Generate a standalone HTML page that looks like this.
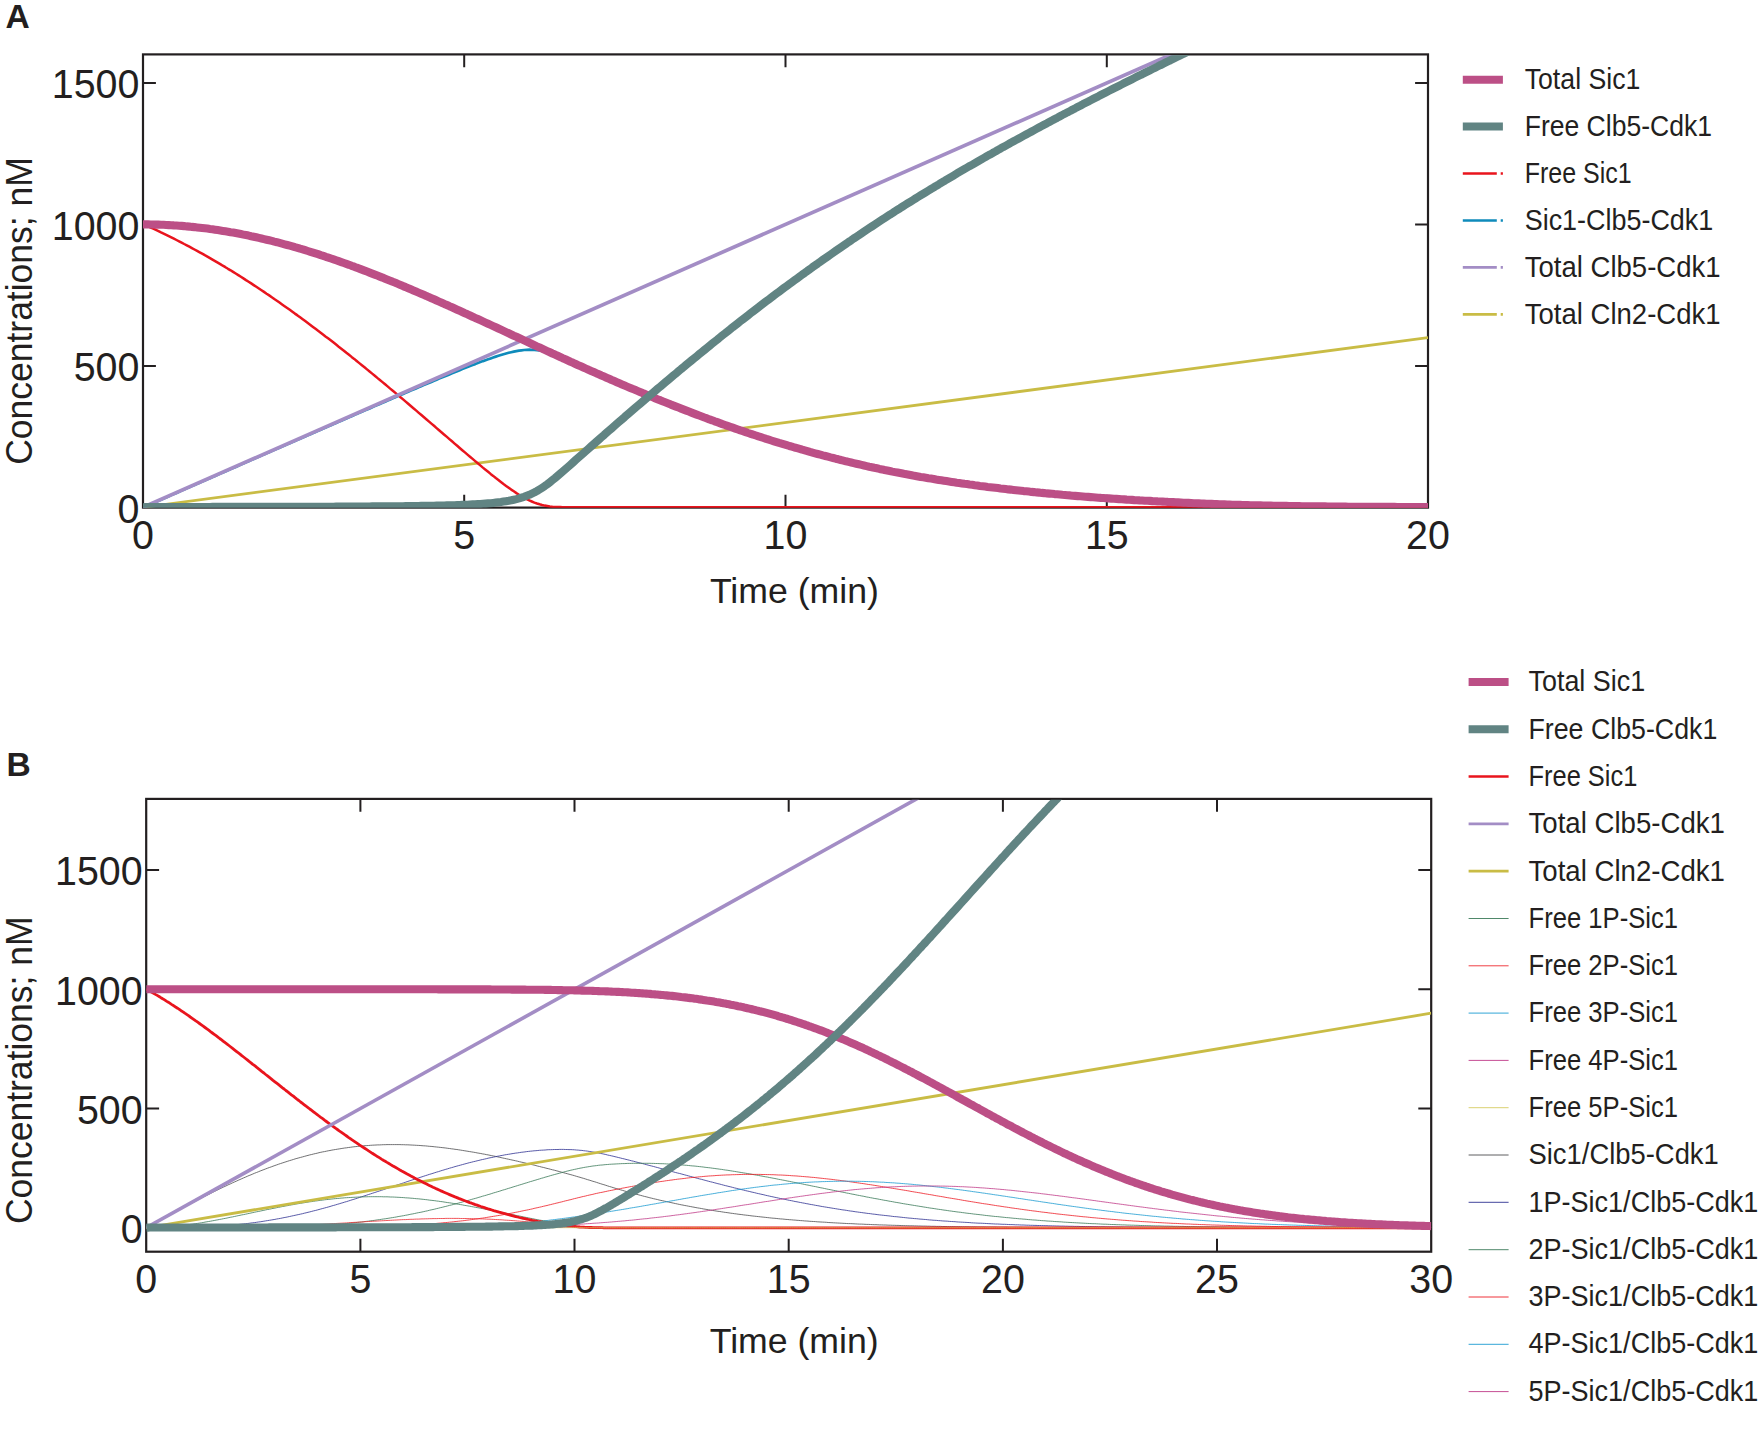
<!DOCTYPE html>
<html lang="en"><head><meta charset="utf-8"><title>Sic1 / Clb5-Cdk1 model</title>
<style>html,body{margin:0;padding:0;background:#fff}body{width:1762px;height:1429px;overflow:hidden}svg{display:block}</style>
</head><body>
<svg width="1762" height="1429" viewBox="0 0 1762 1429" font-family='"Liberation Sans", sans-serif' fill="#231f20">
<defs>
<clipPath id="ca"><rect x="143.0" y="55.3" width="1285.0" height="452.5"/></clipPath>
<clipPath id="cb"><rect x="146.2" y="799.8" width="1285.0" height="451.9"/></clipPath>
</defs>
<text x="5.6" y="28.0" font-size="33.6" font-weight="bold">A</text>
<text x="6.6" y="776.1" font-size="33.6" font-weight="bold">B</text>
<rect x="143.0" y="54.4" width="1285.0" height="453.2" fill="none" stroke="#231f20" stroke-width="2.2"/>
<path d="M143.0,365.9h12.9M1428.0,365.9h-12.9M143.0,224.4h12.9M1428.0,224.4h-12.9M143.0,83.0h12.9M1428.0,83.0h-12.9M464.2,507.6v-12.9M464.2,54.4v12.9M785.5,507.6v-12.9M785.5,54.4v12.9M1106.8,507.6v-12.9M1106.8,54.4v12.9" fill="none" stroke="#231f20" stroke-width="2"/>
<text x="139.4" y="522.6" font-size="40" text-anchor="end" textLength="21.9" lengthAdjust="spacingAndGlyphs">0</text>
<text x="139.4" y="381.2" font-size="40" text-anchor="end" textLength="65.7" lengthAdjust="spacingAndGlyphs">500</text>
<text x="139.4" y="239.7" font-size="40" text-anchor="end" textLength="87.6" lengthAdjust="spacingAndGlyphs">1000</text>
<text x="139.4" y="98.3" font-size="40" text-anchor="end" textLength="87.6" lengthAdjust="spacingAndGlyphs">1500</text>
<text x="143.0" y="548.6" font-size="40" text-anchor="middle" textLength="21.9" lengthAdjust="spacingAndGlyphs">0</text>
<text x="464.2" y="548.6" font-size="40" text-anchor="middle" textLength="21.9" lengthAdjust="spacingAndGlyphs">5</text>
<text x="785.5" y="548.6" font-size="40" text-anchor="middle" textLength="43.8" lengthAdjust="spacingAndGlyphs">10</text>
<text x="1106.8" y="548.6" font-size="40" text-anchor="middle" textLength="43.8" lengthAdjust="spacingAndGlyphs">15</text>
<text x="1428.0" y="548.6" font-size="40" text-anchor="middle" textLength="43.8" lengthAdjust="spacingAndGlyphs">20</text>
<g clip-path="url(#ca)">
<path d="M143.0,507.3L1428.0,337.6" fill="none" stroke="#c9bc45" stroke-width="2.8" stroke-linejoin="round" />
<path d="M143.0,507.3L145.6,506.5L148.2,505.3L150.7,504.2L153.3,503.1L155.9,501.9L158.5,500.8L161.0,499.7L163.6,498.5L166.2,497.4L168.8,496.3L171.3,495.1L173.9,494.0L176.5,492.9L179.1,491.7L181.6,490.6L184.2,489.5L186.8,488.3L189.4,487.2L191.9,486.1L194.5,485.0L197.1,483.8L199.7,482.7L202.2,481.6L204.8,480.4L207.4,479.3L210.0,478.2L212.5,477.0L215.1,475.9L217.7,474.8L220.3,473.6L222.8,472.5L225.4,471.4L228.0,470.3L230.6,469.1L233.1,468.0L235.7,466.9L238.3,465.7L240.9,464.6L243.4,463.5L246.0,462.3L248.6,461.2L251.2,460.1L253.7,459.0L256.3,457.8L258.9,456.7L261.5,455.6L264.0,454.4L266.6,453.3L269.2,452.2L271.8,451.1L274.3,449.9L276.9,448.8L279.5,447.7L282.1,446.5L284.6,445.4L287.2,444.3L289.8,443.2L292.4,442.0L294.9,440.9L297.5,439.8L300.1,438.7L302.7,437.5L305.2,436.4L307.8,435.3L310.4,434.2L313.0,433.0L315.5,431.9L318.1,430.8L320.7,429.7L323.3,428.5L325.8,427.4L328.4,426.3L331.0,425.2L333.6,424.0L336.1,422.9L338.7,421.8L341.3,420.7L343.9,419.5L346.4,418.4L349.0,417.3L351.6,416.2L354.2,415.1L356.7,413.9L359.3,412.8L361.9,411.7L364.5,410.6L367.0,409.5L369.6,408.4L372.2,407.2L374.8,406.1L377.3,405.0L379.9,403.9L382.5,402.8L385.1,401.7L387.6,400.6L390.2,399.5L392.8,398.3L395.4,397.2L397.9,396.1L400.5,395.0L403.1,393.9L405.7,392.8L408.2,391.7L410.8,390.6L413.4,389.5L416.0,388.4L418.5,387.3L421.1,386.2L423.7,385.1L426.3,384.0L428.8,383.0L431.4,381.9L434.0,380.8L436.6,379.7L439.1,378.6L441.7,377.6L444.3,376.5L446.9,375.4L449.4,374.4L452.0,373.3L454.6,372.2L457.2,371.2L459.7,370.2L462.3,369.1L464.9,368.1L467.5,367.1L470.0,366.1L472.6,365.0L475.2,364.1L477.8,363.1L480.3,362.1L482.9,361.1L485.5,360.2L488.1,359.3L490.6,358.4L493.2,357.5L495.8,356.6L498.4,355.8L500.9,355.0L503.5,354.2L506.1,353.5L508.7,352.8L511.2,352.2L513.8,351.6L516.4,351.1L519.0,350.6L521.5,350.3L524.1,350.0L526.7,349.8L529.3,349.7L531.8,349.8L534.4,349.9L537.0,350.2L539.6,350.5L542.1,351.0L544.7,351.7L547.3,352.4L549.9,353.2L552.4,354.1L555.0,355.1L557.6,356.1L560.2,357.2L562.7,358.3L565.3,359.4L567.9,360.5L570.5,361.7L573.1,362.8L575.6,364.0L578.2,365.2L580.8,366.3L583.4,367.5L585.9,368.6L588.5,369.8L591.1,370.9L593.7,372.0L596.2,373.2L598.8,374.3L601.4,375.5L604.0,376.6L606.5,377.7L609.1,378.8L611.7,380.0L614.3,381.1L616.8,382.2L619.4,383.3L622.0,384.4L624.6,385.5L627.1,386.6L629.7,387.7L632.3,388.8L634.9,389.8L637.4,390.9L640.0,392.0L642.6,393.1L645.2,394.1L647.7,395.2L650.3,396.3L652.9,397.3L655.5,398.4L658.0,399.4L660.6,400.4L663.2,401.5L665.8,402.5L668.3,403.5L670.9,404.6L673.5,405.6L676.1,406.6L678.6,407.6L681.2,408.6L683.8,409.6L686.4,410.6L688.9,411.6L691.5,412.6L694.1,413.6L696.7,414.6L699.2,415.5L701.8,416.5L704.4,417.5L707.0,418.4L709.5,419.4L712.1,420.3L714.7,421.3L717.3,422.2L719.8,423.1L722.4,424.1L725.0,425.0L727.6,425.9L730.1,426.8L732.7,427.7L735.3,428.6L737.9,429.5L740.4,430.4L743.0,431.2L745.6,432.1L748.2,433.0L750.7,433.8L753.3,434.7L755.9,435.5L758.5,436.4L761.0,437.2L763.6,438.0L766.2,438.9L768.8,439.7L771.3,440.5L773.9,441.3L776.5,442.1L779.1,442.9L781.6,443.6L784.2,444.4L786.8,445.2L789.4,446.0L791.9,446.7L794.5,447.5L797.1,448.2L799.7,448.9L802.2,449.7L804.8,450.4L807.4,451.1L810.0,451.9L812.5,452.6L815.1,453.3L817.7,454.0L820.3,454.7L822.8,455.4L825.4,456.0L828.0,456.7L830.6,457.4L833.1,458.0L835.7,458.7L838.3,459.3L840.9,460.0L843.4,460.6L846.0,461.3L848.6,461.9L851.2,462.5L853.7,463.1L856.3,463.7L858.9,464.3L861.5,464.9L864.0,465.5L866.6,466.1L869.2,466.7L871.8,467.2L874.3,467.8L876.9,468.3L879.5,468.9L882.1,469.4L884.6,470.0L887.2,470.5L889.8,471.0L892.4,471.6L894.9,472.1L897.5,472.6L900.1,473.1L902.7,473.6L905.2,474.1L907.8,474.5L910.4,475.0L913.0,475.5L915.5,475.9L918.1,476.4L920.7,476.9L923.3,477.3L925.8,477.7L928.4,478.2L931.0,478.6L933.6,479.0L936.1,479.5L938.7,479.9L941.3,480.3L943.9,480.7L946.4,481.1L949.0,481.5L951.6,481.9L954.2,482.3L956.7,482.7L959.3,483.0L961.9,483.4L964.5,483.8L967.0,484.1L969.6,484.5L972.2,484.8L974.8,485.2L977.3,485.5L979.9,485.9L982.5,486.2L985.1,486.5L987.6,486.9L990.2,487.2L992.8,487.5L995.4,487.8L997.9,488.1L1000.5,488.5L1003.1,488.8L1005.7,489.1L1008.3,489.4L1010.8,489.6L1013.4,489.9L1016.0,490.2L1018.6,490.5L1021.1,490.8L1023.7,491.1L1026.3,491.3L1028.9,491.6L1031.4,491.9L1034.0,492.1L1036.6,492.4L1039.2,492.6L1041.7,492.9L1044.3,493.1L1046.9,493.4L1049.5,493.6L1052.0,493.8L1054.6,494.1L1057.2,494.3L1059.8,494.5L1062.3,494.8L1064.9,495.0L1067.5,495.2L1070.1,495.4L1072.6,495.7L1075.2,495.9L1077.8,496.1L1080.4,496.3L1082.9,496.5L1085.5,496.7L1088.1,496.9L1090.7,497.1L1093.2,497.3L1095.8,497.5L1098.4,497.7L1101.0,497.9L1103.5,498.0L1106.1,498.2L1108.7,498.4L1111.3,498.6L1113.8,498.8L1116.4,498.9L1119.0,499.1L1121.6,499.3L1124.1,499.4L1126.7,499.6L1129.3,499.7L1131.9,499.9L1134.4,500.1L1137.0,500.2L1139.6,500.4L1142.2,500.5L1144.7,500.7L1147.3,500.8L1149.9,500.9L1152.5,501.1L1155.0,501.2L1157.6,501.4L1160.2,501.5L1162.8,501.6L1165.3,501.7L1167.9,501.9L1170.5,502.0L1173.1,502.1L1175.6,502.3L1178.2,502.4L1180.8,502.5L1183.4,502.7L1185.9,502.8L1188.5,502.9L1191.1,503.0L1193.7,503.2L1196.2,503.3L1198.8,503.4L1201.4,503.5L1204.0,503.6L1206.5,503.7L1209.1,503.8L1211.7,503.9L1214.3,504.0L1216.8,504.1L1219.4,504.2L1222.0,504.3L1224.6,504.4L1227.1,504.5L1229.7,504.6L1232.3,504.7L1234.9,504.8L1237.4,504.8L1240.0,504.9L1242.6,505.0L1245.2,505.1L1247.7,505.1L1250.3,505.2L1252.9,505.2L1255.5,505.3L1258.0,505.4L1260.6,505.4L1263.2,505.5L1265.8,505.5L1268.3,505.6L1270.9,505.6L1273.5,505.7L1276.1,505.7L1278.6,505.8L1281.2,505.8L1283.8,505.9L1286.4,505.9L1288.9,506.0L1291.5,506.0L1294.1,506.0L1296.7,506.1L1299.2,506.1L1301.8,506.2L1304.4,506.2L1307.0,506.2L1309.5,506.3L1312.1,506.3L1314.7,506.3L1317.3,506.4L1319.8,506.4L1322.4,506.4L1325.0,506.4L1327.6,506.5L1330.1,506.5L1332.7,506.5L1335.3,506.5L1337.9,506.6L1340.4,506.6L1343.0,506.6L1345.6,506.6L1348.2,506.7L1350.7,506.7L1353.3,506.7L1355.9,506.7L1358.5,506.7L1361.0,506.8L1363.6,506.8L1366.2,506.8L1368.8,506.8L1371.3,506.8L1373.9,506.8L1376.5,506.9L1379.1,506.9L1381.6,506.9L1384.2,506.9L1386.8,506.9L1389.4,506.9L1391.9,506.9L1394.5,506.9L1397.1,507.0L1399.7,507.0L1402.2,507.0L1404.8,507.0L1407.4,507.0L1410.0,507.0L1412.5,507.0L1415.1,507.0L1417.7,507.0L1420.3,507.0L1422.8,507.1L1425.4,507.1L1428.0,507.1" fill="none" stroke="#0f8bbb" stroke-width="2.7" stroke-linejoin="round" />
<path d="M143.0,224.4L145.6,225.2L148.2,226.4L150.7,227.6L153.3,228.7L155.9,229.9L158.5,231.1L161.0,232.4L163.6,233.6L166.2,234.8L168.8,236.1L171.3,237.4L173.9,238.7L176.5,240.0L179.1,241.3L181.6,242.6L184.2,244.0L186.8,245.3L189.4,246.7L191.9,248.1L194.5,249.5L197.1,250.9L199.7,252.3L202.2,253.7L204.8,255.2L207.4,256.6L210.0,258.1L212.5,259.6L215.1,261.1L217.7,262.6L220.3,264.1L222.8,265.7L225.4,267.2L228.0,268.8L230.6,270.3L233.1,271.9L235.7,273.5L238.3,275.1L240.9,276.8L243.4,278.4L246.0,280.1L248.6,281.7L251.2,283.4L253.7,285.1L256.3,286.8L258.9,288.5L261.5,290.2L264.0,291.9L266.6,293.7L269.2,295.4L271.8,297.2L274.3,299.0L276.9,300.7L279.5,302.5L282.1,304.4L284.6,306.2L287.2,308.0L289.8,309.8L292.4,311.7L294.9,313.6L297.5,315.4L300.1,317.3L302.7,319.2L305.2,321.1L307.8,323.0L310.4,324.9L313.0,326.9L315.5,328.8L318.1,330.8L320.7,332.7L323.3,334.7L325.8,336.7L328.4,338.6L331.0,340.6L333.6,342.6L336.1,344.6L338.7,346.7L341.3,348.7L343.9,350.7L346.4,352.8L349.0,354.8L351.6,356.9L354.2,358.9L356.7,361.0L359.3,363.1L361.9,365.2L364.5,367.3L367.0,369.4L369.6,371.5L372.2,373.6L374.8,375.7L377.3,377.9L379.9,380.0L382.5,382.1L385.1,384.3L387.6,386.4L390.2,388.6L392.8,390.7L395.4,392.9L397.9,395.1L400.5,397.3L403.1,399.4L405.7,401.6L408.2,403.8L410.8,406.0L413.4,408.2L416.0,410.4L418.5,412.6L421.1,414.8L423.7,417.0L426.3,419.2L428.8,421.4L431.4,423.6L434.0,425.8L436.6,428.1L439.1,430.3L441.7,432.5L444.3,434.7L446.9,436.9L449.4,439.1L452.0,441.3L454.6,443.6L457.2,445.8L459.7,448.0L462.3,450.2L464.9,452.4L467.5,454.6L470.0,456.7L472.6,458.9L475.2,461.1L477.8,463.3L480.3,465.4L482.9,467.6L485.5,469.7L488.1,471.8L490.6,473.9L493.2,475.9L495.8,478.0L498.4,480.0L500.9,482.0L503.5,484.0L506.1,485.9L508.7,487.8L511.2,489.6L513.8,491.3L516.4,493.1L519.0,494.7L521.5,496.2L524.1,497.7L526.7,499.1L529.3,500.4L531.8,501.5L534.4,502.6L537.0,503.5L539.6,504.3L542.1,505.0L544.7,505.6L547.3,506.0L549.9,506.4L552.4,506.7L555.0,506.9L557.6,507.0L560.2,507.1L562.7,507.2L565.3,507.2L567.9,507.3L570.5,507.3L573.1,507.3L575.6,507.3L578.2,507.3L580.8,507.3L583.4,507.3L585.9,507.3L588.5,507.3L591.1,507.3L593.7,507.3L596.2,507.3L598.8,507.3L601.4,507.3L604.0,507.3L606.5,507.3L609.1,507.3L611.7,507.3L614.3,507.3L616.8,507.3L619.4,507.3L622.0,507.3L624.6,507.3L627.1,507.3L629.7,507.3L632.3,507.3L634.9,507.3L637.4,507.3L640.0,507.3L642.6,507.3L645.2,507.3L647.7,507.3L650.3,507.3L652.9,507.3L655.5,507.3L658.0,507.3L660.6,507.3L663.2,507.3L665.8,507.3L668.3,507.3L670.9,507.3L673.5,507.3L676.1,507.3L678.6,507.3L681.2,507.3L683.8,507.3L686.4,507.3L688.9,507.3L691.5,507.3L694.1,507.3L696.7,507.3L699.2,507.3L701.8,507.3L704.4,507.3L707.0,507.3L709.5,507.3L712.1,507.3L714.7,507.3L717.3,507.3L719.8,507.3L722.4,507.3L725.0,507.3L727.6,507.3L730.1,507.3L732.7,507.3L735.3,507.3L737.9,507.3L740.4,507.3L743.0,507.3L745.6,507.3L748.2,507.3L750.7,507.3L753.3,507.3L755.9,507.3L758.5,507.3L761.0,507.3L763.6,507.3L766.2,507.3L768.8,507.3L771.3,507.3L773.9,507.3L776.5,507.3L779.1,507.3L781.6,507.3L784.2,507.3L786.8,507.3L789.4,507.3L791.9,507.3L794.5,507.3L797.1,507.3L799.7,507.3L802.2,507.3L804.8,507.3L807.4,507.3L810.0,507.3L812.5,507.3L815.1,507.3L817.7,507.3L820.3,507.3L822.8,507.3L825.4,507.3L828.0,507.3L830.6,507.3L833.1,507.3L835.7,507.3L838.3,507.3L840.9,507.3L843.4,507.3L846.0,507.3L848.6,507.3L851.2,507.3L853.7,507.3L856.3,507.3L858.9,507.3L861.5,507.3L864.0,507.3L866.6,507.3L869.2,507.3L871.8,507.3L874.3,507.3L876.9,507.3L879.5,507.3L882.1,507.3L884.6,507.3L887.2,507.3L889.8,507.3L892.4,507.3L894.9,507.3L897.5,507.3L900.1,507.3L902.7,507.3L905.2,507.3L907.8,507.3L910.4,507.3L913.0,507.3L915.5,507.3L918.1,507.3L920.7,507.3L923.3,507.3L925.8,507.3L928.4,507.3L931.0,507.3L933.6,507.3L936.1,507.3L938.7,507.3L941.3,507.3L943.9,507.3L946.4,507.3L949.0,507.3L951.6,507.3L954.2,507.3L956.7,507.3L959.3,507.3L961.9,507.3L964.5,507.3L967.0,507.3L969.6,507.3L972.2,507.3L974.8,507.3L977.3,507.3L979.9,507.3L982.5,507.3L985.1,507.3L987.6,507.3L990.2,507.3L992.8,507.3L995.4,507.3L997.9,507.3L1000.5,507.3L1003.1,507.3L1005.7,507.3L1008.3,507.3L1010.8,507.3L1013.4,507.3L1016.0,507.3L1018.6,507.3L1021.1,507.3L1023.7,507.3L1026.3,507.3L1028.9,507.3L1031.4,507.3L1034.0,507.3L1036.6,507.3L1039.2,507.3L1041.7,507.3L1044.3,507.3L1046.9,507.3L1049.5,507.3L1052.0,507.3L1054.6,507.3L1057.2,507.3L1059.8,507.3L1062.3,507.3L1064.9,507.3L1067.5,507.3L1070.1,507.3L1072.6,507.3L1075.2,507.3L1077.8,507.3L1080.4,507.3L1082.9,507.3L1085.5,507.3L1088.1,507.3L1090.7,507.3L1093.2,507.3L1095.8,507.3L1098.4,507.3L1101.0,507.3L1103.5,507.3L1106.1,507.3L1108.7,507.3L1111.3,507.3L1113.8,507.3L1116.4,507.3L1119.0,507.3L1121.6,507.3L1124.1,507.3L1126.7,507.3L1129.3,507.3L1131.9,507.3L1134.4,507.3L1137.0,507.3L1139.6,507.3L1142.2,507.3L1144.7,507.3L1147.3,507.3L1149.9,507.3L1152.5,507.3L1155.0,507.3L1157.6,507.3L1160.2,507.3L1162.8,507.3L1165.3,507.3L1167.9,507.3L1170.5,507.3L1173.1,507.3L1175.6,507.3L1178.2,507.3L1180.8,507.3L1183.4,507.3L1185.9,507.3L1188.5,507.3L1191.1,507.3L1193.7,507.3L1196.2,507.3L1198.8,507.3L1201.4,507.3L1204.0,507.3L1206.5,507.3L1209.1,507.3L1211.7,507.3L1214.3,507.3L1216.8,507.3L1219.4,507.3L1222.0,507.3L1224.6,507.3L1227.1,507.3L1229.7,507.3L1232.3,507.3L1234.9,507.3L1237.4,507.3L1240.0,507.3L1242.6,507.3L1245.2,507.3L1247.7,507.3L1250.3,507.3L1252.9,507.3L1255.5,507.3L1258.0,507.3L1260.6,507.3L1263.2,507.3L1265.8,507.3L1268.3,507.3L1270.9,507.3L1273.5,507.3L1276.1,507.3L1278.6,507.3L1281.2,507.3L1283.8,507.3L1286.4,507.3L1288.9,507.3L1291.5,507.3L1294.1,507.3L1296.7,507.3L1299.2,507.3L1301.8,507.3L1304.4,507.3L1307.0,507.3L1309.5,507.3L1312.1,507.3L1314.7,507.3L1317.3,507.3L1319.8,507.3L1322.4,507.3L1325.0,507.3L1327.6,507.3L1330.1,507.3L1332.7,507.3L1335.3,507.3L1337.9,507.3L1340.4,507.3L1343.0,507.3L1345.6,507.3L1348.2,507.3L1350.7,507.3L1353.3,507.3L1355.9,507.3L1358.5,507.3L1361.0,507.3L1363.6,507.3L1366.2,507.3L1368.8,507.3L1371.3,507.3L1373.9,507.3L1376.5,507.3L1379.1,507.3L1381.6,507.3L1384.2,507.3L1386.8,507.3L1389.4,507.3L1391.9,507.3L1394.5,507.3L1397.1,507.3L1399.7,507.3L1402.2,507.3L1404.8,507.3L1407.4,507.3L1410.0,507.3L1412.5,507.3L1415.1,507.3L1417.7,507.3L1420.3,507.3L1422.8,507.3L1425.4,507.3L1428.0,507.3" fill="none" stroke="#e9141d" stroke-width="2.5" stroke-linejoin="round" />
<path d="M143.0,507.3L1428.0,-58.5" fill="none" stroke="#a38dc5" stroke-width="3.7" stroke-linejoin="round" />
<path d="M143.0,224.4L145.6,224.4L148.2,224.4L150.7,224.5L153.3,224.5L155.9,224.6L158.5,224.6L161.0,224.7L163.6,224.8L166.2,225.0L168.8,225.1L171.3,225.2L173.9,225.4L176.5,225.5L179.1,225.7L181.6,225.9L184.2,226.1L186.8,226.4L189.4,226.6L191.9,226.9L194.5,227.1L197.1,227.4L199.7,227.7L202.2,228.0L204.8,228.3L207.4,228.6L210.0,229.0L212.5,229.3L215.1,229.7L217.7,230.1L220.3,230.5L222.8,230.9L225.4,231.3L228.0,231.7L230.6,232.2L233.1,232.6L235.7,233.1L238.3,233.6L240.9,234.1L243.4,234.6L246.0,235.1L248.6,235.6L251.2,236.2L253.7,236.7L256.3,237.3L258.9,237.9L261.5,238.5L264.0,239.1L266.6,239.7L269.2,240.3L271.8,240.9L274.3,241.6L276.9,242.2L279.5,242.9L282.1,243.6L284.6,244.3L287.2,245.0L289.8,245.7L292.4,246.4L294.9,247.2L297.5,247.9L300.1,248.7L302.7,249.4L305.2,250.2L307.8,251.0L310.4,251.8L313.0,252.6L315.5,253.4L318.1,254.2L320.7,255.1L323.3,255.9L325.8,256.8L328.4,257.6L331.0,258.5L333.6,259.4L336.1,260.3L338.7,261.2L341.3,262.1L343.9,263.0L346.4,263.9L349.0,264.8L351.6,265.8L354.2,266.7L356.7,267.7L359.3,268.6L361.9,269.6L364.5,270.6L367.0,271.6L369.6,272.6L372.2,273.6L374.8,274.6L377.3,275.6L379.9,276.6L382.5,277.6L385.1,278.7L387.6,279.7L390.2,280.7L392.8,281.8L395.4,282.8L397.9,283.9L400.5,285.0L403.1,286.1L405.7,287.1L408.2,288.2L410.8,289.3L413.4,290.4L416.0,291.5L418.5,292.6L421.1,293.7L423.7,294.8L426.3,295.9L428.8,297.1L431.4,298.2L434.0,299.3L436.6,300.5L439.1,301.6L441.7,302.7L444.3,303.9L446.9,305.0L449.4,306.2L452.0,307.3L454.6,308.5L457.2,309.7L459.7,310.8L462.3,312.0L464.9,313.2L467.5,314.3L470.0,315.5L472.6,316.7L475.2,317.9L477.8,319.0L480.3,320.2L482.9,321.4L485.5,322.6L488.1,323.8L490.6,324.9L493.2,326.1L495.8,327.3L498.4,328.5L500.9,329.7L503.5,330.9L506.1,332.1L508.7,333.3L511.2,334.5L513.8,335.7L516.4,336.8L519.0,338.0L521.5,339.2L524.1,340.4L526.7,341.6L529.3,342.8L531.8,344.0L534.4,345.2L537.0,346.4L539.6,347.5L542.1,348.7L544.7,349.9L547.3,351.1L549.9,352.3L552.4,353.5L555.0,354.6L557.6,355.8L560.2,357.0L562.7,358.2L565.3,359.3L567.9,360.5L570.5,361.7L573.1,362.8L575.6,364.0L578.2,365.2L580.8,366.3L583.4,367.5L585.9,368.6L588.5,369.8L591.1,370.9L593.7,372.0L596.2,373.2L598.8,374.3L601.4,375.5L604.0,376.6L606.5,377.7L609.1,378.8L611.7,380.0L614.3,381.1L616.8,382.2L619.4,383.3L622.0,384.4L624.6,385.5L627.1,386.6L629.7,387.7L632.3,388.8L634.9,389.8L637.4,390.9L640.0,392.0L642.6,393.1L645.2,394.1L647.7,395.2L650.3,396.3L652.9,397.3L655.5,398.4L658.0,399.4L660.6,400.4L663.2,401.5L665.8,402.5L668.3,403.5L670.9,404.6L673.5,405.6L676.1,406.6L678.6,407.6L681.2,408.6L683.8,409.6L686.4,410.6L688.9,411.6L691.5,412.6L694.1,413.6L696.7,414.6L699.2,415.5L701.8,416.5L704.4,417.5L707.0,418.4L709.5,419.4L712.1,420.3L714.7,421.3L717.3,422.2L719.8,423.1L722.4,424.1L725.0,425.0L727.6,425.9L730.1,426.8L732.7,427.7L735.3,428.6L737.9,429.5L740.4,430.4L743.0,431.2L745.6,432.1L748.2,433.0L750.7,433.8L753.3,434.7L755.9,435.5L758.5,436.4L761.0,437.2L763.6,438.0L766.2,438.9L768.8,439.7L771.3,440.5L773.9,441.3L776.5,442.1L779.1,442.9L781.6,443.6L784.2,444.4L786.8,445.2L789.4,446.0L791.9,446.7L794.5,447.5L797.1,448.2L799.7,448.9L802.2,449.7L804.8,450.4L807.4,451.1L810.0,451.9L812.5,452.6L815.1,453.3L817.7,454.0L820.3,454.7L822.8,455.4L825.4,456.0L828.0,456.7L830.6,457.4L833.1,458.0L835.7,458.7L838.3,459.3L840.9,460.0L843.4,460.6L846.0,461.3L848.6,461.9L851.2,462.5L853.7,463.1L856.3,463.7L858.9,464.3L861.5,464.9L864.0,465.5L866.6,466.1L869.2,466.7L871.8,467.2L874.3,467.8L876.9,468.3L879.5,468.9L882.1,469.4L884.6,470.0L887.2,470.5L889.8,471.0L892.4,471.6L894.9,472.1L897.5,472.6L900.1,473.1L902.7,473.6L905.2,474.1L907.8,474.5L910.4,475.0L913.0,475.5L915.5,475.9L918.1,476.4L920.7,476.9L923.3,477.3L925.8,477.7L928.4,478.2L931.0,478.6L933.6,479.0L936.1,479.5L938.7,479.9L941.3,480.3L943.9,480.7L946.4,481.1L949.0,481.5L951.6,481.9L954.2,482.3L956.7,482.7L959.3,483.0L961.9,483.4L964.5,483.8L967.0,484.1L969.6,484.5L972.2,484.8L974.8,485.2L977.3,485.5L979.9,485.9L982.5,486.2L985.1,486.5L987.6,486.9L990.2,487.2L992.8,487.5L995.4,487.8L997.9,488.1L1000.5,488.5L1003.1,488.8L1005.7,489.1L1008.3,489.4L1010.8,489.6L1013.4,489.9L1016.0,490.2L1018.6,490.5L1021.1,490.8L1023.7,491.1L1026.3,491.3L1028.9,491.6L1031.4,491.9L1034.0,492.1L1036.6,492.4L1039.2,492.6L1041.7,492.9L1044.3,493.1L1046.9,493.4L1049.5,493.6L1052.0,493.8L1054.6,494.1L1057.2,494.3L1059.8,494.5L1062.3,494.8L1064.9,495.0L1067.5,495.2L1070.1,495.4L1072.6,495.7L1075.2,495.9L1077.8,496.1L1080.4,496.3L1082.9,496.5L1085.5,496.7L1088.1,496.9L1090.7,497.1L1093.2,497.3L1095.8,497.5L1098.4,497.7L1101.0,497.9L1103.5,498.0L1106.1,498.2L1108.7,498.4L1111.3,498.6L1113.8,498.8L1116.4,498.9L1119.0,499.1L1121.6,499.3L1124.1,499.4L1126.7,499.6L1129.3,499.7L1131.9,499.9L1134.4,500.1L1137.0,500.2L1139.6,500.4L1142.2,500.5L1144.7,500.7L1147.3,500.8L1149.9,500.9L1152.5,501.1L1155.0,501.2L1157.6,501.4L1160.2,501.5L1162.8,501.6L1165.3,501.7L1167.9,501.9L1170.5,502.0L1173.1,502.1L1175.6,502.3L1178.2,502.4L1180.8,502.5L1183.4,502.7L1185.9,502.8L1188.5,502.9L1191.1,503.0L1193.7,503.2L1196.2,503.3L1198.8,503.4L1201.4,503.5L1204.0,503.6L1206.5,503.7L1209.1,503.8L1211.7,503.9L1214.3,504.0L1216.8,504.1L1219.4,504.2L1222.0,504.3L1224.6,504.4L1227.1,504.5L1229.7,504.6L1232.3,504.7L1234.9,504.8L1237.4,504.8L1240.0,504.9L1242.6,505.0L1245.2,505.1L1247.7,505.1L1250.3,505.2L1252.9,505.2L1255.5,505.3L1258.0,505.4L1260.6,505.4L1263.2,505.5L1265.8,505.5L1268.3,505.6L1270.9,505.6L1273.5,505.7L1276.1,505.7L1278.6,505.8L1281.2,505.8L1283.8,505.9L1286.4,505.9L1288.9,506.0L1291.5,506.0L1294.1,506.0L1296.7,506.1L1299.2,506.1L1301.8,506.2L1304.4,506.2L1307.0,506.2L1309.5,506.3L1312.1,506.3L1314.7,506.3L1317.3,506.4L1319.8,506.4L1322.4,506.4L1325.0,506.4L1327.6,506.5L1330.1,506.5L1332.7,506.5L1335.3,506.5L1337.9,506.6L1340.4,506.6L1343.0,506.6L1345.6,506.6L1348.2,506.7L1350.7,506.7L1353.3,506.7L1355.9,506.7L1358.5,506.7L1361.0,506.8L1363.6,506.8L1366.2,506.8L1368.8,506.8L1371.3,506.8L1373.9,506.8L1376.5,506.9L1379.1,506.9L1381.6,506.9L1384.2,506.9L1386.8,506.9L1389.4,506.9L1391.9,506.9L1394.5,506.9L1397.1,507.0L1399.7,507.0L1402.2,507.0L1404.8,507.0L1407.4,507.0L1410.0,507.0L1412.5,507.0L1415.1,507.0L1417.7,507.0L1420.3,507.0L1422.8,507.1L1425.4,507.1L1428.0,507.1" fill="none" stroke="#bc4f86" stroke-width="8.1" stroke-linejoin="round" />
<path d="M143.0,507.3L145.6,507.0L148.2,507.0L150.7,507.0L153.3,507.0L155.9,507.0L158.5,507.0L161.0,507.0L163.6,507.0L166.2,507.0L168.8,507.0L171.3,507.0L173.9,507.0L176.5,507.0L179.1,507.0L181.6,507.0L184.2,507.0L186.8,507.0L189.4,507.0L191.9,507.0L194.5,507.0L197.1,507.0L199.7,507.0L202.2,507.0L204.8,507.0L207.4,507.0L210.0,507.0L212.5,506.9L215.1,506.9L217.7,506.9L220.3,506.9L222.8,506.9L225.4,506.9L228.0,506.9L230.6,506.9L233.1,506.9L235.7,506.9L238.3,506.9L240.9,506.9L243.4,506.9L246.0,506.9L248.6,506.9L251.2,506.9L253.7,506.9L256.3,506.9L258.9,506.9L261.5,506.9L264.0,506.9L266.6,506.9L269.2,506.9L271.8,506.9L274.3,506.8L276.9,506.8L279.5,506.8L282.1,506.8L284.6,506.8L287.2,506.8L289.8,506.8L292.4,506.8L294.9,506.8L297.5,506.8L300.1,506.8L302.7,506.8L305.2,506.8L307.8,506.8L310.4,506.7L313.0,506.7L315.5,506.7L318.1,506.7L320.7,506.7L323.3,506.7L325.8,506.7L328.4,506.7L331.0,506.7L333.6,506.7L336.1,506.6L338.7,506.6L341.3,506.6L343.9,506.6L346.4,506.6L349.0,506.6L351.6,506.6L354.2,506.6L356.7,506.5L359.3,506.5L361.9,506.5L364.5,506.5L367.0,506.5L369.6,506.5L372.2,506.4L374.8,506.4L377.3,506.4L379.9,506.4L382.5,506.4L385.1,506.3L387.6,506.3L390.2,506.3L392.8,506.3L395.4,506.2L397.9,506.2L400.5,506.2L403.1,506.2L405.7,506.1L408.2,506.1L410.8,506.1L413.4,506.0L416.0,506.0L418.5,506.0L421.1,505.9L423.7,505.9L426.3,505.8L428.8,505.8L431.4,505.7L434.0,505.7L436.6,505.6L439.1,505.6L441.7,505.5L444.3,505.5L446.9,505.4L449.4,505.3L452.0,505.2L454.6,505.2L457.2,505.1L459.7,505.0L462.3,504.9L464.9,504.8L467.5,504.7L470.0,504.5L472.6,504.4L475.2,504.3L477.8,504.1L480.3,504.0L482.9,503.8L485.5,503.6L488.1,503.4L490.6,503.2L493.2,502.9L495.8,502.6L498.4,502.3L500.9,502.0L503.5,501.6L506.1,501.2L508.7,500.8L511.2,500.3L513.8,499.7L516.4,499.1L519.0,498.4L521.5,497.6L524.1,496.8L526.7,495.8L529.3,494.8L531.8,493.6L534.4,492.4L537.0,491.0L539.6,489.4L542.1,487.8L544.7,486.1L547.3,484.2L549.9,482.2L552.4,480.2L555.0,478.1L557.6,475.9L560.2,473.7L562.7,471.5L565.3,469.2L567.9,467.0L570.5,464.7L573.1,462.4L575.6,460.1L578.2,457.8L580.8,455.5L583.4,453.2L585.9,451.0L588.5,448.7L591.1,446.4L593.7,444.1L596.2,441.9L598.8,439.6L601.4,437.3L604.0,435.1L606.5,432.8L609.1,430.5L611.7,428.3L614.3,426.0L616.8,423.8L619.4,421.5L622.0,419.3L624.6,417.1L627.1,414.8L629.7,412.6L632.3,410.4L634.9,408.2L637.4,406.0L640.0,403.8L642.6,401.6L645.2,399.4L647.7,397.2L650.3,395.0L652.9,392.8L655.5,390.6L658.0,388.4L660.6,386.3L663.2,384.1L665.8,381.9L668.3,379.8L670.9,377.6L673.5,375.4L676.1,373.3L678.6,371.2L681.2,369.0L683.8,366.9L686.4,364.7L688.9,362.6L691.5,360.5L694.1,358.4L696.7,356.3L699.2,354.2L701.8,352.1L704.4,350.0L707.0,347.9L709.5,345.8L712.1,343.7L714.7,341.6L717.3,339.6L719.8,337.5L722.4,335.4L725.0,333.4L727.6,331.3L730.1,329.3L732.7,327.2L735.3,325.2L737.9,323.2L740.4,321.2L743.0,319.2L745.6,317.2L748.2,315.2L750.7,313.2L753.3,311.2L755.9,309.2L758.5,307.2L761.0,305.3L763.6,303.3L766.2,301.3L768.8,299.4L771.3,297.5L773.9,295.5L776.5,293.6L779.1,291.7L781.6,289.8L784.2,287.8L786.8,285.9L789.4,284.0L791.9,282.2L794.5,280.3L797.1,278.4L799.7,276.5L802.2,274.6L804.8,272.8L807.4,270.9L810.0,269.1L812.5,267.2L815.1,265.4L817.7,263.6L820.3,261.7L822.8,259.9L825.4,258.1L828.0,256.3L830.6,254.5L833.1,252.7L835.7,250.9L838.3,249.1L840.9,247.3L843.4,245.6L846.0,243.8L848.6,242.0L851.2,240.3L853.7,238.5L856.3,236.8L858.9,235.1L861.5,233.3L864.0,231.6L866.6,229.9L869.2,228.2L871.8,226.5L874.3,224.8L876.9,223.1L879.5,221.4L882.1,219.7L884.6,218.1L887.2,216.4L889.8,214.7L892.4,213.1L894.9,211.4L897.5,209.8L900.1,208.2L902.7,206.5L905.2,204.9L907.8,203.3L910.4,201.7L913.0,200.1L915.5,198.5L918.1,196.9L920.7,195.3L923.3,193.7L925.8,192.2L928.4,190.6L931.0,189.0L933.6,187.5L936.1,185.9L938.7,184.4L941.3,182.8L943.9,181.3L946.4,179.7L949.0,178.2L951.6,176.7L954.2,175.2L956.7,173.6L959.3,172.1L961.9,170.6L964.5,169.1L967.0,167.6L969.6,166.1L972.2,164.7L974.8,163.2L977.3,161.7L979.9,160.2L982.5,158.7L985.1,157.3L987.6,155.8L990.2,154.4L992.8,152.9L995.4,151.5L997.9,150.0L1000.5,148.6L1003.1,147.1L1005.7,145.7L1008.3,144.3L1010.8,142.8L1013.4,141.4L1016.0,140.0L1018.6,138.6L1021.1,137.2L1023.7,135.8L1026.3,134.4L1028.9,133.0L1031.4,131.6L1034.0,130.2L1036.6,128.8L1039.2,127.4L1041.7,126.0L1044.3,124.6L1046.9,123.3L1049.5,121.9L1052.0,120.5L1054.6,119.1L1057.2,117.8L1059.8,116.4L1062.3,115.0L1064.9,113.7L1067.5,112.3L1070.1,111.0L1072.6,109.6L1075.2,108.3L1077.8,106.9L1080.4,105.6L1082.9,104.2L1085.5,102.9L1088.1,101.6L1090.7,100.2L1093.2,98.9L1095.8,97.6L1098.4,96.3L1101.0,94.9L1103.5,93.6L1106.1,92.3L1108.7,91.0L1111.3,89.7L1113.8,88.4L1116.4,87.1L1119.0,85.8L1121.6,84.5L1124.1,83.2L1126.7,81.9L1129.3,80.6L1131.9,79.3L1134.4,78.0L1137.0,76.7L1139.6,75.4L1142.2,74.2L1144.7,72.9L1147.3,71.6L1149.9,70.3L1152.5,69.0L1155.0,67.8L1157.6,66.5L1160.2,65.2L1162.8,64.0L1165.3,62.7L1167.9,61.4L1170.5,60.2L1173.1,58.9L1175.6,57.6L1178.2,56.4L1180.8,55.1L1183.4,53.9L1185.9,52.6L1188.5,51.3L1191.1,50.1L1193.7,48.8L1196.2,47.6L1198.8,46.3L1201.4,45.1L1204.0,43.8L1206.5,42.6L1209.1,41.3L1211.7,40.1L1214.3,38.9L1216.8,37.6L1219.4,36.4L1222.0,35.2L1224.6,34.0L1227.1,32.7L1229.7,31.5L1232.3,30.3L1234.9,29.1L1237.4,27.9L1240.0,26.7L1242.6,25.5L1245.2,24.3L1247.7,23.0L1250.3,21.9L1252.9,20.7L1255.5,19.5L1258.0,18.3L1260.6,17.1L1263.2,15.9L1265.8,14.7L1268.3,13.5L1270.9,12.3L1273.5,11.1L1276.1,10.0L1278.6,8.8L1281.2,7.6L1283.8,6.4L1286.4,5.2L1288.9,4.1L1291.5,2.9L1294.1,1.7L1296.7,0.5L1299.2,-0.6L1301.8,-1.8L1304.4,-3.0L1307.0,-4.1L1309.5,-5.3L1312.1,-5.6L1314.7,-5.6L1317.3,-5.6L1319.8,-5.6L1322.4,-5.6L1325.0,-5.6L1327.6,-5.6L1330.1,-5.6L1332.7,-5.6L1335.3,-5.6L1337.9,-5.6L1340.4,-5.6L1343.0,-5.6L1345.6,-5.6L1348.2,-5.6L1350.7,-5.6L1353.3,-5.6L1355.9,-5.6L1358.5,-5.6L1361.0,-5.6L1363.6,-5.6L1366.2,-5.6L1368.8,-5.6L1371.3,-5.6L1373.9,-5.6L1376.5,-5.6L1379.1,-5.6L1381.6,-5.6L1384.2,-5.6L1386.8,-5.6L1389.4,-5.6L1391.9,-5.6L1394.5,-5.6L1397.1,-5.6L1399.7,-5.6L1402.2,-5.6L1404.8,-5.6L1407.4,-5.6L1410.0,-5.6L1412.5,-5.6L1415.1,-5.6L1417.7,-5.6L1420.3,-5.6L1422.8,-5.6L1425.4,-5.6L1428.0,-5.6" fill="none" stroke="#618483" stroke-width="8.1" stroke-linejoin="round" />
</g>
<text x="794.4" y="603.1" font-size="35.4" text-anchor="middle" textLength="169" lengthAdjust="spacingAndGlyphs">Time (min)</text>
<text transform="translate(32.1,311) rotate(-90)" font-size="36" text-anchor="middle" textLength="307.5" lengthAdjust="spacingAndGlyphs">Concentrations; nM</text>
<path d="M1462.8,79.7h40.1" stroke="#bc4f86" stroke-width="8" fill="none"/>
<text x="1524.7" y="88.8" font-size="29" textLength="115.7" lengthAdjust="spacingAndGlyphs">Total Sic1</text>
<path d="M1462.8,126.6h40.1" stroke="#618483" stroke-width="8" fill="none"/>
<text x="1524.7" y="135.9" font-size="29" textLength="187.3" lengthAdjust="spacingAndGlyphs">Free Clb5-Cdk1</text>
<path d="M1462.8,173.5h40.1" stroke="#e9141d" stroke-width="2.7" fill="none" stroke-dasharray="34 3.9 2.2 50"/>
<text x="1524.7" y="183.0" font-size="29" textLength="107.0" lengthAdjust="spacingAndGlyphs">Free Sic1</text>
<path d="M1462.8,220.5h40.1" stroke="#0f8bbb" stroke-width="2.7" fill="none" stroke-dasharray="34 3.9 2.2 50"/>
<text x="1524.7" y="230.0" font-size="29" textLength="188.6" lengthAdjust="spacingAndGlyphs">Sic1-Clb5-Cdk1</text>
<path d="M1462.8,267.4h40.1" stroke="#a38dc5" stroke-width="2.7" fill="none" stroke-dasharray="34 3.9 2.2 50"/>
<text x="1524.7" y="277.1" font-size="29" textLength="195.9" lengthAdjust="spacingAndGlyphs">Total Clb5-Cdk1</text>
<path d="M1462.8,314.3h40.1" stroke="#c9bc45" stroke-width="2.7" fill="none" stroke-dasharray="34 3.9 2.2 50"/>
<text x="1524.7" y="324.2" font-size="29" textLength="195.9" lengthAdjust="spacingAndGlyphs">Total Cln2-Cdk1</text>
<rect x="146.2" y="798.9" width="1285.0" height="452.8" fill="none" stroke="#231f20" stroke-width="2.2"/>
<path d="M146.2,1227.8h12.9M1431.2,1227.8h-12.9M146.2,1108.6h12.9M1431.2,1108.6h-12.9M146.2,989.3h12.9M1431.2,989.3h-12.9M146.2,870.1h12.9M1431.2,870.1h-12.9M360.4,1251.7v-12.9M360.4,798.9v12.9M574.5,1251.7v-12.9M574.5,798.9v12.9M788.7,1251.7v-12.9M788.7,798.9v12.9M1002.9,1251.7v-12.9M1002.9,798.9v12.9M1217.0,1251.7v-12.9M1217.0,798.9v12.9" fill="none" stroke="#231f20" stroke-width="2"/>
<text x="142.6" y="1243.1" font-size="40" text-anchor="end" textLength="21.9" lengthAdjust="spacingAndGlyphs">0</text>
<text x="142.6" y="1123.9" font-size="40" text-anchor="end" textLength="65.7" lengthAdjust="spacingAndGlyphs">500</text>
<text x="142.6" y="1004.6" font-size="40" text-anchor="end" textLength="87.6" lengthAdjust="spacingAndGlyphs">1000</text>
<text x="142.6" y="885.4" font-size="40" text-anchor="end" textLength="87.6" lengthAdjust="spacingAndGlyphs">1500</text>
<text x="146.2" y="1292.7" font-size="40" text-anchor="middle" textLength="21.9" lengthAdjust="spacingAndGlyphs">0</text>
<text x="360.4" y="1292.7" font-size="40" text-anchor="middle" textLength="21.9" lengthAdjust="spacingAndGlyphs">5</text>
<text x="574.5" y="1292.7" font-size="40" text-anchor="middle" textLength="43.8" lengthAdjust="spacingAndGlyphs">10</text>
<text x="788.7" y="1292.7" font-size="40" text-anchor="middle" textLength="43.8" lengthAdjust="spacingAndGlyphs">15</text>
<text x="1002.9" y="1292.7" font-size="40" text-anchor="middle" textLength="43.8" lengthAdjust="spacingAndGlyphs">20</text>
<text x="1217.0" y="1292.7" font-size="40" text-anchor="middle" textLength="43.8" lengthAdjust="spacingAndGlyphs">25</text>
<text x="1431.2" y="1292.7" font-size="40" text-anchor="middle" textLength="43.8" lengthAdjust="spacingAndGlyphs">30</text>
<g clip-path="url(#cb)">
<path d="M146.2,1227.8L148.0,1227.0L149.9,1226.0L151.7,1225.0L153.6,1224.0L155.4,1222.9L157.2,1221.9L159.1,1220.9L160.9,1219.9L162.7,1218.9L164.6,1217.9L166.4,1216.8L168.3,1215.8L170.1,1214.8L171.9,1213.8L173.8,1212.8L175.6,1211.8L177.5,1210.8L179.3,1209.8L181.1,1208.8L183.0,1207.8L184.8,1206.8L186.6,1205.9L188.5,1204.9L190.3,1203.9L192.2,1202.9L194.0,1202.0L195.8,1201.0L197.7,1200.0L199.5,1199.1L201.4,1198.1L203.2,1197.2L205.0,1196.2L206.9,1195.3L208.7,1194.4L210.5,1193.5L212.4,1192.5L214.2,1191.6L216.1,1190.7L217.9,1189.8L219.7,1188.9L221.6,1188.0L223.4,1187.1L225.2,1186.3L227.1,1185.4L228.9,1184.5L230.8,1183.7L232.6,1182.8L234.4,1182.0L236.3,1181.2L238.1,1180.3L240.0,1179.5L241.8,1178.7L243.6,1177.9L245.5,1177.1L247.3,1176.3L249.1,1175.5L251.0,1174.8L252.8,1174.0L254.7,1173.2L256.5,1172.5L258.3,1171.8L260.2,1171.0L262.0,1170.3L263.9,1169.6L265.7,1168.9L267.5,1168.2L269.4,1167.5L271.2,1166.9L273.0,1166.2L274.9,1165.5L276.7,1164.9L278.6,1164.2L280.4,1163.6L282.2,1163.0L284.1,1162.4L285.9,1161.8L287.8,1161.2L289.6,1160.6L291.4,1160.1L293.3,1159.5L295.1,1158.9L296.9,1158.4L298.8,1157.9L300.6,1157.4L302.5,1156.9L304.3,1156.4L306.1,1155.9L308.0,1155.4L309.8,1154.9L311.7,1154.5L313.5,1154.0L315.3,1153.6L317.2,1153.2L319.0,1152.7L320.8,1152.3L322.7,1151.9L324.5,1151.6L326.4,1151.2L328.2,1150.8L330.0,1150.5L331.9,1150.1L333.7,1149.8L335.5,1149.5L337.4,1149.2L339.2,1148.9L341.1,1148.6L342.9,1148.3L344.7,1148.0L346.6,1147.8L348.4,1147.5L350.3,1147.3L352.1,1147.0L353.9,1146.8L355.8,1146.6L357.6,1146.4L359.4,1146.2L361.3,1146.1L363.1,1145.9L365.0,1145.7L366.8,1145.6L368.6,1145.5L370.5,1145.3L372.3,1145.2L374.2,1145.1L376.0,1145.0L377.8,1144.9L379.7,1144.9L381.5,1144.8L383.3,1144.7L385.2,1144.7L387.0,1144.6L388.9,1144.6L390.7,1144.6L392.5,1144.6L394.4,1144.6L396.2,1144.6L398.1,1144.6L399.9,1144.6L401.7,1144.7L403.6,1144.7L405.4,1144.8L407.2,1144.8L409.1,1144.9L410.9,1145.0L412.8,1145.1L414.6,1145.2L416.4,1145.3L418.3,1145.4L420.1,1145.5L422.0,1145.7L423.8,1145.8L425.6,1145.9L427.5,1146.1L429.3,1146.3L431.1,1146.4L433.0,1146.6L434.8,1146.8L436.7,1147.0L438.5,1147.2L440.3,1147.4L442.2,1147.6L444.0,1147.8L445.8,1148.0L447.7,1148.3L449.5,1148.5L451.4,1148.8L453.2,1149.0L455.0,1149.3L456.9,1149.5L458.7,1149.8L460.6,1150.1L462.4,1150.4L464.2,1150.7L466.1,1151.0L467.9,1151.3L469.7,1151.6L471.6,1151.9L473.4,1152.2L475.3,1152.5L477.1,1152.9L478.9,1153.2L480.8,1153.5L482.6,1153.9L484.5,1154.2L486.3,1154.6L488.1,1154.9L490.0,1155.3L491.8,1155.7L493.6,1156.0L495.5,1156.4L497.3,1156.8L499.2,1157.2L501.0,1157.6L502.8,1158.0L504.7,1158.4L506.5,1158.8L508.4,1159.2L510.2,1159.6L512.0,1160.0L513.9,1160.4L515.7,1160.8L517.5,1161.2L519.4,1161.7L521.2,1162.1L523.1,1162.5L524.9,1162.9L526.7,1163.4L528.6,1163.8L530.4,1164.3L532.3,1164.7L534.1,1165.1L535.9,1165.6L537.8,1166.1L539.6,1166.5L541.4,1167.0L543.3,1167.4L545.1,1167.9L547.0,1168.4L548.8,1168.8L550.6,1169.3L552.5,1169.8L554.3,1170.2L556.1,1170.7L558.0,1171.2L559.8,1171.7L561.7,1172.2L563.5,1172.7L565.3,1173.2L567.2,1173.7L569.0,1174.2L570.9,1174.7L572.7,1175.2L574.5,1175.7L576.4,1176.3L578.2,1176.8L580.0,1177.3L581.9,1177.9L583.7,1178.4L585.6,1179.0L587.4,1179.6L589.2,1180.1L591.1,1180.7L592.9,1181.3L594.8,1181.8L596.6,1182.4L598.4,1183.0L600.3,1183.6L602.1,1184.2L603.9,1184.7L605.8,1185.3L607.6,1185.9L609.5,1186.5L611.3,1187.0L613.1,1187.6L615.0,1188.2L616.8,1188.7L618.7,1189.3L620.5,1189.8L622.3,1190.3L624.2,1190.9L626.0,1191.4L627.8,1191.9L629.7,1192.4L631.5,1192.9L633.4,1193.5L635.2,1194.0L637.0,1194.4L638.9,1194.9L640.7,1195.4L642.6,1195.9L644.4,1196.4L646.2,1196.8L648.1,1197.3L649.9,1197.8L651.7,1198.2L653.6,1198.7L655.4,1199.1L657.3,1199.5L659.1,1200.0L660.9,1200.4L662.8,1200.8L664.6,1201.2L666.5,1201.6L668.3,1202.0L670.1,1202.4L672.0,1202.8L673.8,1203.2L675.6,1203.6L677.5,1204.0L679.3,1204.4L681.2,1204.8L683.0,1205.1L684.8,1205.5L686.7,1205.8L688.5,1206.2L690.3,1206.5L692.2,1206.9L694.0,1207.2L695.9,1207.6L697.7,1207.9L699.5,1208.2L701.4,1208.5L703.2,1208.9L705.1,1209.2L706.9,1209.5L708.7,1209.8L710.6,1210.1L712.4,1210.4L714.2,1210.7L716.1,1211.0L717.9,1211.3L719.8,1211.5L721.6,1211.8L723.4,1212.1L725.3,1212.4L727.1,1212.6L729.0,1212.9L730.8,1213.2L732.6,1213.4L734.5,1213.7L736.3,1213.9L738.1,1214.2L740.0,1214.4L741.8,1214.6L743.7,1214.9L745.5,1215.1L747.3,1215.3L749.2,1215.5L751.0,1215.8L752.9,1216.0L754.7,1216.2L756.5,1216.4L758.4,1216.6L760.2,1216.8L762.0,1217.0L763.9,1217.2L765.7,1217.4L767.6,1217.6L769.4,1217.8L771.2,1218.0L773.1,1218.2L774.9,1218.3L776.8,1218.5L778.6,1218.7L780.4,1218.9L782.3,1219.0L784.1,1219.2L785.9,1219.4L787.8,1219.5L789.6,1219.7L791.5,1219.8L793.3,1220.0L795.1,1220.1L797.0,1220.3L798.8,1220.4L800.6,1220.6L802.5,1220.7L804.3,1220.9L806.2,1221.0L808.0,1221.1L809.8,1221.3L811.7,1221.4L813.5,1221.5L815.4,1221.6L817.2,1221.8L819.0,1221.9L820.9,1222.0L822.7,1222.1L824.5,1222.2L826.4,1222.3L828.2,1222.5L830.1,1222.6L831.9,1222.7L833.7,1222.8L835.6,1222.9L837.4,1223.0L839.3,1223.1L841.1,1223.2L842.9,1223.3L844.8,1223.4L846.6,1223.5L848.4,1223.6L850.3,1223.6L852.1,1223.7L854.0,1223.8L855.8,1223.9L857.6,1224.0L859.5,1224.1L861.3,1224.1L863.2,1224.2L865.0,1224.3L866.8,1224.4L868.7,1224.4L870.5,1224.5L872.3,1224.6L874.2,1224.7L876.0,1224.7L877.9,1224.8L879.7,1224.9L881.5,1224.9L883.4,1225.0L885.2,1225.0L887.1,1225.1L888.9,1225.2L890.7,1225.2L892.6,1225.3L894.4,1225.3L896.2,1225.4L898.1,1225.4L899.9,1225.5L901.8,1225.6L903.6,1225.6L905.4,1225.7L907.3,1225.7L909.1,1225.8L910.9,1225.8L912.8,1225.8L914.6,1225.9L916.5,1225.9L918.3,1226.0L920.1,1226.0L922.0,1226.1L923.8,1226.1L925.7,1226.1L927.5,1226.2L929.3,1226.2L931.2,1226.3L933.0,1226.3L934.8,1226.3L936.7,1226.4L938.5,1226.4L940.4,1226.4L942.2,1226.5L944.0,1226.5L945.9,1226.5L947.7,1226.6L949.6,1226.6L951.4,1226.6L953.2,1226.6L955.1,1226.7L956.9,1226.7L958.7,1226.7L960.6,1226.7L962.4,1226.8L964.3,1226.8L966.1,1226.8L967.9,1226.8L969.8,1226.9L971.6,1226.9L973.5,1226.9L975.3,1226.9L977.1,1227.0L979.0,1227.0L980.8,1227.0L982.6,1227.0L984.5,1227.0L986.3,1227.1L988.2,1227.1L990.0,1227.1L991.8,1227.1L993.7,1227.1L995.5,1227.1L997.4,1227.2L999.2,1227.2L1001.0,1227.2L1002.9,1227.2L1004.7,1227.2L1006.5,1227.2L1008.4,1227.3L1010.2,1227.3L1012.1,1227.3L1013.9,1227.3L1015.7,1227.3L1017.6,1227.3L1019.4,1227.3L1021.3,1227.3L1023.1,1227.4L1024.9,1227.4L1026.8,1227.4L1028.6,1227.4L1030.4,1227.4L1032.3,1227.4L1034.1,1227.4L1036.0,1227.4L1037.8,1227.4L1039.6,1227.5L1041.5,1227.5L1043.3,1227.5L1045.1,1227.5L1047.0,1227.5L1048.8,1227.5L1050.7,1227.5L1052.5,1227.5L1054.3,1227.5L1056.2,1227.5L1058.0,1227.5L1059.9,1227.5L1061.7,1227.6L1063.5,1227.6L1065.4,1227.6L1067.2,1227.6L1069.0,1227.6L1070.9,1227.6L1072.7,1227.6L1074.6,1227.6L1076.4,1227.6L1078.2,1227.6L1080.1,1227.6L1081.9,1227.6L1083.8,1227.6L1085.6,1227.6L1087.4,1227.6L1089.3,1227.6L1091.1,1227.6L1092.9,1227.6L1094.8,1227.7L1096.6,1227.7L1098.5,1227.7L1100.3,1227.7L1102.1,1227.7L1104.0,1227.7L1105.8,1227.7L1107.7,1227.7L1109.5,1227.7L1111.3,1227.7L1113.2,1227.7L1115.0,1227.7L1116.8,1227.7L1118.7,1227.7L1120.5,1227.7L1122.4,1227.7L1124.2,1227.7L1126.0,1227.7L1127.9,1227.7L1129.7,1227.7L1131.6,1227.7L1133.4,1227.7L1135.2,1227.7L1137.1,1227.7L1138.9,1227.7L1140.7,1227.7L1142.6,1227.7L1144.4,1227.7L1146.3,1227.7L1148.1,1227.7L1149.9,1227.7L1151.8,1227.7L1153.6,1227.7L1155.4,1227.7L1157.3,1227.7L1159.1,1227.7L1161.0,1227.7L1162.8,1227.8L1164.6,1227.8L1166.5,1227.8L1168.3,1227.8L1170.2,1227.8L1172.0,1227.8L1173.8,1227.8L1175.7,1227.8L1177.5,1227.8L1179.3,1227.8L1181.2,1227.8L1183.0,1227.8L1184.9,1227.8L1186.7,1227.8L1188.5,1227.8L1190.4,1227.8L1192.2,1227.8L1194.1,1227.8L1195.9,1227.8L1197.7,1227.8L1199.6,1227.8L1201.4,1227.8L1203.2,1227.8L1205.1,1227.8L1206.9,1227.8L1208.8,1227.8L1210.6,1227.8L1212.4,1227.8L1214.3,1227.8L1216.1,1227.8L1218.0,1227.8L1219.8,1227.8L1221.6,1227.8L1223.5,1227.8L1225.3,1227.8L1227.1,1227.8L1229.0,1227.8L1230.8,1227.8L1232.7,1227.8L1234.5,1227.8L1236.3,1227.8L1238.2,1227.8L1240.0,1227.8L1241.9,1227.8L1243.7,1227.8L1245.5,1227.8L1247.4,1227.8L1249.2,1227.8L1251.0,1227.8L1252.9,1227.8L1254.7,1227.8L1256.6,1227.8L1258.4,1227.8L1260.2,1227.8L1262.1,1227.8L1263.9,1227.8L1265.7,1227.8L1267.6,1227.8L1269.4,1227.8L1271.3,1227.8L1273.1,1227.8L1274.9,1227.8L1276.8,1227.8L1278.6,1227.8L1280.5,1227.8L1282.3,1227.8L1284.1,1227.8L1286.0,1227.8L1287.8,1227.8L1289.6,1227.8L1291.5,1227.8L1293.3,1227.8L1295.2,1227.8L1297.0,1227.8L1298.8,1227.8L1300.7,1227.8L1302.5,1227.8L1304.4,1227.8L1306.2,1227.8L1308.0,1227.8L1309.9,1227.8L1311.7,1227.8L1313.5,1227.8L1315.4,1227.8L1317.2,1227.8L1319.1,1227.8L1320.9,1227.8L1322.7,1227.8L1324.6,1227.8L1326.4,1227.8L1328.3,1227.8L1330.1,1227.8L1331.9,1227.8L1333.8,1227.8L1335.6,1227.8L1337.4,1227.8L1339.3,1227.8L1341.1,1227.8L1343.0,1227.8L1344.8,1227.8L1346.6,1227.8L1348.5,1227.8L1350.3,1227.8L1352.2,1227.8L1354.0,1227.8L1355.8,1227.8L1357.7,1227.8L1359.5,1227.8L1361.3,1227.8L1363.2,1227.8L1365.0,1227.8L1366.9,1227.8L1368.7,1227.8L1370.5,1227.8L1372.4,1227.8L1374.2,1227.8L1376.0,1227.8L1377.9,1227.8L1379.7,1227.8L1381.6,1227.8L1383.4,1227.8L1385.2,1227.8L1387.1,1227.8L1388.9,1227.8L1390.8,1227.8L1392.6,1227.8L1394.4,1227.8L1396.3,1227.8L1398.1,1227.8L1399.9,1227.8L1401.8,1227.8L1403.6,1227.8L1405.5,1227.8L1407.3,1227.8L1409.1,1227.8L1411.0,1227.8L1412.8,1227.8L1414.7,1227.8L1416.5,1227.8L1418.3,1227.8L1420.2,1227.8L1422.0,1227.8L1423.8,1227.8L1425.7,1227.8L1427.5,1227.8L1429.4,1227.8L1431.2,1227.8" fill="none" stroke="#4d4d4f" stroke-width="0.8" stroke-linejoin="round" />
<path d="M146.2,1227.8L148.0,1227.8L149.9,1227.8L151.7,1227.8L153.6,1227.8L155.4,1227.8L157.2,1227.8L159.1,1227.8L160.9,1227.8L162.7,1227.8L164.6,1227.8L166.4,1227.8L168.3,1227.8L170.1,1227.7L171.9,1227.7L173.8,1227.7L175.6,1227.7L177.5,1227.7L179.3,1227.6L181.1,1227.6L183.0,1227.6L184.8,1227.5L186.6,1227.5L188.5,1227.5L190.3,1227.4L192.2,1227.4L194.0,1227.3L195.8,1227.3L197.7,1227.2L199.5,1227.1L201.4,1227.1L203.2,1227.0L205.0,1226.9L206.9,1226.8L208.7,1226.7L210.5,1226.6L212.4,1226.5L214.2,1226.4L216.1,1226.3L217.9,1226.2L219.7,1226.1L221.6,1226.0L223.4,1225.8L225.2,1225.7L227.1,1225.5L228.9,1225.4L230.8,1225.2L232.6,1225.1L234.4,1224.9L236.3,1224.7L238.1,1224.5L240.0,1224.3L241.8,1224.1L243.6,1223.9L245.5,1223.7L247.3,1223.5L249.1,1223.3L251.0,1223.0L252.8,1222.8L254.7,1222.6L256.5,1222.3L258.3,1222.0L260.2,1221.8L262.0,1221.5L263.9,1221.2L265.7,1220.9L267.5,1220.6L269.4,1220.3L271.2,1220.0L273.0,1219.7L274.9,1219.4L276.7,1219.0L278.6,1218.7L280.4,1218.4L282.2,1218.0L284.1,1217.6L285.9,1217.3L287.8,1216.9L289.6,1216.5L291.4,1216.1L293.3,1215.7L295.1,1215.3L296.9,1214.9L298.8,1214.5L300.6,1214.1L302.5,1213.7L304.3,1213.2L306.1,1212.8L308.0,1212.3L309.8,1211.9L311.7,1211.4L313.5,1210.9L315.3,1210.5L317.2,1210.0L319.0,1209.5L320.8,1209.0L322.7,1208.5L324.5,1208.0L326.4,1207.5L328.2,1207.0L330.0,1206.5L331.9,1205.9L333.7,1205.4L335.5,1204.9L337.4,1204.3L339.2,1203.8L341.1,1203.2L342.9,1202.7L344.7,1202.1L346.6,1201.6L348.4,1201.0L350.3,1200.4L352.1,1199.8L353.9,1199.3L355.8,1198.7L357.6,1198.1L359.4,1197.5L361.3,1196.9L363.1,1196.3L365.0,1195.7L366.8,1195.1L368.6,1194.5L370.5,1193.9L372.3,1193.3L374.2,1192.7L376.0,1192.1L377.8,1191.5L379.7,1190.9L381.5,1190.3L383.3,1189.7L385.2,1189.0L387.0,1188.4L388.9,1187.8L390.7,1187.2L392.5,1186.6L394.4,1186.0L396.2,1185.3L398.1,1184.7L399.9,1184.1L401.7,1183.5L403.6,1182.9L405.4,1182.3L407.2,1181.6L409.1,1181.0L410.9,1180.4L412.8,1179.8L414.6,1179.2L416.4,1178.6L418.3,1178.0L420.1,1177.4L422.0,1176.8L423.8,1176.2L425.6,1175.6L427.5,1175.0L429.3,1174.4L431.1,1173.9L433.0,1173.3L434.8,1172.7L436.7,1172.1L438.5,1171.6L440.3,1171.0L442.2,1170.4L444.0,1169.9L445.8,1169.3L447.7,1168.8L449.5,1168.2L451.4,1167.7L453.2,1167.2L455.0,1166.6L456.9,1166.1L458.7,1165.6L460.6,1165.1L462.4,1164.6L464.2,1164.1L466.1,1163.6L467.9,1163.1L469.7,1162.6L471.6,1162.2L473.4,1161.7L475.3,1161.3L477.1,1160.8L478.9,1160.4L480.8,1159.9L482.6,1159.5L484.5,1159.1L486.3,1158.7L488.1,1158.2L490.0,1157.8L491.8,1157.5L493.6,1157.1L495.5,1156.7L497.3,1156.3L499.2,1156.0L501.0,1155.6L502.8,1155.3L504.7,1154.9L506.5,1154.6L508.4,1154.3L510.2,1154.0L512.0,1153.7L513.9,1153.4L515.7,1153.1L517.5,1152.9L519.4,1152.6L521.2,1152.3L523.1,1152.1L524.9,1151.9L526.7,1151.6L528.6,1151.4L530.4,1151.2L532.3,1151.0L534.1,1150.8L535.9,1150.7L537.8,1150.5L539.6,1150.3L541.4,1150.2L543.3,1150.1L545.1,1150.0L547.0,1149.8L548.8,1149.7L550.6,1149.7L552.5,1149.6L554.3,1149.5L556.1,1149.5L558.0,1149.5L559.8,1149.4L561.7,1149.4L563.5,1149.4L565.3,1149.5L567.2,1149.5L569.0,1149.6L570.9,1149.6L572.7,1149.7L574.5,1149.8L576.4,1150.0L578.2,1150.1L580.0,1150.3L581.9,1150.4L583.7,1150.7L585.6,1150.9L587.4,1151.1L589.2,1151.4L591.1,1151.7L592.9,1152.0L594.8,1152.3L596.6,1152.6L598.4,1153.0L600.3,1153.4L602.1,1153.7L603.9,1154.1L605.8,1154.5L607.6,1155.0L609.5,1155.4L611.3,1155.8L613.1,1156.2L615.0,1156.7L616.8,1157.1L618.7,1157.6L620.5,1158.0L622.3,1158.5L624.2,1158.9L626.0,1159.4L627.8,1159.8L629.7,1160.3L631.5,1160.8L633.4,1161.2L635.2,1161.7L637.0,1162.2L638.9,1162.7L640.7,1163.1L642.6,1163.6L644.4,1164.1L646.2,1164.6L648.1,1165.1L649.9,1165.6L651.7,1166.0L653.6,1166.5L655.4,1167.0L657.3,1167.5L659.1,1168.0L660.9,1168.5L662.8,1169.0L664.6,1169.5L666.5,1170.0L668.3,1170.5L670.1,1171.0L672.0,1171.5L673.8,1172.0L675.6,1172.5L677.5,1173.0L679.3,1173.4L681.2,1173.9L683.0,1174.4L684.8,1174.9L686.7,1175.4L688.5,1175.9L690.3,1176.4L692.2,1176.9L694.0,1177.4L695.9,1177.9L697.7,1178.4L699.5,1178.9L701.4,1179.3L703.2,1179.8L705.1,1180.3L706.9,1180.8L708.7,1181.3L710.6,1181.8L712.4,1182.2L714.2,1182.7L716.1,1183.2L717.9,1183.7L719.8,1184.1L721.6,1184.6L723.4,1185.1L725.3,1185.6L727.1,1186.0L729.0,1186.5L730.8,1186.9L732.6,1187.4L734.5,1187.9L736.3,1188.3L738.1,1188.8L740.0,1189.2L741.8,1189.7L743.7,1190.1L745.5,1190.6L747.3,1191.0L749.2,1191.4L751.0,1191.9L752.9,1192.3L754.7,1192.7L756.5,1193.2L758.4,1193.6L760.2,1194.0L762.0,1194.4L763.9,1194.8L765.7,1195.3L767.6,1195.7L769.4,1196.1L771.2,1196.5L773.1,1196.9L774.9,1197.3L776.8,1197.7L778.6,1198.1L780.4,1198.5L782.3,1198.8L784.1,1199.2L785.9,1199.6L787.8,1200.0L789.6,1200.4L791.5,1200.7L793.3,1201.1L795.1,1201.5L797.0,1201.8L798.8,1202.2L800.6,1202.5L802.5,1202.9L804.3,1203.2L806.2,1203.6L808.0,1203.9L809.8,1204.3L811.7,1204.6L813.5,1204.9L815.4,1205.3L817.2,1205.6L819.0,1205.9L820.9,1206.3L822.7,1206.6L824.5,1206.9L826.4,1207.2L828.2,1207.5L830.1,1207.8L831.9,1208.1L833.7,1208.4L835.6,1208.7L837.4,1209.0L839.3,1209.3L841.1,1209.6L842.9,1209.9L844.8,1210.1L846.6,1210.4L848.4,1210.7L850.3,1211.0L852.1,1211.2L854.0,1211.5L855.8,1211.8L857.6,1212.0L859.5,1212.3L861.3,1212.5L863.2,1212.8L865.0,1213.0L866.8,1213.3L868.7,1213.5L870.5,1213.7L872.3,1214.0L874.2,1214.2L876.0,1214.4L877.9,1214.7L879.7,1214.9L881.5,1215.1L883.4,1215.3L885.2,1215.5L887.1,1215.7L888.9,1215.9L890.7,1216.1L892.6,1216.4L894.4,1216.6L896.2,1216.7L898.1,1216.9L899.9,1217.1L901.8,1217.3L903.6,1217.5L905.4,1217.7L907.3,1217.9L909.1,1218.1L910.9,1218.2L912.8,1218.4L914.6,1218.6L916.5,1218.7L918.3,1218.9L920.1,1219.1L922.0,1219.2L923.8,1219.4L925.7,1219.5L927.5,1219.7L929.3,1219.9L931.2,1220.0L933.0,1220.2L934.8,1220.3L936.7,1220.4L938.5,1220.6L940.4,1220.7L942.2,1220.9L944.0,1221.0L945.9,1221.1L947.7,1221.2L949.6,1221.4L951.4,1221.5L953.2,1221.6L955.1,1221.7L956.9,1221.9L958.7,1222.0L960.6,1222.1L962.4,1222.2L964.3,1222.3L966.1,1222.4L967.9,1222.5L969.8,1222.6L971.6,1222.8L973.5,1222.9L975.3,1223.0L977.1,1223.1L979.0,1223.2L980.8,1223.2L982.6,1223.3L984.5,1223.4L986.3,1223.5L988.2,1223.6L990.0,1223.7L991.8,1223.8L993.7,1223.9L995.5,1224.0L997.4,1224.0L999.2,1224.1L1001.0,1224.2L1002.9,1224.3L1004.7,1224.3L1006.5,1224.4L1008.4,1224.5L1010.2,1224.6L1012.1,1224.6L1013.9,1224.7L1015.7,1224.8L1017.6,1224.8L1019.4,1224.9L1021.3,1225.0L1023.1,1225.0L1024.9,1225.1L1026.8,1225.2L1028.6,1225.2L1030.4,1225.3L1032.3,1225.3L1034.1,1225.4L1036.0,1225.4L1037.8,1225.5L1039.6,1225.5L1041.5,1225.6L1043.3,1225.6L1045.1,1225.7L1047.0,1225.7L1048.8,1225.8L1050.7,1225.8L1052.5,1225.9L1054.3,1225.9L1056.2,1226.0L1058.0,1226.0L1059.9,1226.1L1061.7,1226.1L1063.5,1226.1L1065.4,1226.2L1067.2,1226.2L1069.0,1226.3L1070.9,1226.3L1072.7,1226.3L1074.6,1226.4L1076.4,1226.4L1078.2,1226.4L1080.1,1226.5L1081.9,1226.5L1083.8,1226.5L1085.6,1226.6L1087.4,1226.6L1089.3,1226.6L1091.1,1226.6L1092.9,1226.7L1094.8,1226.7L1096.6,1226.7L1098.5,1226.8L1100.3,1226.8L1102.1,1226.8L1104.0,1226.8L1105.8,1226.9L1107.7,1226.9L1109.5,1226.9L1111.3,1226.9L1113.2,1226.9L1115.0,1227.0L1116.8,1227.0L1118.7,1227.0L1120.5,1227.0L1122.4,1227.0L1124.2,1227.1L1126.0,1227.1L1127.9,1227.1L1129.7,1227.1L1131.6,1227.1L1133.4,1227.2L1135.2,1227.2L1137.1,1227.2L1138.9,1227.2L1140.7,1227.2L1142.6,1227.2L1144.4,1227.3L1146.3,1227.3L1148.1,1227.3L1149.9,1227.3L1151.8,1227.3L1153.6,1227.3L1155.4,1227.3L1157.3,1227.3L1159.1,1227.4L1161.0,1227.4L1162.8,1227.4L1164.6,1227.4L1166.5,1227.4L1168.3,1227.4L1170.2,1227.4L1172.0,1227.4L1173.8,1227.4L1175.7,1227.5L1177.5,1227.5L1179.3,1227.5L1181.2,1227.5L1183.0,1227.5L1184.9,1227.5L1186.7,1227.5L1188.5,1227.5L1190.4,1227.5L1192.2,1227.5L1194.1,1227.5L1195.9,1227.5L1197.7,1227.6L1199.6,1227.6L1201.4,1227.6L1203.2,1227.6L1205.1,1227.6L1206.9,1227.6L1208.8,1227.6L1210.6,1227.6L1212.4,1227.6L1214.3,1227.6L1216.1,1227.6L1218.0,1227.6L1219.8,1227.6L1221.6,1227.6L1223.5,1227.6L1225.3,1227.6L1227.1,1227.6L1229.0,1227.6L1230.8,1227.7L1232.7,1227.7L1234.5,1227.7L1236.3,1227.7L1238.2,1227.7L1240.0,1227.7L1241.9,1227.7L1243.7,1227.7L1245.5,1227.7L1247.4,1227.7L1249.2,1227.7L1251.0,1227.7L1252.9,1227.7L1254.7,1227.7L1256.6,1227.7L1258.4,1227.7L1260.2,1227.7L1262.1,1227.7L1263.9,1227.7L1265.7,1227.7L1267.6,1227.7L1269.4,1227.7L1271.3,1227.7L1273.1,1227.7L1274.9,1227.7L1276.8,1227.7L1278.6,1227.7L1280.5,1227.7L1282.3,1227.7L1284.1,1227.7L1286.0,1227.7L1287.8,1227.7L1289.6,1227.7L1291.5,1227.7L1293.3,1227.7L1295.2,1227.8L1297.0,1227.8L1298.8,1227.8L1300.7,1227.8L1302.5,1227.8L1304.4,1227.8L1306.2,1227.8L1308.0,1227.8L1309.9,1227.8L1311.7,1227.8L1313.5,1227.8L1315.4,1227.8L1317.2,1227.8L1319.1,1227.8L1320.9,1227.8L1322.7,1227.8L1324.6,1227.8L1326.4,1227.8L1328.3,1227.8L1330.1,1227.8L1331.9,1227.8L1333.8,1227.8L1335.6,1227.8L1337.4,1227.8L1339.3,1227.8L1341.1,1227.8L1343.0,1227.8L1344.8,1227.8L1346.6,1227.8L1348.5,1227.8L1350.3,1227.8L1352.2,1227.8L1354.0,1227.8L1355.8,1227.8L1357.7,1227.8L1359.5,1227.8L1361.3,1227.8L1363.2,1227.8L1365.0,1227.8L1366.9,1227.8L1368.7,1227.8L1370.5,1227.8L1372.4,1227.8L1374.2,1227.8L1376.0,1227.8L1377.9,1227.8L1379.7,1227.8L1381.6,1227.8L1383.4,1227.8L1385.2,1227.8L1387.1,1227.8L1388.9,1227.8L1390.8,1227.8L1392.6,1227.8L1394.4,1227.8L1396.3,1227.8L1398.1,1227.8L1399.9,1227.8L1401.8,1227.8L1403.6,1227.8L1405.5,1227.8L1407.3,1227.8L1409.1,1227.8L1411.0,1227.8L1412.8,1227.8L1414.7,1227.8L1416.5,1227.8L1418.3,1227.8L1420.2,1227.8L1422.0,1227.8L1423.8,1227.8L1425.7,1227.8L1427.5,1227.8L1429.4,1227.8L1431.2,1227.8" fill="none" stroke="#2e3192" stroke-width="0.8" stroke-linejoin="round" />
<path d="M146.2,1227.8L148.0,1227.8L149.9,1227.8L151.7,1227.8L153.6,1227.8L155.4,1227.8L157.2,1227.8L159.1,1227.8L160.9,1227.8L162.7,1227.8L164.6,1227.8L166.4,1227.8L168.3,1227.8L170.1,1227.8L171.9,1227.8L173.8,1227.8L175.6,1227.8L177.5,1227.8L179.3,1227.8L181.1,1227.8L183.0,1227.8L184.8,1227.8L186.6,1227.8L188.5,1227.8L190.3,1227.8L192.2,1227.8L194.0,1227.8L195.8,1227.8L197.7,1227.8L199.5,1227.8L201.4,1227.8L203.2,1227.8L205.0,1227.8L206.9,1227.8L208.7,1227.8L210.5,1227.8L212.4,1227.8L214.2,1227.8L216.1,1227.8L217.9,1227.8L219.7,1227.8L221.6,1227.8L223.4,1227.8L225.2,1227.7L227.1,1227.7L228.9,1227.7L230.8,1227.7L232.6,1227.7L234.4,1227.7L236.3,1227.7L238.1,1227.7L240.0,1227.7L241.8,1227.7L243.6,1227.7L245.5,1227.6L247.3,1227.6L249.1,1227.6L251.0,1227.6L252.8,1227.6L254.7,1227.5L256.5,1227.5L258.3,1227.5L260.2,1227.5L262.0,1227.5L263.9,1227.4L265.7,1227.4L267.5,1227.4L269.4,1227.3L271.2,1227.3L273.0,1227.3L274.9,1227.2L276.7,1227.2L278.6,1227.1L280.4,1227.1L282.2,1227.1L284.1,1227.0L285.9,1227.0L287.8,1226.9L289.6,1226.9L291.4,1226.8L293.3,1226.7L295.1,1226.7L296.9,1226.6L298.8,1226.5L300.6,1226.5L302.5,1226.4L304.3,1226.3L306.1,1226.2L308.0,1226.1L309.8,1226.1L311.7,1226.0L313.5,1225.9L315.3,1225.8L317.2,1225.7L319.0,1225.6L320.8,1225.5L322.7,1225.3L324.5,1225.2L326.4,1225.1L328.2,1225.0L330.0,1224.9L331.9,1224.7L333.7,1224.6L335.5,1224.4L337.4,1224.3L339.2,1224.1L341.1,1224.0L342.9,1223.8L344.7,1223.7L346.6,1223.5L348.4,1223.3L350.3,1223.1L352.1,1223.0L353.9,1222.8L355.8,1222.6L357.6,1222.4L359.4,1222.2L361.3,1222.0L363.1,1221.8L365.0,1221.5L366.8,1221.3L368.6,1221.1L370.5,1220.8L372.3,1220.6L374.2,1220.4L376.0,1220.1L377.8,1219.8L379.7,1219.6L381.5,1219.3L383.3,1219.0L385.2,1218.8L387.0,1218.5L388.9,1218.2L390.7,1217.9L392.5,1217.6L394.4,1217.3L396.2,1217.0L398.1,1216.6L399.9,1216.3L401.7,1216.0L403.6,1215.7L405.4,1215.3L407.2,1215.0L409.1,1214.6L410.9,1214.2L412.8,1213.9L414.6,1213.5L416.4,1213.1L418.3,1212.7L420.1,1212.4L422.0,1212.0L423.8,1211.6L425.6,1211.2L427.5,1210.8L429.3,1210.3L431.1,1209.9L433.0,1209.5L434.8,1209.1L436.7,1208.6L438.5,1208.2L440.3,1207.7L442.2,1207.3L444.0,1206.8L445.8,1206.4L447.7,1205.9L449.5,1205.4L451.4,1205.0L453.2,1204.5L455.0,1204.0L456.9,1203.5L458.7,1203.0L460.6,1202.5L462.4,1202.0L464.2,1201.5L466.1,1201.0L467.9,1200.5L469.7,1200.0L471.6,1199.4L473.4,1198.9L475.3,1198.4L477.1,1197.9L478.9,1197.3L480.8,1196.8L482.6,1196.2L484.5,1195.7L486.3,1195.2L488.1,1194.6L490.0,1194.1L491.8,1193.5L493.6,1192.9L495.5,1192.4L497.3,1191.8L499.2,1191.3L501.0,1190.7L502.8,1190.1L504.7,1189.6L506.5,1189.0L508.4,1188.4L510.2,1187.9L512.0,1187.3L513.9,1186.7L515.7,1186.2L517.5,1185.6L519.4,1185.0L521.2,1184.5L523.1,1183.9L524.9,1183.3L526.7,1182.8L528.6,1182.2L530.4,1181.6L532.3,1181.1L534.1,1180.5L535.9,1180.0L537.8,1179.4L539.6,1178.9L541.4,1178.3L543.3,1177.8L545.1,1177.2L547.0,1176.7L548.8,1176.2L550.6,1175.6L552.5,1175.1L554.3,1174.6L556.1,1174.1L558.0,1173.6L559.8,1173.1L561.7,1172.6L563.5,1172.1L565.3,1171.6L567.2,1171.1L569.0,1170.7L570.9,1170.2L572.7,1169.8L574.5,1169.4L576.4,1169.0L578.2,1168.6L580.0,1168.2L581.9,1167.9L583.7,1167.5L585.6,1167.2L587.4,1166.9L589.2,1166.6L591.1,1166.3L592.9,1166.0L594.8,1165.8L596.6,1165.6L598.4,1165.3L600.3,1165.1L602.1,1165.0L603.9,1164.8L605.8,1164.6L607.6,1164.5L609.5,1164.3L611.3,1164.2L613.1,1164.1L615.0,1164.0L616.8,1163.9L618.7,1163.8L620.5,1163.7L622.3,1163.6L624.2,1163.6L626.0,1163.5L627.8,1163.4L629.7,1163.4L631.5,1163.4L633.4,1163.3L635.2,1163.3L637.0,1163.3L638.9,1163.3L640.7,1163.3L642.6,1163.3L644.4,1163.3L646.2,1163.3L648.1,1163.3L649.9,1163.3L651.7,1163.4L653.6,1163.4L655.4,1163.5L657.3,1163.5L659.1,1163.6L660.9,1163.7L662.8,1163.7L664.6,1163.8L666.5,1163.9L668.3,1164.0L670.1,1164.1L672.0,1164.2L673.8,1164.3L675.6,1164.5L677.5,1164.6L679.3,1164.7L681.2,1164.9L683.0,1165.0L684.8,1165.2L686.7,1165.3L688.5,1165.5L690.3,1165.7L692.2,1165.9L694.0,1166.0L695.9,1166.2L697.7,1166.4L699.5,1166.6L701.4,1166.8L703.2,1167.0L705.1,1167.3L706.9,1167.5L708.7,1167.7L710.6,1167.9L712.4,1168.2L714.2,1168.4L716.1,1168.7L717.9,1168.9L719.8,1169.2L721.6,1169.4L723.4,1169.7L725.3,1170.0L727.1,1170.2L729.0,1170.5L730.8,1170.8L732.6,1171.1L734.5,1171.4L736.3,1171.7L738.1,1172.0L740.0,1172.3L741.8,1172.6L743.7,1172.9L745.5,1173.2L747.3,1173.5L749.2,1173.8L751.0,1174.1L752.9,1174.5L754.7,1174.8L756.5,1175.1L758.4,1175.4L760.2,1175.8L762.0,1176.1L763.9,1176.5L765.7,1176.8L767.6,1177.1L769.4,1177.5L771.2,1177.8L773.1,1178.2L774.9,1178.5L776.8,1178.9L778.6,1179.3L780.4,1179.6L782.3,1180.0L784.1,1180.3L785.9,1180.7L787.8,1181.1L789.6,1181.4L791.5,1181.8L793.3,1182.2L795.1,1182.5L797.0,1182.9L798.8,1183.3L800.6,1183.6L802.5,1184.0L804.3,1184.4L806.2,1184.8L808.0,1185.1L809.8,1185.5L811.7,1185.9L813.5,1186.3L815.4,1186.6L817.2,1187.0L819.0,1187.4L820.9,1187.8L822.7,1188.1L824.5,1188.5L826.4,1188.9L828.2,1189.3L830.1,1189.6L831.9,1190.0L833.7,1190.4L835.6,1190.7L837.4,1191.1L839.3,1191.5L841.1,1191.9L842.9,1192.2L844.8,1192.6L846.6,1193.0L848.4,1193.3L850.3,1193.7L852.1,1194.1L854.0,1194.4L855.8,1194.8L857.6,1195.2L859.5,1195.5L861.3,1195.9L863.2,1196.2L865.0,1196.6L866.8,1197.0L868.7,1197.3L870.5,1197.7L872.3,1198.0L874.2,1198.4L876.0,1198.7L877.9,1199.0L879.7,1199.4L881.5,1199.7L883.4,1200.1L885.2,1200.4L887.1,1200.7L888.9,1201.1L890.7,1201.4L892.6,1201.7L894.4,1202.1L896.2,1202.4L898.1,1202.7L899.9,1203.0L901.8,1203.4L903.6,1203.7L905.4,1204.0L907.3,1204.3L909.1,1204.6L910.9,1204.9L912.8,1205.2L914.6,1205.5L916.5,1205.8L918.3,1206.1L920.1,1206.4L922.0,1206.7L923.8,1207.0L925.7,1207.3L927.5,1207.6L929.3,1207.9L931.2,1208.2L933.0,1208.4L934.8,1208.7L936.7,1209.0L938.5,1209.3L940.4,1209.5L942.2,1209.8L944.0,1210.1L945.9,1210.3L947.7,1210.6L949.6,1210.9L951.4,1211.1L953.2,1211.4L955.1,1211.6L956.9,1211.9L958.7,1212.1L960.6,1212.3L962.4,1212.6L964.3,1212.8L966.1,1213.1L967.9,1213.3L969.8,1213.5L971.6,1213.7L973.5,1214.0L975.3,1214.2L977.1,1214.4L979.0,1214.6L980.8,1214.8L982.6,1215.0L984.5,1215.3L986.3,1215.5L988.2,1215.7L990.0,1215.9L991.8,1216.1L993.7,1216.3L995.5,1216.5L997.4,1216.6L999.2,1216.8L1001.0,1217.0L1002.9,1217.2L1004.7,1217.4L1006.5,1217.6L1008.4,1217.7L1010.2,1217.9L1012.1,1218.1L1013.9,1218.3L1015.7,1218.4L1017.6,1218.6L1019.4,1218.8L1021.3,1218.9L1023.1,1219.1L1024.9,1219.2L1026.8,1219.4L1028.6,1219.6L1030.4,1219.7L1032.3,1219.9L1034.1,1220.0L1036.0,1220.1L1037.8,1220.3L1039.6,1220.4L1041.5,1220.6L1043.3,1220.7L1045.1,1220.8L1047.0,1221.0L1048.8,1221.1L1050.7,1221.2L1052.5,1221.3L1054.3,1221.5L1056.2,1221.6L1058.0,1221.7L1059.9,1221.8L1061.7,1221.9L1063.5,1222.1L1065.4,1222.2L1067.2,1222.3L1069.0,1222.4L1070.9,1222.5L1072.7,1222.6L1074.6,1222.7L1076.4,1222.8L1078.2,1222.9L1080.1,1223.0L1081.9,1223.1L1083.8,1223.2L1085.6,1223.3L1087.4,1223.4L1089.3,1223.5L1091.1,1223.6L1092.9,1223.7L1094.8,1223.7L1096.6,1223.8L1098.5,1223.9L1100.3,1224.0L1102.1,1224.1L1104.0,1224.2L1105.8,1224.2L1107.7,1224.3L1109.5,1224.4L1111.3,1224.5L1113.2,1224.5L1115.0,1224.6L1116.8,1224.7L1118.7,1224.7L1120.5,1224.8L1122.4,1224.9L1124.2,1224.9L1126.0,1225.0L1127.9,1225.1L1129.7,1225.1L1131.6,1225.2L1133.4,1225.2L1135.2,1225.3L1137.1,1225.3L1138.9,1225.4L1140.7,1225.5L1142.6,1225.5L1144.4,1225.6L1146.3,1225.6L1148.1,1225.7L1149.9,1225.7L1151.8,1225.8L1153.6,1225.8L1155.4,1225.9L1157.3,1225.9L1159.1,1225.9L1161.0,1226.0L1162.8,1226.0L1164.6,1226.1L1166.5,1226.1L1168.3,1226.1L1170.2,1226.2L1172.0,1226.2L1173.8,1226.3L1175.7,1226.3L1177.5,1226.3L1179.3,1226.4L1181.2,1226.4L1183.0,1226.4L1184.9,1226.5L1186.7,1226.5L1188.5,1226.5L1190.4,1226.6L1192.2,1226.6L1194.1,1226.6L1195.9,1226.7L1197.7,1226.7L1199.6,1226.7L1201.4,1226.7L1203.2,1226.8L1205.1,1226.8L1206.9,1226.8L1208.8,1226.8L1210.6,1226.9L1212.4,1226.9L1214.3,1226.9L1216.1,1226.9L1218.0,1227.0L1219.8,1227.0L1221.6,1227.0L1223.5,1227.0L1225.3,1227.0L1227.1,1227.1L1229.0,1227.1L1230.8,1227.1L1232.7,1227.1L1234.5,1227.1L1236.3,1227.1L1238.2,1227.2L1240.0,1227.2L1241.9,1227.2L1243.7,1227.2L1245.5,1227.2L1247.4,1227.2L1249.2,1227.3L1251.0,1227.3L1252.9,1227.3L1254.7,1227.3L1256.6,1227.3L1258.4,1227.3L1260.2,1227.3L1262.1,1227.4L1263.9,1227.4L1265.7,1227.4L1267.6,1227.4L1269.4,1227.4L1271.3,1227.4L1273.1,1227.4L1274.9,1227.4L1276.8,1227.4L1278.6,1227.5L1280.5,1227.5L1282.3,1227.5L1284.1,1227.5L1286.0,1227.5L1287.8,1227.5L1289.6,1227.5L1291.5,1227.5L1293.3,1227.5L1295.2,1227.5L1297.0,1227.5L1298.8,1227.5L1300.7,1227.6L1302.5,1227.6L1304.4,1227.6L1306.2,1227.6L1308.0,1227.6L1309.9,1227.6L1311.7,1227.6L1313.5,1227.6L1315.4,1227.6L1317.2,1227.6L1319.1,1227.6L1320.9,1227.6L1322.7,1227.6L1324.6,1227.6L1326.4,1227.6L1328.3,1227.6L1330.1,1227.6L1331.9,1227.6L1333.8,1227.7L1335.6,1227.7L1337.4,1227.7L1339.3,1227.7L1341.1,1227.7L1343.0,1227.7L1344.8,1227.7L1346.6,1227.7L1348.5,1227.7L1350.3,1227.7L1352.2,1227.7L1354.0,1227.7L1355.8,1227.7L1357.7,1227.7L1359.5,1227.7L1361.3,1227.7L1363.2,1227.7L1365.0,1227.7L1366.9,1227.7L1368.7,1227.7L1370.5,1227.7L1372.4,1227.7L1374.2,1227.7L1376.0,1227.7L1377.9,1227.7L1379.7,1227.7L1381.6,1227.7L1383.4,1227.7L1385.2,1227.7L1387.1,1227.7L1388.9,1227.7L1390.8,1227.7L1392.6,1227.7L1394.4,1227.7L1396.3,1227.7L1398.1,1227.8L1399.9,1227.8L1401.8,1227.8L1403.6,1227.8L1405.5,1227.8L1407.3,1227.8L1409.1,1227.8L1411.0,1227.8L1412.8,1227.8L1414.7,1227.8L1416.5,1227.8L1418.3,1227.8L1420.2,1227.8L1422.0,1227.8L1423.8,1227.8L1425.7,1227.8L1427.5,1227.8L1429.4,1227.8L1431.2,1227.8" fill="none" stroke="#3b7a59" stroke-width="0.8" stroke-linejoin="round" />
<path d="M146.2,1227.8L148.0,1227.8L149.9,1227.8L151.7,1227.8L153.6,1227.8L155.4,1227.8L157.2,1227.8L159.1,1227.8L160.9,1227.8L162.7,1227.8L164.6,1227.8L166.4,1227.8L168.3,1227.8L170.1,1227.8L171.9,1227.8L173.8,1227.8L175.6,1227.8L177.5,1227.8L179.3,1227.8L181.1,1227.8L183.0,1227.8L184.8,1227.8L186.6,1227.8L188.5,1227.8L190.3,1227.8L192.2,1227.8L194.0,1227.8L195.8,1227.8L197.7,1227.8L199.5,1227.8L201.4,1227.8L203.2,1227.8L205.0,1227.8L206.9,1227.8L208.7,1227.8L210.5,1227.8L212.4,1227.8L214.2,1227.8L216.1,1227.8L217.9,1227.8L219.7,1227.8L221.6,1227.8L223.4,1227.8L225.2,1227.8L227.1,1227.8L228.9,1227.8L230.8,1227.8L232.6,1227.8L234.4,1227.8L236.3,1227.8L238.1,1227.8L240.0,1227.8L241.8,1227.8L243.6,1227.8L245.5,1227.8L247.3,1227.8L249.1,1227.8L251.0,1227.8L252.8,1227.8L254.7,1227.8L256.5,1227.8L258.3,1227.8L260.2,1227.8L262.0,1227.8L263.9,1227.8L265.7,1227.8L267.5,1227.8L269.4,1227.8L271.2,1227.8L273.0,1227.8L274.9,1227.8L276.7,1227.8L278.6,1227.8L280.4,1227.8L282.2,1227.8L284.1,1227.8L285.9,1227.8L287.8,1227.8L289.6,1227.7L291.4,1227.7L293.3,1227.7L295.1,1227.7L296.9,1227.7L298.8,1227.7L300.6,1227.7L302.5,1227.7L304.3,1227.7L306.1,1227.7L308.0,1227.7L309.8,1227.7L311.7,1227.7L313.5,1227.7L315.3,1227.6L317.2,1227.6L319.0,1227.6L320.8,1227.6L322.7,1227.6L324.5,1227.6L326.4,1227.6L328.2,1227.5L330.0,1227.5L331.9,1227.5L333.7,1227.5L335.5,1227.5L337.4,1227.5L339.2,1227.4L341.1,1227.4L342.9,1227.4L344.7,1227.4L346.6,1227.3L348.4,1227.3L350.3,1227.3L352.1,1227.2L353.9,1227.2L355.8,1227.2L357.6,1227.1L359.4,1227.1L361.3,1227.1L363.1,1227.0L365.0,1227.0L366.8,1226.9L368.6,1226.9L370.5,1226.8L372.3,1226.8L374.2,1226.7L376.0,1226.7L377.8,1226.6L379.7,1226.6L381.5,1226.5L383.3,1226.5L385.2,1226.4L387.0,1226.3L388.9,1226.3L390.7,1226.2L392.5,1226.1L394.4,1226.0L396.2,1226.0L398.1,1225.9L399.9,1225.8L401.7,1225.7L403.6,1225.6L405.4,1225.5L407.2,1225.4L409.1,1225.3L410.9,1225.2L412.8,1225.1L414.6,1225.0L416.4,1224.9L418.3,1224.8L420.1,1224.6L422.0,1224.5L423.8,1224.4L425.6,1224.3L427.5,1224.1L429.3,1224.0L431.1,1223.8L433.0,1223.7L434.8,1223.6L436.7,1223.4L438.5,1223.2L440.3,1223.1L442.2,1222.9L444.0,1222.7L445.8,1222.6L447.7,1222.4L449.5,1222.2L451.4,1222.0L453.2,1221.8L455.0,1221.6L456.9,1221.4L458.7,1221.2L460.6,1221.0L462.4,1220.8L464.2,1220.6L466.1,1220.3L467.9,1220.1L469.7,1219.9L471.6,1219.6L473.4,1219.4L475.3,1219.1L477.1,1218.9L478.9,1218.6L480.8,1218.3L482.6,1218.1L484.5,1217.8L486.3,1217.5L488.1,1217.2L490.0,1216.9L491.8,1216.6L493.6,1216.3L495.5,1216.0L497.3,1215.7L499.2,1215.4L501.0,1215.1L502.8,1214.8L504.7,1214.4L506.5,1214.1L508.4,1213.8L510.2,1213.4L512.0,1213.1L513.9,1212.7L515.7,1212.3L517.5,1212.0L519.4,1211.6L521.2,1211.2L523.1,1210.8L524.9,1210.4L526.7,1210.1L528.6,1209.7L530.4,1209.3L532.3,1208.9L534.1,1208.4L535.9,1208.0L537.8,1207.6L539.6,1207.2L541.4,1206.8L543.3,1206.3L545.1,1205.9L547.0,1205.5L548.8,1205.0L550.6,1204.6L552.5,1204.1L554.3,1203.7L556.1,1203.2L558.0,1202.8L559.8,1202.3L561.7,1201.9L563.5,1201.4L565.3,1200.9L567.2,1200.5L569.0,1200.0L570.9,1199.6L572.7,1199.1L574.5,1198.6L576.4,1198.2L578.2,1197.7L580.0,1197.3L581.9,1196.8L583.7,1196.4L585.6,1196.0L587.4,1195.5L589.2,1195.1L591.1,1194.7L592.9,1194.3L594.8,1193.8L596.6,1193.4L598.4,1193.0L600.3,1192.6L602.1,1192.3L603.9,1191.9L605.8,1191.5L607.6,1191.1L609.5,1190.7L611.3,1190.4L613.1,1190.0L615.0,1189.6L616.8,1189.3L618.7,1188.9L620.5,1188.6L622.3,1188.2L624.2,1187.9L626.0,1187.5L627.8,1187.2L629.7,1186.8L631.5,1186.5L633.4,1186.2L635.2,1185.8L637.0,1185.5L638.9,1185.2L640.7,1184.8L642.6,1184.5L644.4,1184.2L646.2,1183.9L648.1,1183.6L649.9,1183.3L651.7,1183.0L653.6,1182.7L655.4,1182.4L657.3,1182.1L659.1,1181.8L660.9,1181.5L662.8,1181.3L664.6,1181.0L666.5,1180.7L668.3,1180.5L670.1,1180.2L672.0,1180.0L673.8,1179.7L675.6,1179.5L677.5,1179.2L679.3,1179.0L681.2,1178.8L683.0,1178.6L684.8,1178.4L686.7,1178.1L688.5,1177.9L690.3,1177.7L692.2,1177.5L694.0,1177.4L695.9,1177.2L697.7,1177.0L699.5,1176.8L701.4,1176.7L703.2,1176.5L705.1,1176.3L706.9,1176.2L708.7,1176.0L710.6,1175.9L712.4,1175.8L714.2,1175.7L716.1,1175.5L717.9,1175.4L719.8,1175.3L721.6,1175.2L723.4,1175.1L725.3,1175.0L727.1,1174.9L729.0,1174.9L730.8,1174.8L732.6,1174.7L734.5,1174.7L736.3,1174.6L738.1,1174.6L740.0,1174.5L741.8,1174.5L743.7,1174.4L745.5,1174.4L747.3,1174.4L749.2,1174.4L751.0,1174.4L752.9,1174.4L754.7,1174.4L756.5,1174.4L758.4,1174.4L760.2,1174.4L762.0,1174.5L763.9,1174.5L765.7,1174.5L767.6,1174.6L769.4,1174.6L771.2,1174.7L773.1,1174.7L774.9,1174.8L776.8,1174.9L778.6,1175.0L780.4,1175.0L782.3,1175.1L784.1,1175.2L785.9,1175.3L787.8,1175.4L789.6,1175.5L791.5,1175.7L793.3,1175.8L795.1,1175.9L797.0,1176.0L798.8,1176.2L800.6,1176.3L802.5,1176.5L804.3,1176.6L806.2,1176.8L808.0,1176.9L809.8,1177.1L811.7,1177.3L813.5,1177.4L815.4,1177.6L817.2,1177.8L819.0,1178.0L820.9,1178.2L822.7,1178.4L824.5,1178.6L826.4,1178.8L828.2,1179.0L830.1,1179.2L831.9,1179.4L833.7,1179.6L835.6,1179.9L837.4,1180.1L839.3,1180.3L841.1,1180.6L842.9,1180.8L844.8,1181.0L846.6,1181.3L848.4,1181.5L850.3,1181.8L852.1,1182.0L854.0,1182.3L855.8,1182.6L857.6,1182.8L859.5,1183.1L861.3,1183.4L863.2,1183.6L865.0,1183.9L866.8,1184.2L868.7,1184.5L870.5,1184.7L872.3,1185.0L874.2,1185.3L876.0,1185.6L877.9,1185.9L879.7,1186.2L881.5,1186.5L883.4,1186.8L885.2,1187.1L887.1,1187.4L888.9,1187.7L890.7,1188.0L892.6,1188.3L894.4,1188.6L896.2,1188.9L898.1,1189.2L899.9,1189.5L901.8,1189.8L903.6,1190.1L905.4,1190.4L907.3,1190.7L909.1,1191.0L910.9,1191.4L912.8,1191.7L914.6,1192.0L916.5,1192.3L918.3,1192.6L920.1,1192.9L922.0,1193.2L923.8,1193.6L925.7,1193.9L927.5,1194.2L929.3,1194.5L931.2,1194.8L933.0,1195.1L934.8,1195.5L936.7,1195.8L938.5,1196.1L940.4,1196.4L942.2,1196.7L944.0,1197.0L945.9,1197.4L947.7,1197.7L949.6,1198.0L951.4,1198.3L953.2,1198.6L955.1,1198.9L956.9,1199.2L958.7,1199.5L960.6,1199.8L962.4,1200.2L964.3,1200.5L966.1,1200.8L967.9,1201.1L969.8,1201.4L971.6,1201.7L973.5,1202.0L975.3,1202.3L977.1,1202.6L979.0,1202.9L980.8,1203.2L982.6,1203.5L984.5,1203.8L986.3,1204.0L988.2,1204.3L990.0,1204.6L991.8,1204.9L993.7,1205.2L995.5,1205.5L997.4,1205.8L999.2,1206.0L1001.0,1206.3L1002.9,1206.6L1004.7,1206.9L1006.5,1207.1L1008.4,1207.4L1010.2,1207.7L1012.1,1208.0L1013.9,1208.2L1015.7,1208.5L1017.6,1208.7L1019.4,1209.0L1021.3,1209.3L1023.1,1209.5L1024.9,1209.8L1026.8,1210.0L1028.6,1210.3L1030.4,1210.5L1032.3,1210.8L1034.1,1211.0L1036.0,1211.2L1037.8,1211.5L1039.6,1211.7L1041.5,1212.0L1043.3,1212.2L1045.1,1212.4L1047.0,1212.6L1048.8,1212.9L1050.7,1213.1L1052.5,1213.3L1054.3,1213.5L1056.2,1213.8L1058.0,1214.0L1059.9,1214.2L1061.7,1214.4L1063.5,1214.6L1065.4,1214.8L1067.2,1215.0L1069.0,1215.2L1070.9,1215.4L1072.7,1215.6L1074.6,1215.8L1076.4,1216.0L1078.2,1216.2L1080.1,1216.4L1081.9,1216.6L1083.8,1216.8L1085.6,1216.9L1087.4,1217.1L1089.3,1217.3L1091.1,1217.5L1092.9,1217.7L1094.8,1217.8L1096.6,1218.0L1098.5,1218.2L1100.3,1218.3L1102.1,1218.5L1104.0,1218.7L1105.8,1218.8L1107.7,1219.0L1109.5,1219.1L1111.3,1219.3L1113.2,1219.4L1115.0,1219.6L1116.8,1219.7L1118.7,1219.9L1120.5,1220.0L1122.4,1220.2L1124.2,1220.3L1126.0,1220.4L1127.9,1220.6L1129.7,1220.7L1131.6,1220.8L1133.4,1221.0L1135.2,1221.1L1137.1,1221.2L1138.9,1221.3L1140.7,1221.5L1142.6,1221.6L1144.4,1221.7L1146.3,1221.8L1148.1,1221.9L1149.9,1222.0L1151.8,1222.1L1153.6,1222.3L1155.4,1222.4L1157.3,1222.5L1159.1,1222.6L1161.0,1222.7L1162.8,1222.8L1164.6,1222.9L1166.5,1223.0L1168.3,1223.1L1170.2,1223.2L1172.0,1223.3L1173.8,1223.4L1175.7,1223.4L1177.5,1223.5L1179.3,1223.6L1181.2,1223.7L1183.0,1223.8L1184.9,1223.9L1186.7,1224.0L1188.5,1224.0L1190.4,1224.1L1192.2,1224.2L1194.1,1224.3L1195.9,1224.3L1197.7,1224.4L1199.6,1224.5L1201.4,1224.6L1203.2,1224.6L1205.1,1224.7L1206.9,1224.8L1208.8,1224.8L1210.6,1224.9L1212.4,1225.0L1214.3,1225.0L1216.1,1225.1L1218.0,1225.1L1219.8,1225.2L1221.6,1225.3L1223.5,1225.3L1225.3,1225.4L1227.1,1225.4L1229.0,1225.5L1230.8,1225.5L1232.7,1225.6L1234.5,1225.6L1236.3,1225.7L1238.2,1225.7L1240.0,1225.8L1241.9,1225.8L1243.7,1225.9L1245.5,1225.9L1247.4,1226.0L1249.2,1226.0L1251.0,1226.0L1252.9,1226.1L1254.7,1226.1L1256.6,1226.2L1258.4,1226.2L1260.2,1226.2L1262.1,1226.3L1263.9,1226.3L1265.7,1226.3L1267.6,1226.4L1269.4,1226.4L1271.3,1226.5L1273.1,1226.5L1274.9,1226.5L1276.8,1226.5L1278.6,1226.6L1280.5,1226.6L1282.3,1226.6L1284.1,1226.7L1286.0,1226.7L1287.8,1226.7L1289.6,1226.7L1291.5,1226.8L1293.3,1226.8L1295.2,1226.8L1297.0,1226.8L1298.8,1226.9L1300.7,1226.9L1302.5,1226.9L1304.4,1226.9L1306.2,1227.0L1308.0,1227.0L1309.9,1227.0L1311.7,1227.0L1313.5,1227.0L1315.4,1227.1L1317.2,1227.1L1319.1,1227.1L1320.9,1227.1L1322.7,1227.1L1324.6,1227.2L1326.4,1227.2L1328.3,1227.2L1330.1,1227.2L1331.9,1227.2L1333.8,1227.2L1335.6,1227.3L1337.4,1227.3L1339.3,1227.3L1341.1,1227.3L1343.0,1227.3L1344.8,1227.3L1346.6,1227.3L1348.5,1227.3L1350.3,1227.4L1352.2,1227.4L1354.0,1227.4L1355.8,1227.4L1357.7,1227.4L1359.5,1227.4L1361.3,1227.4L1363.2,1227.4L1365.0,1227.4L1366.9,1227.5L1368.7,1227.5L1370.5,1227.5L1372.4,1227.5L1374.2,1227.5L1376.0,1227.5L1377.9,1227.5L1379.7,1227.5L1381.6,1227.5L1383.4,1227.5L1385.2,1227.5L1387.1,1227.5L1388.9,1227.6L1390.8,1227.6L1392.6,1227.6L1394.4,1227.6L1396.3,1227.6L1398.1,1227.6L1399.9,1227.6L1401.8,1227.6L1403.6,1227.6L1405.5,1227.6L1407.3,1227.6L1409.1,1227.6L1411.0,1227.6L1412.8,1227.6L1414.7,1227.6L1416.5,1227.6L1418.3,1227.6L1420.2,1227.7L1422.0,1227.7L1423.8,1227.7L1425.7,1227.7L1427.5,1227.7L1429.4,1227.7L1431.2,1227.7" fill="none" stroke="#ed1c24" stroke-width="0.8" stroke-linejoin="round" />
<path d="M146.2,1227.8L148.0,1227.8L149.9,1227.8L151.7,1227.8L153.6,1227.8L155.4,1227.8L157.2,1227.8L159.1,1227.8L160.9,1227.8L162.7,1227.8L164.6,1227.8L166.4,1227.8L168.3,1227.8L170.1,1227.8L171.9,1227.8L173.8,1227.8L175.6,1227.8L177.5,1227.8L179.3,1227.8L181.1,1227.8L183.0,1227.8L184.8,1227.8L186.6,1227.8L188.5,1227.8L190.3,1227.8L192.2,1227.8L194.0,1227.8L195.8,1227.8L197.7,1227.8L199.5,1227.8L201.4,1227.8L203.2,1227.8L205.0,1227.8L206.9,1227.8L208.7,1227.8L210.5,1227.8L212.4,1227.8L214.2,1227.8L216.1,1227.8L217.9,1227.8L219.7,1227.8L221.6,1227.8L223.4,1227.8L225.2,1227.8L227.1,1227.8L228.9,1227.8L230.8,1227.8L232.6,1227.8L234.4,1227.8L236.3,1227.8L238.1,1227.8L240.0,1227.8L241.8,1227.8L243.6,1227.8L245.5,1227.8L247.3,1227.8L249.1,1227.8L251.0,1227.8L252.8,1227.8L254.7,1227.8L256.5,1227.8L258.3,1227.8L260.2,1227.8L262.0,1227.8L263.9,1227.8L265.7,1227.8L267.5,1227.8L269.4,1227.8L271.2,1227.8L273.0,1227.8L274.9,1227.8L276.7,1227.8L278.6,1227.8L280.4,1227.8L282.2,1227.8L284.1,1227.8L285.9,1227.8L287.8,1227.8L289.6,1227.8L291.4,1227.8L293.3,1227.8L295.1,1227.8L296.9,1227.8L298.8,1227.8L300.6,1227.8L302.5,1227.8L304.3,1227.8L306.1,1227.8L308.0,1227.8L309.8,1227.8L311.7,1227.8L313.5,1227.8L315.3,1227.8L317.2,1227.8L319.0,1227.8L320.8,1227.8L322.7,1227.8L324.5,1227.8L326.4,1227.8L328.2,1227.8L330.0,1227.8L331.9,1227.8L333.7,1227.8L335.5,1227.8L337.4,1227.8L339.2,1227.8L341.1,1227.8L342.9,1227.8L344.7,1227.8L346.6,1227.8L348.4,1227.8L350.3,1227.8L352.1,1227.8L353.9,1227.7L355.8,1227.7L357.6,1227.7L359.4,1227.7L361.3,1227.7L363.1,1227.7L365.0,1227.7L366.8,1227.7L368.6,1227.7L370.5,1227.7L372.3,1227.7L374.2,1227.7L376.0,1227.7L377.8,1227.7L379.7,1227.7L381.5,1227.7L383.3,1227.6L385.2,1227.6L387.0,1227.6L388.9,1227.6L390.7,1227.6L392.5,1227.6L394.4,1227.6L396.2,1227.6L398.1,1227.6L399.9,1227.5L401.7,1227.5L403.6,1227.5L405.4,1227.5L407.2,1227.5L409.1,1227.4L410.9,1227.4L412.8,1227.4L414.6,1227.4L416.4,1227.4L418.3,1227.3L420.1,1227.3L422.0,1227.3L423.8,1227.3L425.6,1227.2L427.5,1227.2L429.3,1227.2L431.1,1227.1L433.0,1227.1L434.8,1227.1L436.7,1227.0L438.5,1227.0L440.3,1227.0L442.2,1226.9L444.0,1226.9L445.8,1226.8L447.7,1226.8L449.5,1226.7L451.4,1226.7L453.2,1226.6L455.0,1226.6L456.9,1226.5L458.7,1226.5L460.6,1226.4L462.4,1226.4L464.2,1226.3L466.1,1226.2L467.9,1226.2L469.7,1226.1L471.6,1226.0L473.4,1226.0L475.3,1225.9L477.1,1225.8L478.9,1225.7L480.8,1225.6L482.6,1225.6L484.5,1225.5L486.3,1225.4L488.1,1225.3L490.0,1225.2L491.8,1225.1L493.6,1225.0L495.5,1224.9L497.3,1224.8L499.2,1224.7L501.0,1224.5L502.8,1224.4L504.7,1224.3L506.5,1224.2L508.4,1224.0L510.2,1223.9L512.0,1223.8L513.9,1223.6L515.7,1223.5L517.5,1223.3L519.4,1223.2L521.2,1223.0L523.1,1222.9L524.9,1222.7L526.7,1222.6L528.6,1222.4L530.4,1222.2L532.3,1222.0L534.1,1221.9L535.9,1221.7L537.8,1221.5L539.6,1221.3L541.4,1221.1L543.3,1220.9L545.1,1220.7L547.0,1220.5L548.8,1220.3L550.6,1220.0L552.5,1219.8L554.3,1219.6L556.1,1219.4L558.0,1219.1L559.8,1218.9L561.7,1218.7L563.5,1218.4L565.3,1218.2L567.2,1217.9L569.0,1217.7L570.9,1217.4L572.7,1217.1L574.5,1216.9L576.4,1216.6L578.2,1216.3L580.0,1216.1L581.9,1215.8L583.7,1215.5L585.6,1215.3L587.4,1215.0L589.2,1214.7L591.1,1214.4L592.9,1214.1L594.8,1213.9L596.6,1213.6L598.4,1213.3L600.3,1213.0L602.1,1212.7L603.9,1212.4L605.8,1212.1L607.6,1211.9L609.5,1211.6L611.3,1211.3L613.1,1211.0L615.0,1210.7L616.8,1210.4L618.7,1210.1L620.5,1209.8L622.3,1209.5L624.2,1209.2L626.0,1208.9L627.8,1208.6L629.7,1208.2L631.5,1207.9L633.4,1207.6L635.2,1207.3L637.0,1207.0L638.9,1206.7L640.7,1206.4L642.6,1206.0L644.4,1205.7L646.2,1205.4L648.1,1205.1L649.9,1204.7L651.7,1204.4L653.6,1204.1L655.4,1203.8L657.3,1203.4L659.1,1203.1L660.9,1202.8L662.8,1202.5L664.6,1202.1L666.5,1201.8L668.3,1201.5L670.1,1201.1L672.0,1200.8L673.8,1200.5L675.6,1200.2L677.5,1199.8L679.3,1199.5L681.2,1199.2L683.0,1198.8L684.8,1198.5L686.7,1198.2L688.5,1197.9L690.3,1197.5L692.2,1197.2L694.0,1196.9L695.9,1196.6L697.7,1196.3L699.5,1195.9L701.4,1195.6L703.2,1195.3L705.1,1195.0L706.9,1194.7L708.7,1194.4L710.6,1194.1L712.4,1193.8L714.2,1193.5L716.1,1193.2L717.9,1192.8L719.8,1192.6L721.6,1192.3L723.4,1192.0L725.3,1191.7L727.1,1191.4L729.0,1191.1L730.8,1190.8L732.6,1190.5L734.5,1190.3L736.3,1190.0L738.1,1189.7L740.0,1189.4L741.8,1189.2L743.7,1188.9L745.5,1188.7L747.3,1188.4L749.2,1188.2L751.0,1187.9L752.9,1187.7L754.7,1187.4L756.5,1187.2L758.4,1187.0L760.2,1186.7L762.0,1186.5L763.9,1186.3L765.7,1186.1L767.6,1185.9L769.4,1185.6L771.2,1185.4L773.1,1185.2L774.9,1185.0L776.8,1184.9L778.6,1184.7L780.4,1184.5L782.3,1184.3L784.1,1184.1L785.9,1184.0L787.8,1183.8L789.6,1183.6L791.5,1183.5L793.3,1183.3L795.1,1183.2L797.0,1183.1L798.8,1182.9L800.6,1182.8L802.5,1182.7L804.3,1182.5L806.2,1182.4L808.0,1182.3L809.8,1182.2L811.7,1182.1L813.5,1182.0L815.4,1181.9L817.2,1181.9L819.0,1181.8L820.9,1181.7L822.7,1181.6L824.5,1181.6L826.4,1181.5L828.2,1181.5L830.1,1181.4L831.9,1181.4L833.7,1181.3L835.6,1181.3L837.4,1181.3L839.3,1181.2L841.1,1181.2L842.9,1181.2L844.8,1181.2L846.6,1181.2L848.4,1181.2L850.3,1181.2L852.1,1181.2L854.0,1181.3L855.8,1181.3L857.6,1181.3L859.5,1181.3L861.3,1181.4L863.2,1181.4L865.0,1181.5L866.8,1181.5L868.7,1181.6L870.5,1181.7L872.3,1181.7L874.2,1181.8L876.0,1181.9L877.9,1182.0L879.7,1182.1L881.5,1182.2L883.4,1182.2L885.2,1182.4L887.1,1182.5L888.9,1182.6L890.7,1182.7L892.6,1182.8L894.4,1182.9L896.2,1183.1L898.1,1183.2L899.9,1183.3L901.8,1183.5L903.6,1183.6L905.4,1183.8L907.3,1183.9L909.1,1184.1L910.9,1184.2L912.8,1184.4L914.6,1184.6L916.5,1184.8L918.3,1184.9L920.1,1185.1L922.0,1185.3L923.8,1185.5L925.7,1185.7L927.5,1185.9L929.3,1186.1L931.2,1186.3L933.0,1186.5L934.8,1186.7L936.7,1186.9L938.5,1187.1L940.4,1187.3L942.2,1187.5L944.0,1187.8L945.9,1188.0L947.7,1188.2L949.6,1188.5L951.4,1188.7L953.2,1188.9L955.1,1189.2L956.9,1189.4L958.7,1189.6L960.6,1189.9L962.4,1190.1L964.3,1190.4L966.1,1190.6L967.9,1190.9L969.8,1191.1L971.6,1191.4L973.5,1191.7L975.3,1191.9L977.1,1192.2L979.0,1192.4L980.8,1192.7L982.6,1193.0L984.5,1193.2L986.3,1193.5L988.2,1193.8L990.0,1194.0L991.8,1194.3L993.7,1194.6L995.5,1194.9L997.4,1195.1L999.2,1195.4L1001.0,1195.7L1002.9,1196.0L1004.7,1196.2L1006.5,1196.5L1008.4,1196.8L1010.2,1197.1L1012.1,1197.3L1013.9,1197.6L1015.7,1197.9L1017.6,1198.2L1019.4,1198.5L1021.3,1198.7L1023.1,1199.0L1024.9,1199.3L1026.8,1199.6L1028.6,1199.9L1030.4,1200.1L1032.3,1200.4L1034.1,1200.7L1036.0,1201.0L1037.8,1201.2L1039.6,1201.5L1041.5,1201.8L1043.3,1202.1L1045.1,1202.3L1047.0,1202.6L1048.8,1202.9L1050.7,1203.2L1052.5,1203.4L1054.3,1203.7L1056.2,1204.0L1058.0,1204.3L1059.9,1204.5L1061.7,1204.8L1063.5,1205.1L1065.4,1205.3L1067.2,1205.6L1069.0,1205.9L1070.9,1206.1L1072.7,1206.4L1074.6,1206.6L1076.4,1206.9L1078.2,1207.1L1080.1,1207.4L1081.9,1207.7L1083.8,1207.9L1085.6,1208.2L1087.4,1208.4L1089.3,1208.7L1091.1,1208.9L1092.9,1209.2L1094.8,1209.4L1096.6,1209.6L1098.5,1209.9L1100.3,1210.1L1102.1,1210.4L1104.0,1210.6L1105.8,1210.8L1107.7,1211.1L1109.5,1211.3L1111.3,1211.5L1113.2,1211.7L1115.0,1212.0L1116.8,1212.2L1118.7,1212.4L1120.5,1212.6L1122.4,1212.9L1124.2,1213.1L1126.0,1213.3L1127.9,1213.5L1129.7,1213.7L1131.6,1213.9L1133.4,1214.1L1135.2,1214.3L1137.1,1214.5L1138.9,1214.7L1140.7,1214.9L1142.6,1215.1L1144.4,1215.3L1146.3,1215.5L1148.1,1215.7L1149.9,1215.9L1151.8,1216.1L1153.6,1216.3L1155.4,1216.4L1157.3,1216.6L1159.1,1216.8L1161.0,1217.0L1162.8,1217.2L1164.6,1217.3L1166.5,1217.5L1168.3,1217.7L1170.2,1217.8L1172.0,1218.0L1173.8,1218.2L1175.7,1218.3L1177.5,1218.5L1179.3,1218.6L1181.2,1218.8L1183.0,1219.0L1184.9,1219.1L1186.7,1219.3L1188.5,1219.4L1190.4,1219.6L1192.2,1219.7L1194.1,1219.8L1195.9,1220.0L1197.7,1220.1L1199.6,1220.3L1201.4,1220.4L1203.2,1220.5L1205.1,1220.7L1206.9,1220.8L1208.8,1220.9L1210.6,1221.0L1212.4,1221.2L1214.3,1221.3L1216.1,1221.4L1218.0,1221.5L1219.8,1221.6L1221.6,1221.8L1223.5,1221.9L1225.3,1222.0L1227.1,1222.1L1229.0,1222.2L1230.8,1222.3L1232.7,1222.4L1234.5,1222.5L1236.3,1222.6L1238.2,1222.7L1240.0,1222.8L1241.9,1222.9L1243.7,1223.0L1245.5,1223.1L1247.4,1223.2L1249.2,1223.3L1251.0,1223.4L1252.9,1223.5L1254.7,1223.6L1256.6,1223.6L1258.4,1223.7L1260.2,1223.8L1262.1,1223.9L1263.9,1224.0L1265.7,1224.1L1267.6,1224.1L1269.4,1224.2L1271.3,1224.3L1273.1,1224.4L1274.9,1224.4L1276.8,1224.5L1278.6,1224.6L1280.5,1224.6L1282.3,1224.7L1284.1,1224.8L1286.0,1224.8L1287.8,1224.9L1289.6,1225.0L1291.5,1225.0L1293.3,1225.1L1295.2,1225.1L1297.0,1225.2L1298.8,1225.3L1300.7,1225.3L1302.5,1225.4L1304.4,1225.4L1306.2,1225.5L1308.0,1225.5L1309.9,1225.6L1311.7,1225.6L1313.5,1225.7L1315.4,1225.7L1317.2,1225.8L1319.1,1225.8L1320.9,1225.9L1322.7,1225.9L1324.6,1226.0L1326.4,1226.0L1328.3,1226.0L1330.1,1226.1L1331.9,1226.1L1333.8,1226.2L1335.6,1226.2L1337.4,1226.2L1339.3,1226.3L1341.1,1226.3L1343.0,1226.3L1344.8,1226.4L1346.6,1226.4L1348.5,1226.5L1350.3,1226.5L1352.2,1226.5L1354.0,1226.5L1355.8,1226.6L1357.7,1226.6L1359.5,1226.6L1361.3,1226.7L1363.2,1226.7L1365.0,1226.7L1366.9,1226.7L1368.7,1226.8L1370.5,1226.8L1372.4,1226.8L1374.2,1226.8L1376.0,1226.9L1377.9,1226.9L1379.7,1226.9L1381.6,1226.9L1383.4,1227.0L1385.2,1227.0L1387.1,1227.0L1388.9,1227.0L1390.8,1227.0L1392.6,1227.1L1394.4,1227.1L1396.3,1227.1L1398.1,1227.1L1399.9,1227.1L1401.8,1227.2L1403.6,1227.2L1405.5,1227.2L1407.3,1227.2L1409.1,1227.2L1411.0,1227.2L1412.8,1227.3L1414.7,1227.3L1416.5,1227.3L1418.3,1227.3L1420.2,1227.3L1422.0,1227.3L1423.8,1227.3L1425.7,1227.3L1427.5,1227.4L1429.4,1227.4L1431.2,1227.4" fill="none" stroke="#1b9bd1" stroke-width="0.8" stroke-linejoin="round" />
<path d="M146.2,1227.8L148.0,1227.8L149.9,1227.8L151.7,1227.8L153.6,1227.8L155.4,1227.8L157.2,1227.8L159.1,1227.8L160.9,1227.8L162.7,1227.8L164.6,1227.8L166.4,1227.8L168.3,1227.8L170.1,1227.8L171.9,1227.8L173.8,1227.8L175.6,1227.8L177.5,1227.8L179.3,1227.8L181.1,1227.8L183.0,1227.8L184.8,1227.8L186.6,1227.8L188.5,1227.8L190.3,1227.8L192.2,1227.8L194.0,1227.8L195.8,1227.8L197.7,1227.8L199.5,1227.8L201.4,1227.8L203.2,1227.8L205.0,1227.8L206.9,1227.8L208.7,1227.8L210.5,1227.8L212.4,1227.8L214.2,1227.8L216.1,1227.8L217.9,1227.8L219.7,1227.8L221.6,1227.8L223.4,1227.8L225.2,1227.8L227.1,1227.8L228.9,1227.8L230.8,1227.8L232.6,1227.8L234.4,1227.8L236.3,1227.8L238.1,1227.8L240.0,1227.8L241.8,1227.8L243.6,1227.8L245.5,1227.8L247.3,1227.8L249.1,1227.8L251.0,1227.8L252.8,1227.8L254.7,1227.8L256.5,1227.8L258.3,1227.8L260.2,1227.8L262.0,1227.8L263.9,1227.8L265.7,1227.8L267.5,1227.8L269.4,1227.8L271.2,1227.8L273.0,1227.8L274.9,1227.8L276.7,1227.8L278.6,1227.8L280.4,1227.8L282.2,1227.8L284.1,1227.8L285.9,1227.8L287.8,1227.8L289.6,1227.8L291.4,1227.8L293.3,1227.8L295.1,1227.8L296.9,1227.8L298.8,1227.8L300.6,1227.8L302.5,1227.8L304.3,1227.8L306.1,1227.8L308.0,1227.8L309.8,1227.8L311.7,1227.8L313.5,1227.8L315.3,1227.8L317.2,1227.8L319.0,1227.8L320.8,1227.8L322.7,1227.8L324.5,1227.8L326.4,1227.8L328.2,1227.8L330.0,1227.8L331.9,1227.8L333.7,1227.8L335.5,1227.8L337.4,1227.8L339.2,1227.8L341.1,1227.8L342.9,1227.8L344.7,1227.8L346.6,1227.8L348.4,1227.8L350.3,1227.8L352.1,1227.8L353.9,1227.8L355.8,1227.8L357.6,1227.8L359.4,1227.8L361.3,1227.8L363.1,1227.8L365.0,1227.8L366.8,1227.8L368.6,1227.8L370.5,1227.8L372.3,1227.8L374.2,1227.8L376.0,1227.8L377.8,1227.8L379.7,1227.8L381.5,1227.8L383.3,1227.8L385.2,1227.8L387.0,1227.8L388.9,1227.8L390.7,1227.8L392.5,1227.8L394.4,1227.8L396.2,1227.8L398.1,1227.8L399.9,1227.8L401.7,1227.8L403.6,1227.8L405.4,1227.8L407.2,1227.8L409.1,1227.8L410.9,1227.8L412.8,1227.8L414.6,1227.8L416.4,1227.7L418.3,1227.7L420.1,1227.7L422.0,1227.7L423.8,1227.7L425.6,1227.7L427.5,1227.7L429.3,1227.7L431.1,1227.7L433.0,1227.7L434.8,1227.7L436.7,1227.7L438.5,1227.7L440.3,1227.7L442.2,1227.7L444.0,1227.7L445.8,1227.7L447.7,1227.7L449.5,1227.6L451.4,1227.6L453.2,1227.6L455.0,1227.6L456.9,1227.6L458.7,1227.6L460.6,1227.6L462.4,1227.6L464.2,1227.6L466.1,1227.5L467.9,1227.5L469.7,1227.5L471.6,1227.5L473.4,1227.5L475.3,1227.5L477.1,1227.4L478.9,1227.4L480.8,1227.4L482.6,1227.4L484.5,1227.4L486.3,1227.3L488.1,1227.3L490.0,1227.3L491.8,1227.3L493.6,1227.2L495.5,1227.2L497.3,1227.2L499.2,1227.2L501.0,1227.1L502.8,1227.1L504.7,1227.1L506.5,1227.0L508.4,1227.0L510.2,1227.0L512.0,1226.9L513.9,1226.9L515.7,1226.8L517.5,1226.8L519.4,1226.8L521.2,1226.7L523.1,1226.7L524.9,1226.6L526.7,1226.6L528.6,1226.5L530.4,1226.5L532.3,1226.4L534.1,1226.3L535.9,1226.3L537.8,1226.2L539.6,1226.2L541.4,1226.1L543.3,1226.0L545.1,1226.0L547.0,1225.9L548.8,1225.8L550.6,1225.7L552.5,1225.7L554.3,1225.6L556.1,1225.5L558.0,1225.4L559.8,1225.3L561.7,1225.2L563.5,1225.1L565.3,1225.0L567.2,1224.9L569.0,1224.8L570.9,1224.7L572.7,1224.6L574.5,1224.5L576.4,1224.4L578.2,1224.3L580.0,1224.2L581.9,1224.1L583.7,1224.0L585.6,1223.8L587.4,1223.7L589.2,1223.6L591.1,1223.5L592.9,1223.3L594.8,1223.2L596.6,1223.1L598.4,1223.0L600.3,1222.8L602.1,1222.7L603.9,1222.5L605.8,1222.4L607.6,1222.3L609.5,1222.1L611.3,1222.0L613.1,1221.8L615.0,1221.7L616.8,1221.5L618.7,1221.3L620.5,1221.2L622.3,1221.0L624.2,1220.9L626.0,1220.7L627.8,1220.5L629.7,1220.3L631.5,1220.2L633.4,1220.0L635.2,1219.8L637.0,1219.6L638.9,1219.4L640.7,1219.2L642.6,1219.0L644.4,1218.8L646.2,1218.7L648.1,1218.5L649.9,1218.2L651.7,1218.0L653.6,1217.8L655.4,1217.6L657.3,1217.4L659.1,1217.2L660.9,1217.0L662.8,1216.8L664.6,1216.5L666.5,1216.3L668.3,1216.1L670.1,1215.9L672.0,1215.6L673.8,1215.4L675.6,1215.1L677.5,1214.9L679.3,1214.7L681.2,1214.4L683.0,1214.2L684.8,1213.9L686.7,1213.7L688.5,1213.4L690.3,1213.2L692.2,1212.9L694.0,1212.7L695.9,1212.4L697.7,1212.1L699.5,1211.9L701.4,1211.6L703.2,1211.3L705.1,1211.1L706.9,1210.8L708.7,1210.5L710.6,1210.3L712.4,1210.0L714.2,1209.7L716.1,1209.4L717.9,1209.1L719.8,1208.9L721.6,1208.6L723.4,1208.3L725.3,1208.0L727.1,1207.7L729.0,1207.4L730.8,1207.2L732.6,1206.9L734.5,1206.6L736.3,1206.3L738.1,1206.0L740.0,1205.7L741.8,1205.4L743.7,1205.1L745.5,1204.8L747.3,1204.6L749.2,1204.3L751.0,1204.0L752.9,1203.7L754.7,1203.4L756.5,1203.1L758.4,1202.8L760.2,1202.5L762.0,1202.2L763.9,1201.9L765.7,1201.6L767.6,1201.4L769.4,1201.1L771.2,1200.8L773.1,1200.5L774.9,1200.2L776.8,1199.9L778.6,1199.6L780.4,1199.3L782.3,1199.1L784.1,1198.8L785.9,1198.5L787.8,1198.2L789.6,1197.9L791.5,1197.7L793.3,1197.4L795.1,1197.1L797.0,1196.9L798.8,1196.6L800.6,1196.3L802.5,1196.1L804.3,1195.8L806.2,1195.5L808.0,1195.3L809.8,1195.0L811.7,1194.8L813.5,1194.5L815.4,1194.3L817.2,1194.0L819.0,1193.8L820.9,1193.5L822.7,1193.3L824.5,1193.1L826.4,1192.8L828.2,1192.6L830.1,1192.4L831.9,1192.1L833.7,1191.9L835.6,1191.7L837.4,1191.5L839.3,1191.3L841.1,1191.1L842.9,1190.9L844.8,1190.7L846.6,1190.5L848.4,1190.3L850.3,1190.1L852.1,1189.9L854.0,1189.7L855.8,1189.5L857.6,1189.4L859.5,1189.2L861.3,1189.0L863.2,1188.9L865.0,1188.7L866.8,1188.6L868.7,1188.4L870.5,1188.3L872.3,1188.1L874.2,1188.0L876.0,1187.8L877.9,1187.7L879.7,1187.6L881.5,1187.5L883.4,1187.4L885.2,1187.2L887.1,1187.1L888.9,1187.0L890.7,1186.9L892.6,1186.8L894.4,1186.8L896.2,1186.7L898.1,1186.6L899.9,1186.5L901.8,1186.4L903.6,1186.4L905.4,1186.3L907.3,1186.3L909.1,1186.2L910.9,1186.2L912.8,1186.1L914.6,1186.1L916.5,1186.1L918.3,1186.0L920.1,1186.0L922.0,1186.0L923.8,1186.0L925.7,1186.0L927.5,1186.0L929.3,1186.0L931.2,1186.0L933.0,1186.0L934.8,1186.0L936.7,1186.0L938.5,1186.0L940.4,1186.1L942.2,1186.1L944.0,1186.1L945.9,1186.2L947.7,1186.2L949.6,1186.3L951.4,1186.3L953.2,1186.4L955.1,1186.4L956.9,1186.5L958.7,1186.6L960.6,1186.7L962.4,1186.7L964.3,1186.8L966.1,1186.9L967.9,1187.0L969.8,1187.1L971.6,1187.2L973.5,1187.3L975.3,1187.4L977.1,1187.5L979.0,1187.7L980.8,1187.8L982.6,1187.9L984.5,1188.0L986.3,1188.2L988.2,1188.3L990.0,1188.5L991.8,1188.6L993.7,1188.7L995.5,1188.9L997.4,1189.1L999.2,1189.2L1001.0,1189.4L1002.9,1189.5L1004.7,1189.7L1006.5,1189.9L1008.4,1190.1L1010.2,1190.2L1012.1,1190.4L1013.9,1190.6L1015.7,1190.8L1017.6,1191.0L1019.4,1191.2L1021.3,1191.4L1023.1,1191.6L1024.9,1191.8L1026.8,1192.0L1028.6,1192.2L1030.4,1192.4L1032.3,1192.6L1034.1,1192.8L1036.0,1193.0L1037.8,1193.2L1039.6,1193.4L1041.5,1193.7L1043.3,1193.9L1045.1,1194.1L1047.0,1194.3L1048.8,1194.6L1050.7,1194.8L1052.5,1195.0L1054.3,1195.3L1056.2,1195.5L1058.0,1195.7L1059.9,1196.0L1061.7,1196.2L1063.5,1196.4L1065.4,1196.7L1067.2,1196.9L1069.0,1197.2L1070.9,1197.4L1072.7,1197.7L1074.6,1197.9L1076.4,1198.1L1078.2,1198.4L1080.1,1198.6L1081.9,1198.9L1083.8,1199.1L1085.6,1199.4L1087.4,1199.6L1089.3,1199.9L1091.1,1200.1L1092.9,1200.4L1094.8,1200.6L1096.6,1200.9L1098.5,1201.2L1100.3,1201.4L1102.1,1201.7L1104.0,1201.9L1105.8,1202.2L1107.7,1202.4L1109.5,1202.7L1111.3,1202.9L1113.2,1203.2L1115.0,1203.4L1116.8,1203.7L1118.7,1203.9L1120.5,1204.2L1122.4,1204.4L1124.2,1204.7L1126.0,1204.9L1127.9,1205.2L1129.7,1205.4L1131.6,1205.7L1133.4,1205.9L1135.2,1206.2L1137.1,1206.4L1138.9,1206.7L1140.7,1206.9L1142.6,1207.1L1144.4,1207.4L1146.3,1207.6L1148.1,1207.9L1149.9,1208.1L1151.8,1208.3L1153.6,1208.6L1155.4,1208.8L1157.3,1209.0L1159.1,1209.3L1161.0,1209.5L1162.8,1209.7L1164.6,1210.0L1166.5,1210.2L1168.3,1210.4L1170.2,1210.6L1172.0,1210.9L1173.8,1211.1L1175.7,1211.3L1177.5,1211.5L1179.3,1211.8L1181.2,1212.0L1183.0,1212.2L1184.9,1212.4L1186.7,1212.6L1188.5,1212.8L1190.4,1213.0L1192.2,1213.2L1194.1,1213.4L1195.9,1213.6L1197.7,1213.8L1199.6,1214.0L1201.4,1214.2L1203.2,1214.4L1205.1,1214.6L1206.9,1214.8L1208.8,1215.0L1210.6,1215.2L1212.4,1215.4L1214.3,1215.6L1216.1,1215.8L1218.0,1216.0L1219.8,1216.1L1221.6,1216.3L1223.5,1216.5L1225.3,1216.7L1227.1,1216.8L1229.0,1217.0L1230.8,1217.2L1232.7,1217.4L1234.5,1217.5L1236.3,1217.7L1238.2,1217.8L1240.0,1218.0L1241.9,1218.2L1243.7,1218.3L1245.5,1218.5L1247.4,1218.6L1249.2,1218.8L1251.0,1218.9L1252.9,1219.1L1254.7,1219.2L1256.6,1219.4L1258.4,1219.5L1260.2,1219.7L1262.1,1219.8L1263.9,1219.9L1265.7,1220.1L1267.6,1220.2L1269.4,1220.4L1271.3,1220.5L1273.1,1220.6L1274.9,1220.7L1276.8,1220.9L1278.6,1221.0L1280.5,1221.1L1282.3,1221.2L1284.1,1221.4L1286.0,1221.5L1287.8,1221.6L1289.6,1221.7L1291.5,1221.8L1293.3,1221.9L1295.2,1222.0L1297.0,1222.1L1298.8,1222.3L1300.7,1222.4L1302.5,1222.5L1304.4,1222.6L1306.2,1222.7L1308.0,1222.8L1309.9,1222.9L1311.7,1223.0L1313.5,1223.1L1315.4,1223.1L1317.2,1223.2L1319.1,1223.3L1320.9,1223.4L1322.7,1223.5L1324.6,1223.6L1326.4,1223.7L1328.3,1223.8L1330.1,1223.8L1331.9,1223.9L1333.8,1224.0L1335.6,1224.1L1337.4,1224.2L1339.3,1224.2L1341.1,1224.3L1343.0,1224.4L1344.8,1224.4L1346.6,1224.5L1348.5,1224.6L1350.3,1224.7L1352.2,1224.7L1354.0,1224.8L1355.8,1224.9L1357.7,1224.9L1359.5,1225.0L1361.3,1225.0L1363.2,1225.1L1365.0,1225.2L1366.9,1225.2L1368.7,1225.3L1370.5,1225.3L1372.4,1225.4L1374.2,1225.4L1376.0,1225.5L1377.9,1225.5L1379.7,1225.6L1381.6,1225.6L1383.4,1225.7L1385.2,1225.7L1387.1,1225.8L1388.9,1225.8L1390.8,1225.9L1392.6,1225.9L1394.4,1226.0L1396.3,1226.0L1398.1,1226.0L1399.9,1226.1L1401.8,1226.1L1403.6,1226.2L1405.5,1226.2L1407.3,1226.2L1409.1,1226.3L1411.0,1226.3L1412.8,1226.4L1414.7,1226.4L1416.5,1226.4L1418.3,1226.5L1420.2,1226.5L1422.0,1226.5L1423.8,1226.5L1425.7,1226.6L1427.5,1226.6L1429.4,1226.6L1431.2,1226.7" fill="none" stroke="#c03a88" stroke-width="0.8" stroke-linejoin="round" />
<path d="M146.2,1227.8L148.0,1227.8L149.9,1227.8L151.7,1227.7L153.6,1227.7L155.4,1227.6L157.2,1227.6L159.1,1227.5L160.9,1227.4L162.7,1227.3L164.6,1227.2L166.4,1227.0L168.3,1226.9L170.1,1226.8L171.9,1226.6L173.8,1226.4L175.6,1226.2L177.5,1226.0L179.3,1225.8L181.1,1225.6L183.0,1225.4L184.8,1225.2L186.6,1225.0L188.5,1224.7L190.3,1224.4L192.2,1224.2L194.0,1223.9L195.8,1223.6L197.7,1223.4L199.5,1223.1L201.4,1222.8L203.2,1222.5L205.0,1222.1L206.9,1221.8L208.7,1221.5L210.5,1221.2L212.4,1220.8L214.2,1220.5L216.1,1220.1L217.9,1219.8L219.7,1219.4L221.6,1219.1L223.4,1218.7L225.2,1218.4L227.1,1218.0L228.9,1217.6L230.8,1217.2L232.6,1216.9L234.4,1216.5L236.3,1216.1L238.1,1215.7L240.0,1215.3L241.8,1214.9L243.6,1214.6L245.5,1214.2L247.3,1213.8L249.1,1213.4L251.0,1213.0L252.8,1212.6L254.7,1212.2L256.5,1211.8L258.3,1211.5L260.2,1211.1L262.0,1210.7L263.9,1210.3L265.7,1209.9L267.5,1209.5L269.4,1209.2L271.2,1208.8L273.0,1208.4L274.9,1208.1L276.7,1207.7L278.6,1207.3L280.4,1207.0L282.2,1206.6L284.1,1206.3L285.9,1205.9L287.8,1205.6L289.6,1205.2L291.4,1204.9L293.3,1204.6L295.1,1204.2L296.9,1203.9L298.8,1203.6L300.6,1203.3L302.5,1203.0L304.3,1202.7L306.1,1202.4L308.0,1202.1L309.8,1201.8L311.7,1201.6L313.5,1201.3L315.3,1201.0L317.2,1200.8L319.0,1200.5L320.8,1200.3L322.7,1200.1L324.5,1199.8L326.4,1199.6L328.2,1199.4L330.0,1199.2L331.9,1199.0L333.7,1198.8L335.5,1198.6L337.4,1198.5L339.2,1198.3L341.1,1198.1L342.9,1198.0L344.7,1197.8L346.6,1197.7L348.4,1197.6L350.3,1197.5L352.1,1197.4L353.9,1197.3L355.8,1197.2L357.6,1197.1L359.4,1197.0L361.3,1196.9L363.1,1196.9L365.0,1196.8L366.8,1196.8L368.6,1196.7L370.5,1196.7L372.3,1196.7L374.2,1196.7L376.0,1196.7L377.8,1196.7L379.7,1196.7L381.5,1196.7L383.3,1196.8L385.2,1196.8L387.0,1196.8L388.9,1196.9L390.7,1197.0L392.5,1197.0L394.4,1197.1L396.2,1197.2L398.1,1197.3L399.9,1197.4L401.7,1197.5L403.6,1197.6L405.4,1197.8L407.2,1197.9L409.1,1198.0L410.9,1198.2L412.8,1198.3L414.6,1198.5L416.4,1198.7L418.3,1198.8L420.1,1199.0L422.0,1199.2L423.8,1199.4L425.6,1199.6L427.5,1199.8L429.3,1200.1L431.1,1200.3L433.0,1200.5L434.8,1200.7L436.7,1201.0L438.5,1201.2L440.3,1201.5L442.2,1201.7L444.0,1202.0L445.8,1202.3L447.7,1202.6L449.5,1202.8L451.4,1203.1L453.2,1203.4L455.0,1203.7L456.9,1204.0L458.7,1204.3L460.6,1204.6L462.4,1204.9L464.2,1205.3L466.1,1205.6L467.9,1205.9L469.7,1206.2L471.6,1206.6L473.4,1206.9L475.3,1207.3L477.1,1207.6L478.9,1207.9L480.8,1208.3L482.6,1208.6L484.5,1209.0L486.3,1209.4L488.1,1209.7L490.0,1210.1L491.8,1210.4L493.6,1210.8L495.5,1211.2L497.3,1211.5L499.2,1211.9L501.0,1212.3L502.8,1212.7L504.7,1213.0L506.5,1213.4L508.4,1213.8L510.2,1214.2L512.0,1214.5L513.9,1214.9L515.7,1215.3L517.5,1215.7L519.4,1216.0L521.2,1216.4L523.1,1216.8L524.9,1217.2L526.7,1217.5L528.6,1217.9L530.4,1218.3L532.3,1218.6L534.1,1219.0L535.9,1219.4L537.8,1219.7L539.6,1220.1L541.4,1220.4L543.3,1220.8L545.1,1221.1L547.0,1221.5L548.8,1221.8L550.6,1222.2L552.5,1222.5L554.3,1222.8L556.1,1223.1L558.0,1223.5L559.8,1223.8L561.7,1224.1L563.5,1224.4L565.3,1224.6L567.2,1224.9L569.0,1225.2L570.9,1225.4L572.7,1225.7L574.5,1225.9L576.4,1226.1L578.2,1226.3L580.0,1226.5L581.9,1226.7L583.7,1226.9L585.6,1227.0L587.4,1227.1L589.2,1227.3L591.1,1227.4L592.9,1227.4L594.8,1227.5L596.6,1227.6L598.4,1227.6L600.3,1227.7L602.1,1227.7L603.9,1227.7L605.8,1227.7L607.6,1227.8L609.5,1227.8L611.3,1227.8L613.1,1227.8L615.0,1227.8L616.8,1227.8L618.7,1227.8L620.5,1227.8L622.3,1227.8L624.2,1227.8L626.0,1227.8L627.8,1227.8L629.7,1227.8L631.5,1227.8L633.4,1227.8L635.2,1227.8L637.0,1227.8L638.9,1227.8L640.7,1227.8L642.6,1227.8L644.4,1227.8L646.2,1227.8L648.1,1227.8L649.9,1227.8L651.7,1227.8L653.6,1227.8L655.4,1227.8L657.3,1227.8L659.1,1227.8L660.9,1227.8L662.8,1227.8L664.6,1227.8L666.5,1227.8L668.3,1227.8L670.1,1227.8L672.0,1227.8L673.8,1227.8L675.6,1227.8L677.5,1227.8L679.3,1227.8L681.2,1227.8L683.0,1227.8L684.8,1227.8L686.7,1227.8L688.5,1227.8L690.3,1227.8L692.2,1227.8L694.0,1227.8L695.9,1227.8L697.7,1227.8L699.5,1227.8L701.4,1227.8L703.2,1227.8L705.1,1227.8L706.9,1227.8L708.7,1227.8L710.6,1227.8L712.4,1227.8L714.2,1227.8L716.1,1227.8L717.9,1227.8L719.8,1227.8L721.6,1227.8L723.4,1227.8L725.3,1227.8L727.1,1227.8L729.0,1227.8L730.8,1227.8L732.6,1227.8L734.5,1227.8L736.3,1227.8L738.1,1227.8L740.0,1227.8L741.8,1227.8L743.7,1227.8L745.5,1227.8L747.3,1227.8L749.2,1227.8L751.0,1227.8L752.9,1227.8L754.7,1227.8L756.5,1227.8L758.4,1227.8L760.2,1227.8L762.0,1227.8L763.9,1227.8L765.7,1227.8L767.6,1227.8L769.4,1227.8L771.2,1227.8L773.1,1227.8L774.9,1227.8L776.8,1227.8L778.6,1227.8L780.4,1227.8L782.3,1227.8L784.1,1227.8L785.9,1227.8L787.8,1227.8L789.6,1227.8L791.5,1227.8L793.3,1227.8L795.1,1227.8L797.0,1227.8L798.8,1227.8L800.6,1227.8L802.5,1227.8L804.3,1227.8L806.2,1227.8L808.0,1227.8L809.8,1227.8L811.7,1227.8L813.5,1227.8L815.4,1227.8L817.2,1227.8L819.0,1227.8L820.9,1227.8L822.7,1227.8L824.5,1227.8L826.4,1227.8L828.2,1227.8L830.1,1227.8L831.9,1227.8L833.7,1227.8L835.6,1227.8L837.4,1227.8L839.3,1227.8L841.1,1227.8L842.9,1227.8L844.8,1227.8L846.6,1227.8L848.4,1227.8L850.3,1227.8L852.1,1227.8L854.0,1227.8L855.8,1227.8L857.6,1227.8L859.5,1227.8L861.3,1227.8L863.2,1227.8L865.0,1227.8L866.8,1227.8L868.7,1227.8L870.5,1227.8L872.3,1227.8L874.2,1227.8L876.0,1227.8L877.9,1227.8L879.7,1227.8L881.5,1227.8L883.4,1227.8L885.2,1227.8L887.1,1227.8L888.9,1227.8L890.7,1227.8L892.6,1227.8L894.4,1227.8L896.2,1227.8L898.1,1227.8L899.9,1227.8L901.8,1227.8L903.6,1227.8L905.4,1227.8L907.3,1227.8L909.1,1227.8L910.9,1227.8L912.8,1227.8L914.6,1227.8L916.5,1227.8L918.3,1227.8L920.1,1227.8L922.0,1227.8L923.8,1227.8L925.7,1227.8L927.5,1227.8L929.3,1227.8L931.2,1227.8L933.0,1227.8L934.8,1227.8L936.7,1227.8L938.5,1227.8L940.4,1227.8L942.2,1227.8L944.0,1227.8L945.9,1227.8L947.7,1227.8L949.6,1227.8L951.4,1227.8L953.2,1227.8L955.1,1227.8L956.9,1227.8L958.7,1227.8L960.6,1227.8L962.4,1227.8L964.3,1227.8L966.1,1227.8L967.9,1227.8L969.8,1227.8L971.6,1227.8L973.5,1227.8L975.3,1227.8L977.1,1227.8L979.0,1227.8L980.8,1227.8L982.6,1227.8L984.5,1227.8L986.3,1227.8L988.2,1227.8L990.0,1227.8L991.8,1227.8L993.7,1227.8L995.5,1227.8L997.4,1227.8L999.2,1227.8L1001.0,1227.8L1002.9,1227.8L1004.7,1227.8L1006.5,1227.8L1008.4,1227.8L1010.2,1227.8L1012.1,1227.8L1013.9,1227.8L1015.7,1227.8L1017.6,1227.8L1019.4,1227.8L1021.3,1227.8L1023.1,1227.8L1024.9,1227.8L1026.8,1227.8L1028.6,1227.8L1030.4,1227.8L1032.3,1227.8L1034.1,1227.8L1036.0,1227.8L1037.8,1227.8L1039.6,1227.8L1041.5,1227.8L1043.3,1227.8L1045.1,1227.8L1047.0,1227.8L1048.8,1227.8L1050.7,1227.8L1052.5,1227.8L1054.3,1227.8L1056.2,1227.8L1058.0,1227.8L1059.9,1227.8L1061.7,1227.8L1063.5,1227.8L1065.4,1227.8L1067.2,1227.8L1069.0,1227.8L1070.9,1227.8L1072.7,1227.8L1074.6,1227.8L1076.4,1227.8L1078.2,1227.8L1080.1,1227.8L1081.9,1227.8L1083.8,1227.8L1085.6,1227.8L1087.4,1227.8L1089.3,1227.8L1091.1,1227.8L1092.9,1227.8L1094.8,1227.8L1096.6,1227.8L1098.5,1227.8L1100.3,1227.8L1102.1,1227.8L1104.0,1227.8L1105.8,1227.8L1107.7,1227.8L1109.5,1227.8L1111.3,1227.8L1113.2,1227.8L1115.0,1227.8L1116.8,1227.8L1118.7,1227.8L1120.5,1227.8L1122.4,1227.8L1124.2,1227.8L1126.0,1227.8L1127.9,1227.8L1129.7,1227.8L1131.6,1227.8L1133.4,1227.8L1135.2,1227.8L1137.1,1227.8L1138.9,1227.8L1140.7,1227.8L1142.6,1227.8L1144.4,1227.8L1146.3,1227.8L1148.1,1227.8L1149.9,1227.8L1151.8,1227.8L1153.6,1227.8L1155.4,1227.8L1157.3,1227.8L1159.1,1227.8L1161.0,1227.8L1162.8,1227.8L1164.6,1227.8L1166.5,1227.8L1168.3,1227.8L1170.2,1227.8L1172.0,1227.8L1173.8,1227.8L1175.7,1227.8L1177.5,1227.8L1179.3,1227.8L1181.2,1227.8L1183.0,1227.8L1184.9,1227.8L1186.7,1227.8L1188.5,1227.8L1190.4,1227.8L1192.2,1227.8L1194.1,1227.8L1195.9,1227.8L1197.7,1227.8L1199.6,1227.8L1201.4,1227.8L1203.2,1227.8L1205.1,1227.8L1206.9,1227.8L1208.8,1227.8L1210.6,1227.8L1212.4,1227.8L1214.3,1227.8L1216.1,1227.8L1218.0,1227.8L1219.8,1227.8L1221.6,1227.8L1223.5,1227.8L1225.3,1227.8L1227.1,1227.8L1229.0,1227.8L1230.8,1227.8L1232.7,1227.8L1234.5,1227.8L1236.3,1227.8L1238.2,1227.8L1240.0,1227.8L1241.9,1227.8L1243.7,1227.8L1245.5,1227.8L1247.4,1227.8L1249.2,1227.8L1251.0,1227.8L1252.9,1227.8L1254.7,1227.8L1256.6,1227.8L1258.4,1227.8L1260.2,1227.8L1262.1,1227.8L1263.9,1227.8L1265.7,1227.8L1267.6,1227.8L1269.4,1227.8L1271.3,1227.8L1273.1,1227.8L1274.9,1227.8L1276.8,1227.8L1278.6,1227.8L1280.5,1227.8L1282.3,1227.8L1284.1,1227.8L1286.0,1227.8L1287.8,1227.8L1289.6,1227.8L1291.5,1227.8L1293.3,1227.8L1295.2,1227.8L1297.0,1227.8L1298.8,1227.8L1300.7,1227.8L1302.5,1227.8L1304.4,1227.8L1306.2,1227.8L1308.0,1227.8L1309.9,1227.8L1311.7,1227.8L1313.5,1227.8L1315.4,1227.8L1317.2,1227.8L1319.1,1227.8L1320.9,1227.8L1322.7,1227.8L1324.6,1227.8L1326.4,1227.8L1328.3,1227.8L1330.1,1227.8L1331.9,1227.8L1333.8,1227.8L1335.6,1227.8L1337.4,1227.8L1339.3,1227.8L1341.1,1227.8L1343.0,1227.8L1344.8,1227.8L1346.6,1227.8L1348.5,1227.8L1350.3,1227.8L1352.2,1227.8L1354.0,1227.8L1355.8,1227.8L1357.7,1227.8L1359.5,1227.8L1361.3,1227.8L1363.2,1227.8L1365.0,1227.8L1366.9,1227.8L1368.7,1227.8L1370.5,1227.8L1372.4,1227.8L1374.2,1227.8L1376.0,1227.8L1377.9,1227.8L1379.7,1227.8L1381.6,1227.8L1383.4,1227.8L1385.2,1227.8L1387.1,1227.8L1388.9,1227.8L1390.8,1227.8L1392.6,1227.8L1394.4,1227.8L1396.3,1227.8L1398.1,1227.8L1399.9,1227.8L1401.8,1227.8L1403.6,1227.8L1405.5,1227.8L1407.3,1227.8L1409.1,1227.8L1411.0,1227.8L1412.8,1227.8L1414.7,1227.8L1416.5,1227.8L1418.3,1227.8L1420.2,1227.8L1422.0,1227.8L1423.8,1227.8L1425.7,1227.8L1427.5,1227.8L1429.4,1227.8L1431.2,1227.8" fill="none" stroke="#3b7a59" stroke-width="0.8" stroke-linejoin="round" />
<path d="M146.2,1227.8L148.0,1227.8L149.9,1227.8L151.7,1227.8L153.6,1227.8L155.4,1227.8L157.2,1227.8L159.1,1227.8L160.9,1227.8L162.7,1227.8L164.6,1227.8L166.4,1227.8L168.3,1227.8L170.1,1227.8L171.9,1227.8L173.8,1227.8L175.6,1227.8L177.5,1227.8L179.3,1227.8L181.1,1227.8L183.0,1227.8L184.8,1227.8L186.6,1227.8L188.5,1227.8L190.3,1227.8L192.2,1227.8L194.0,1227.8L195.8,1227.8L197.7,1227.8L199.5,1227.8L201.4,1227.8L203.2,1227.8L205.0,1227.8L206.9,1227.8L208.7,1227.8L210.5,1227.8L212.4,1227.8L214.2,1227.8L216.1,1227.8L217.9,1227.8L219.7,1227.8L221.6,1227.8L223.4,1227.8L225.2,1227.8L227.1,1227.8L228.9,1227.8L230.8,1227.8L232.6,1227.8L234.4,1227.8L236.3,1227.8L238.1,1227.8L240.0,1227.8L241.8,1227.8L243.6,1227.8L245.5,1227.8L247.3,1227.8L249.1,1227.8L251.0,1227.8L252.8,1227.8L254.7,1227.8L256.5,1227.8L258.3,1227.8L260.2,1227.8L262.0,1227.8L263.9,1227.8L265.7,1227.8L267.5,1227.8L269.4,1227.8L271.2,1227.7L273.0,1227.7L274.9,1227.7L276.7,1227.7L278.6,1227.7L280.4,1227.7L282.2,1227.7L284.1,1227.7L285.9,1227.7L287.8,1227.7L289.6,1227.7L291.4,1227.7L293.3,1227.7L295.1,1227.7L296.9,1227.7L298.8,1227.7L300.6,1227.6L302.5,1227.6L304.3,1227.6L306.1,1227.6L308.0,1227.6L309.8,1227.6L311.7,1227.6L313.5,1227.6L315.3,1227.6L317.2,1227.5L319.0,1227.5L320.8,1227.5L322.7,1227.5L324.5,1227.5L326.4,1227.5L328.2,1227.5L330.0,1227.4L331.9,1227.4L333.7,1227.4L335.5,1227.4L337.4,1227.4L339.2,1227.3L341.1,1227.3L342.9,1227.3L344.7,1227.3L346.6,1227.3L348.4,1227.2L350.3,1227.2L352.1,1227.2L353.9,1227.2L355.8,1227.1L357.6,1227.1L359.4,1227.1L361.3,1227.1L363.1,1227.0L365.0,1227.0L366.8,1227.0L368.6,1227.0L370.5,1226.9L372.3,1226.9L374.2,1226.9L376.0,1226.8L377.8,1226.8L379.7,1226.8L381.5,1226.7L383.3,1226.7L385.2,1226.7L387.0,1226.6L388.9,1226.6L390.7,1226.6L392.5,1226.5L394.4,1226.5L396.2,1226.5L398.1,1226.4L399.9,1226.4L401.7,1226.4L403.6,1226.3L405.4,1226.3L407.2,1226.3L409.1,1226.2L410.9,1226.2L412.8,1226.1L414.6,1226.1L416.4,1226.1L418.3,1226.0L420.1,1226.0L422.0,1226.0L423.8,1225.9L425.6,1225.9L427.5,1225.9L429.3,1225.8L431.1,1225.8L433.0,1225.7L434.8,1225.7L436.7,1225.7L438.5,1225.6L440.3,1225.6L442.2,1225.6L444.0,1225.5L445.8,1225.5L447.7,1225.5L449.5,1225.5L451.4,1225.4L453.2,1225.4L455.0,1225.4L456.9,1225.3L458.7,1225.3L460.6,1225.3L462.4,1225.3L464.2,1225.2L466.1,1225.2L467.9,1225.2L469.7,1225.2L471.6,1225.2L473.4,1225.1L475.3,1225.1L477.1,1225.1L478.9,1225.1L480.8,1225.1L482.6,1225.1L484.5,1225.1L486.3,1225.1L488.1,1225.1L490.0,1225.0L491.8,1225.0L493.6,1225.0L495.5,1225.1L497.3,1225.1L499.2,1225.1L501.0,1225.1L502.8,1225.1L504.7,1225.1L506.5,1225.1L508.4,1225.1L510.2,1225.1L512.0,1225.2L513.9,1225.2L515.7,1225.2L517.5,1225.2L519.4,1225.3L521.2,1225.3L523.1,1225.3L524.9,1225.4L526.7,1225.4L528.6,1225.4L530.4,1225.5L532.3,1225.5L534.1,1225.6L535.9,1225.6L537.8,1225.7L539.6,1225.7L541.4,1225.8L543.3,1225.9L545.1,1225.9L547.0,1226.0L548.8,1226.1L550.6,1226.1L552.5,1226.2L554.3,1226.3L556.1,1226.3L558.0,1226.4L559.8,1226.5L561.7,1226.6L563.5,1226.6L565.3,1226.7L567.2,1226.8L569.0,1226.9L570.9,1226.9L572.7,1227.0L574.5,1227.1L576.4,1227.2L578.2,1227.2L580.0,1227.3L581.9,1227.4L583.7,1227.4L585.6,1227.5L587.4,1227.5L589.2,1227.6L591.1,1227.6L592.9,1227.6L594.8,1227.7L596.6,1227.7L598.4,1227.7L600.3,1227.7L602.1,1227.8L603.9,1227.8L605.8,1227.8L607.6,1227.8L609.5,1227.8L611.3,1227.8L613.1,1227.8L615.0,1227.8L616.8,1227.8L618.7,1227.8L620.5,1227.8L622.3,1227.8L624.2,1227.8L626.0,1227.8L627.8,1227.8L629.7,1227.8L631.5,1227.8L633.4,1227.8L635.2,1227.8L637.0,1227.8L638.9,1227.8L640.7,1227.8L642.6,1227.8L644.4,1227.8L646.2,1227.8L648.1,1227.8L649.9,1227.8L651.7,1227.8L653.6,1227.8L655.4,1227.8L657.3,1227.8L659.1,1227.8L660.9,1227.8L662.8,1227.8L664.6,1227.8L666.5,1227.8L668.3,1227.8L670.1,1227.8L672.0,1227.8L673.8,1227.8L675.6,1227.8L677.5,1227.8L679.3,1227.8L681.2,1227.8L683.0,1227.8L684.8,1227.8L686.7,1227.8L688.5,1227.8L690.3,1227.8L692.2,1227.8L694.0,1227.8L695.9,1227.8L697.7,1227.8L699.5,1227.8L701.4,1227.8L703.2,1227.8L705.1,1227.8L706.9,1227.8L708.7,1227.8L710.6,1227.8L712.4,1227.8L714.2,1227.8L716.1,1227.8L717.9,1227.8L719.8,1227.8L721.6,1227.8L723.4,1227.8L725.3,1227.8L727.1,1227.8L729.0,1227.8L730.8,1227.8L732.6,1227.8L734.5,1227.8L736.3,1227.8L738.1,1227.8L740.0,1227.8L741.8,1227.8L743.7,1227.8L745.5,1227.8L747.3,1227.8L749.2,1227.8L751.0,1227.8L752.9,1227.8L754.7,1227.8L756.5,1227.8L758.4,1227.8L760.2,1227.8L762.0,1227.8L763.9,1227.8L765.7,1227.8L767.6,1227.8L769.4,1227.8L771.2,1227.8L773.1,1227.8L774.9,1227.8L776.8,1227.8L778.6,1227.8L780.4,1227.8L782.3,1227.8L784.1,1227.8L785.9,1227.8L787.8,1227.8L789.6,1227.8L791.5,1227.8L793.3,1227.8L795.1,1227.8L797.0,1227.8L798.8,1227.8L800.6,1227.8L802.5,1227.8L804.3,1227.8L806.2,1227.8L808.0,1227.8L809.8,1227.8L811.7,1227.8L813.5,1227.8L815.4,1227.8L817.2,1227.8L819.0,1227.8L820.9,1227.8L822.7,1227.8L824.5,1227.8L826.4,1227.8L828.2,1227.8L830.1,1227.8L831.9,1227.8L833.7,1227.8L835.6,1227.8L837.4,1227.8L839.3,1227.8L841.1,1227.8L842.9,1227.8L844.8,1227.8L846.6,1227.8L848.4,1227.8L850.3,1227.8L852.1,1227.8L854.0,1227.8L855.8,1227.8L857.6,1227.8L859.5,1227.8L861.3,1227.8L863.2,1227.8L865.0,1227.8L866.8,1227.8L868.7,1227.8L870.5,1227.8L872.3,1227.8L874.2,1227.8L876.0,1227.8L877.9,1227.8L879.7,1227.8L881.5,1227.8L883.4,1227.8L885.2,1227.8L887.1,1227.8L888.9,1227.8L890.7,1227.8L892.6,1227.8L894.4,1227.8L896.2,1227.8L898.1,1227.8L899.9,1227.8L901.8,1227.8L903.6,1227.8L905.4,1227.8L907.3,1227.8L909.1,1227.8L910.9,1227.8L912.8,1227.8L914.6,1227.8L916.5,1227.8L918.3,1227.8L920.1,1227.8L922.0,1227.8L923.8,1227.8L925.7,1227.8L927.5,1227.8L929.3,1227.8L931.2,1227.8L933.0,1227.8L934.8,1227.8L936.7,1227.8L938.5,1227.8L940.4,1227.8L942.2,1227.8L944.0,1227.8L945.9,1227.8L947.7,1227.8L949.6,1227.8L951.4,1227.8L953.2,1227.8L955.1,1227.8L956.9,1227.8L958.7,1227.8L960.6,1227.8L962.4,1227.8L964.3,1227.8L966.1,1227.8L967.9,1227.8L969.8,1227.8L971.6,1227.8L973.5,1227.8L975.3,1227.8L977.1,1227.8L979.0,1227.8L980.8,1227.8L982.6,1227.8L984.5,1227.8L986.3,1227.8L988.2,1227.8L990.0,1227.8L991.8,1227.8L993.7,1227.8L995.5,1227.8L997.4,1227.8L999.2,1227.8L1001.0,1227.8L1002.9,1227.8L1004.7,1227.8L1006.5,1227.8L1008.4,1227.8L1010.2,1227.8L1012.1,1227.8L1013.9,1227.8L1015.7,1227.8L1017.6,1227.8L1019.4,1227.8L1021.3,1227.8L1023.1,1227.8L1024.9,1227.8L1026.8,1227.8L1028.6,1227.8L1030.4,1227.8L1032.3,1227.8L1034.1,1227.8L1036.0,1227.8L1037.8,1227.8L1039.6,1227.8L1041.5,1227.8L1043.3,1227.8L1045.1,1227.8L1047.0,1227.8L1048.8,1227.8L1050.7,1227.8L1052.5,1227.8L1054.3,1227.8L1056.2,1227.8L1058.0,1227.8L1059.9,1227.8L1061.7,1227.8L1063.5,1227.8L1065.4,1227.8L1067.2,1227.8L1069.0,1227.8L1070.9,1227.8L1072.7,1227.8L1074.6,1227.8L1076.4,1227.8L1078.2,1227.8L1080.1,1227.8L1081.9,1227.8L1083.8,1227.8L1085.6,1227.8L1087.4,1227.8L1089.3,1227.8L1091.1,1227.8L1092.9,1227.8L1094.8,1227.8L1096.6,1227.8L1098.5,1227.8L1100.3,1227.8L1102.1,1227.8L1104.0,1227.8L1105.8,1227.8L1107.7,1227.8L1109.5,1227.8L1111.3,1227.8L1113.2,1227.8L1115.0,1227.8L1116.8,1227.8L1118.7,1227.8L1120.5,1227.8L1122.4,1227.8L1124.2,1227.8L1126.0,1227.8L1127.9,1227.8L1129.7,1227.8L1131.6,1227.8L1133.4,1227.8L1135.2,1227.8L1137.1,1227.8L1138.9,1227.8L1140.7,1227.8L1142.6,1227.8L1144.4,1227.8L1146.3,1227.8L1148.1,1227.8L1149.9,1227.8L1151.8,1227.8L1153.6,1227.8L1155.4,1227.8L1157.3,1227.8L1159.1,1227.8L1161.0,1227.8L1162.8,1227.8L1164.6,1227.8L1166.5,1227.8L1168.3,1227.8L1170.2,1227.8L1172.0,1227.8L1173.8,1227.8L1175.7,1227.8L1177.5,1227.8L1179.3,1227.8L1181.2,1227.8L1183.0,1227.8L1184.9,1227.8L1186.7,1227.8L1188.5,1227.8L1190.4,1227.8L1192.2,1227.8L1194.1,1227.8L1195.9,1227.8L1197.7,1227.8L1199.6,1227.8L1201.4,1227.8L1203.2,1227.8L1205.1,1227.8L1206.9,1227.8L1208.8,1227.8L1210.6,1227.8L1212.4,1227.8L1214.3,1227.8L1216.1,1227.8L1218.0,1227.8L1219.8,1227.8L1221.6,1227.8L1223.5,1227.8L1225.3,1227.8L1227.1,1227.8L1229.0,1227.8L1230.8,1227.8L1232.7,1227.8L1234.5,1227.8L1236.3,1227.8L1238.2,1227.8L1240.0,1227.8L1241.9,1227.8L1243.7,1227.8L1245.5,1227.8L1247.4,1227.8L1249.2,1227.8L1251.0,1227.8L1252.9,1227.8L1254.7,1227.8L1256.6,1227.8L1258.4,1227.8L1260.2,1227.8L1262.1,1227.8L1263.9,1227.8L1265.7,1227.8L1267.6,1227.8L1269.4,1227.8L1271.3,1227.8L1273.1,1227.8L1274.9,1227.8L1276.8,1227.8L1278.6,1227.8L1280.5,1227.8L1282.3,1227.8L1284.1,1227.8L1286.0,1227.8L1287.8,1227.8L1289.6,1227.8L1291.5,1227.8L1293.3,1227.8L1295.2,1227.8L1297.0,1227.8L1298.8,1227.8L1300.7,1227.8L1302.5,1227.8L1304.4,1227.8L1306.2,1227.8L1308.0,1227.8L1309.9,1227.8L1311.7,1227.8L1313.5,1227.8L1315.4,1227.8L1317.2,1227.8L1319.1,1227.8L1320.9,1227.8L1322.7,1227.8L1324.6,1227.8L1326.4,1227.8L1328.3,1227.8L1330.1,1227.8L1331.9,1227.8L1333.8,1227.8L1335.6,1227.8L1337.4,1227.8L1339.3,1227.8L1341.1,1227.8L1343.0,1227.8L1344.8,1227.8L1346.6,1227.8L1348.5,1227.8L1350.3,1227.8L1352.2,1227.8L1354.0,1227.8L1355.8,1227.8L1357.7,1227.8L1359.5,1227.8L1361.3,1227.8L1363.2,1227.8L1365.0,1227.8L1366.9,1227.8L1368.7,1227.8L1370.5,1227.8L1372.4,1227.8L1374.2,1227.8L1376.0,1227.8L1377.9,1227.8L1379.7,1227.8L1381.6,1227.8L1383.4,1227.8L1385.2,1227.8L1387.1,1227.8L1388.9,1227.8L1390.8,1227.8L1392.6,1227.8L1394.4,1227.8L1396.3,1227.8L1398.1,1227.8L1399.9,1227.8L1401.8,1227.8L1403.6,1227.8L1405.5,1227.8L1407.3,1227.8L1409.1,1227.8L1411.0,1227.8L1412.8,1227.8L1414.7,1227.8L1416.5,1227.8L1418.3,1227.8L1420.2,1227.8L1422.0,1227.8L1423.8,1227.8L1425.7,1227.8L1427.5,1227.8L1429.4,1227.8L1431.2,1227.8" fill="none" stroke="#1b9bd1" stroke-width="0.8" stroke-linejoin="round" />
<path d="M146.2,1227.8L148.0,1227.8L149.9,1227.8L151.7,1227.8L153.6,1227.8L155.4,1227.8L157.2,1227.8L159.1,1227.8L160.9,1227.8L162.7,1227.8L164.6,1227.8L166.4,1227.8L168.3,1227.8L170.1,1227.8L171.9,1227.8L173.8,1227.8L175.6,1227.8L177.5,1227.8L179.3,1227.8L181.1,1227.8L183.0,1227.8L184.8,1227.8L186.6,1227.8L188.5,1227.8L190.3,1227.8L192.2,1227.8L194.0,1227.8L195.8,1227.8L197.7,1227.8L199.5,1227.8L201.4,1227.8L203.2,1227.8L205.0,1227.8L206.9,1227.8L208.7,1227.8L210.5,1227.8L212.4,1227.8L214.2,1227.8L216.1,1227.8L217.9,1227.8L219.7,1227.8L221.6,1227.8L223.4,1227.8L225.2,1227.8L227.1,1227.8L228.9,1227.8L230.8,1227.8L232.6,1227.8L234.4,1227.8L236.3,1227.8L238.1,1227.8L240.0,1227.8L241.8,1227.8L243.6,1227.8L245.5,1227.8L247.3,1227.8L249.1,1227.8L251.0,1227.8L252.8,1227.8L254.7,1227.8L256.5,1227.8L258.3,1227.8L260.2,1227.8L262.0,1227.8L263.9,1227.8L265.7,1227.8L267.5,1227.8L269.4,1227.8L271.2,1227.8L273.0,1227.8L274.9,1227.8L276.7,1227.8L278.6,1227.8L280.4,1227.8L282.2,1227.8L284.1,1227.8L285.9,1227.8L287.8,1227.8L289.6,1227.8L291.4,1227.8L293.3,1227.8L295.1,1227.8L296.9,1227.8L298.8,1227.8L300.6,1227.8L302.5,1227.8L304.3,1227.8L306.1,1227.8L308.0,1227.8L309.8,1227.8L311.7,1227.8L313.5,1227.8L315.3,1227.8L317.2,1227.8L319.0,1227.8L320.8,1227.8L322.7,1227.8L324.5,1227.8L326.4,1227.8L328.2,1227.8L330.0,1227.8L331.9,1227.8L333.7,1227.8L335.5,1227.8L337.4,1227.8L339.2,1227.8L341.1,1227.8L342.9,1227.8L344.7,1227.8L346.6,1227.8L348.4,1227.8L350.3,1227.8L352.1,1227.7L353.9,1227.7L355.8,1227.7L357.6,1227.7L359.4,1227.7L361.3,1227.7L363.1,1227.7L365.0,1227.7L366.8,1227.7L368.6,1227.7L370.5,1227.7L372.3,1227.7L374.2,1227.7L376.0,1227.7L377.8,1227.7L379.7,1227.7L381.5,1227.7L383.3,1227.7L385.2,1227.7L387.0,1227.7L388.9,1227.7L390.7,1227.7L392.5,1227.6L394.4,1227.6L396.2,1227.6L398.1,1227.6L399.9,1227.6L401.7,1227.6L403.6,1227.6L405.4,1227.6L407.2,1227.6L409.1,1227.6L410.9,1227.6L412.8,1227.6L414.6,1227.6L416.4,1227.5L418.3,1227.5L420.1,1227.5L422.0,1227.5L423.8,1227.5L425.6,1227.5L427.5,1227.5L429.3,1227.5L431.1,1227.5L433.0,1227.5L434.8,1227.4L436.7,1227.4L438.5,1227.4L440.3,1227.4L442.2,1227.4L444.0,1227.4L445.8,1227.4L447.7,1227.4L449.5,1227.4L451.4,1227.3L453.2,1227.3L455.0,1227.3L456.9,1227.3L458.7,1227.3L460.6,1227.3L462.4,1227.3L464.2,1227.3L466.1,1227.3L467.9,1227.2L469.7,1227.2L471.6,1227.2L473.4,1227.2L475.3,1227.2L477.1,1227.2L478.9,1227.2L480.8,1227.2L482.6,1227.2L484.5,1227.2L486.3,1227.2L488.1,1227.1L490.0,1227.1L491.8,1227.1L493.6,1227.1L495.5,1227.1L497.3,1227.1L499.2,1227.1L501.0,1227.1L502.8,1227.1L504.7,1227.1L506.5,1227.1L508.4,1227.1L510.2,1227.1L512.0,1227.1L513.9,1227.1L515.7,1227.1L517.5,1227.1L519.4,1227.1L521.2,1227.1L523.1,1227.1L524.9,1227.1L526.7,1227.1L528.6,1227.1L530.4,1227.1L532.3,1227.1L534.1,1227.1L535.9,1227.1L537.8,1227.1L539.6,1227.2L541.4,1227.2L543.3,1227.2L545.1,1227.2L547.0,1227.2L548.8,1227.2L550.6,1227.2L552.5,1227.3L554.3,1227.3L556.1,1227.3L558.0,1227.3L559.8,1227.3L561.7,1227.4L563.5,1227.4L565.3,1227.4L567.2,1227.4L569.0,1227.5L570.9,1227.5L572.7,1227.5L574.5,1227.5L576.4,1227.6L578.2,1227.6L580.0,1227.6L581.9,1227.6L583.7,1227.7L585.6,1227.7L587.4,1227.7L589.2,1227.7L591.1,1227.7L592.9,1227.7L594.8,1227.7L596.6,1227.8L598.4,1227.8L600.3,1227.8L602.1,1227.8L603.9,1227.8L605.8,1227.8L607.6,1227.8L609.5,1227.8L611.3,1227.8L613.1,1227.8L615.0,1227.8L616.8,1227.8L618.7,1227.8L620.5,1227.8L622.3,1227.8L624.2,1227.8L626.0,1227.8L627.8,1227.8L629.7,1227.8L631.5,1227.8L633.4,1227.8L635.2,1227.8L637.0,1227.8L638.9,1227.8L640.7,1227.8L642.6,1227.8L644.4,1227.8L646.2,1227.8L648.1,1227.8L649.9,1227.8L651.7,1227.8L653.6,1227.8L655.4,1227.8L657.3,1227.8L659.1,1227.8L660.9,1227.8L662.8,1227.8L664.6,1227.8L666.5,1227.8L668.3,1227.8L670.1,1227.8L672.0,1227.8L673.8,1227.8L675.6,1227.8L677.5,1227.8L679.3,1227.8L681.2,1227.8L683.0,1227.8L684.8,1227.8L686.7,1227.8L688.5,1227.8L690.3,1227.8L692.2,1227.8L694.0,1227.8L695.9,1227.8L697.7,1227.8L699.5,1227.8L701.4,1227.8L703.2,1227.8L705.1,1227.8L706.9,1227.8L708.7,1227.8L710.6,1227.8L712.4,1227.8L714.2,1227.8L716.1,1227.8L717.9,1227.8L719.8,1227.8L721.6,1227.8L723.4,1227.8L725.3,1227.8L727.1,1227.8L729.0,1227.8L730.8,1227.8L732.6,1227.8L734.5,1227.8L736.3,1227.8L738.1,1227.8L740.0,1227.8L741.8,1227.8L743.7,1227.8L745.5,1227.8L747.3,1227.8L749.2,1227.8L751.0,1227.8L752.9,1227.8L754.7,1227.8L756.5,1227.8L758.4,1227.8L760.2,1227.8L762.0,1227.8L763.9,1227.8L765.7,1227.8L767.6,1227.8L769.4,1227.8L771.2,1227.8L773.1,1227.8L774.9,1227.8L776.8,1227.8L778.6,1227.8L780.4,1227.8L782.3,1227.8L784.1,1227.8L785.9,1227.8L787.8,1227.8L789.6,1227.8L791.5,1227.8L793.3,1227.8L795.1,1227.8L797.0,1227.8L798.8,1227.8L800.6,1227.8L802.5,1227.8L804.3,1227.8L806.2,1227.8L808.0,1227.8L809.8,1227.8L811.7,1227.8L813.5,1227.8L815.4,1227.8L817.2,1227.8L819.0,1227.8L820.9,1227.8L822.7,1227.8L824.5,1227.8L826.4,1227.8L828.2,1227.8L830.1,1227.8L831.9,1227.8L833.7,1227.8L835.6,1227.8L837.4,1227.8L839.3,1227.8L841.1,1227.8L842.9,1227.8L844.8,1227.8L846.6,1227.8L848.4,1227.8L850.3,1227.8L852.1,1227.8L854.0,1227.8L855.8,1227.8L857.6,1227.8L859.5,1227.8L861.3,1227.8L863.2,1227.8L865.0,1227.8L866.8,1227.8L868.7,1227.8L870.5,1227.8L872.3,1227.8L874.2,1227.8L876.0,1227.8L877.9,1227.8L879.7,1227.8L881.5,1227.8L883.4,1227.8L885.2,1227.8L887.1,1227.8L888.9,1227.8L890.7,1227.8L892.6,1227.8L894.4,1227.8L896.2,1227.8L898.1,1227.8L899.9,1227.8L901.8,1227.8L903.6,1227.8L905.4,1227.8L907.3,1227.8L909.1,1227.8L910.9,1227.8L912.8,1227.8L914.6,1227.8L916.5,1227.8L918.3,1227.8L920.1,1227.8L922.0,1227.8L923.8,1227.8L925.7,1227.8L927.5,1227.8L929.3,1227.8L931.2,1227.8L933.0,1227.8L934.8,1227.8L936.7,1227.8L938.5,1227.8L940.4,1227.8L942.2,1227.8L944.0,1227.8L945.9,1227.8L947.7,1227.8L949.6,1227.8L951.4,1227.8L953.2,1227.8L955.1,1227.8L956.9,1227.8L958.7,1227.8L960.6,1227.8L962.4,1227.8L964.3,1227.8L966.1,1227.8L967.9,1227.8L969.8,1227.8L971.6,1227.8L973.5,1227.8L975.3,1227.8L977.1,1227.8L979.0,1227.8L980.8,1227.8L982.6,1227.8L984.5,1227.8L986.3,1227.8L988.2,1227.8L990.0,1227.8L991.8,1227.8L993.7,1227.8L995.5,1227.8L997.4,1227.8L999.2,1227.8L1001.0,1227.8L1002.9,1227.8L1004.7,1227.8L1006.5,1227.8L1008.4,1227.8L1010.2,1227.8L1012.1,1227.8L1013.9,1227.8L1015.7,1227.8L1017.6,1227.8L1019.4,1227.8L1021.3,1227.8L1023.1,1227.8L1024.9,1227.8L1026.8,1227.8L1028.6,1227.8L1030.4,1227.8L1032.3,1227.8L1034.1,1227.8L1036.0,1227.8L1037.8,1227.8L1039.6,1227.8L1041.5,1227.8L1043.3,1227.8L1045.1,1227.8L1047.0,1227.8L1048.8,1227.8L1050.7,1227.8L1052.5,1227.8L1054.3,1227.8L1056.2,1227.8L1058.0,1227.8L1059.9,1227.8L1061.7,1227.8L1063.5,1227.8L1065.4,1227.8L1067.2,1227.8L1069.0,1227.8L1070.9,1227.8L1072.7,1227.8L1074.6,1227.8L1076.4,1227.8L1078.2,1227.8L1080.1,1227.8L1081.9,1227.8L1083.8,1227.8L1085.6,1227.8L1087.4,1227.8L1089.3,1227.8L1091.1,1227.8L1092.9,1227.8L1094.8,1227.8L1096.6,1227.8L1098.5,1227.8L1100.3,1227.8L1102.1,1227.8L1104.0,1227.8L1105.8,1227.8L1107.7,1227.8L1109.5,1227.8L1111.3,1227.8L1113.2,1227.8L1115.0,1227.8L1116.8,1227.8L1118.7,1227.8L1120.5,1227.8L1122.4,1227.8L1124.2,1227.8L1126.0,1227.8L1127.9,1227.8L1129.7,1227.8L1131.6,1227.8L1133.4,1227.8L1135.2,1227.8L1137.1,1227.8L1138.9,1227.8L1140.7,1227.8L1142.6,1227.8L1144.4,1227.8L1146.3,1227.8L1148.1,1227.8L1149.9,1227.8L1151.8,1227.8L1153.6,1227.8L1155.4,1227.8L1157.3,1227.8L1159.1,1227.8L1161.0,1227.8L1162.8,1227.8L1164.6,1227.8L1166.5,1227.8L1168.3,1227.8L1170.2,1227.8L1172.0,1227.8L1173.8,1227.8L1175.7,1227.8L1177.5,1227.8L1179.3,1227.8L1181.2,1227.8L1183.0,1227.8L1184.9,1227.8L1186.7,1227.8L1188.5,1227.8L1190.4,1227.8L1192.2,1227.8L1194.1,1227.8L1195.9,1227.8L1197.7,1227.8L1199.6,1227.8L1201.4,1227.8L1203.2,1227.8L1205.1,1227.8L1206.9,1227.8L1208.8,1227.8L1210.6,1227.8L1212.4,1227.8L1214.3,1227.8L1216.1,1227.8L1218.0,1227.8L1219.8,1227.8L1221.6,1227.8L1223.5,1227.8L1225.3,1227.8L1227.1,1227.8L1229.0,1227.8L1230.8,1227.8L1232.7,1227.8L1234.5,1227.8L1236.3,1227.8L1238.2,1227.8L1240.0,1227.8L1241.9,1227.8L1243.7,1227.8L1245.5,1227.8L1247.4,1227.8L1249.2,1227.8L1251.0,1227.8L1252.9,1227.8L1254.7,1227.8L1256.6,1227.8L1258.4,1227.8L1260.2,1227.8L1262.1,1227.8L1263.9,1227.8L1265.7,1227.8L1267.6,1227.8L1269.4,1227.8L1271.3,1227.8L1273.1,1227.8L1274.9,1227.8L1276.8,1227.8L1278.6,1227.8L1280.5,1227.8L1282.3,1227.8L1284.1,1227.8L1286.0,1227.8L1287.8,1227.8L1289.6,1227.8L1291.5,1227.8L1293.3,1227.8L1295.2,1227.8L1297.0,1227.8L1298.8,1227.8L1300.7,1227.8L1302.5,1227.8L1304.4,1227.8L1306.2,1227.8L1308.0,1227.8L1309.9,1227.8L1311.7,1227.8L1313.5,1227.8L1315.4,1227.8L1317.2,1227.8L1319.1,1227.8L1320.9,1227.8L1322.7,1227.8L1324.6,1227.8L1326.4,1227.8L1328.3,1227.8L1330.1,1227.8L1331.9,1227.8L1333.8,1227.8L1335.6,1227.8L1337.4,1227.8L1339.3,1227.8L1341.1,1227.8L1343.0,1227.8L1344.8,1227.8L1346.6,1227.8L1348.5,1227.8L1350.3,1227.8L1352.2,1227.8L1354.0,1227.8L1355.8,1227.8L1357.7,1227.8L1359.5,1227.8L1361.3,1227.8L1363.2,1227.8L1365.0,1227.8L1366.9,1227.8L1368.7,1227.8L1370.5,1227.8L1372.4,1227.8L1374.2,1227.8L1376.0,1227.8L1377.9,1227.8L1379.7,1227.8L1381.6,1227.8L1383.4,1227.8L1385.2,1227.8L1387.1,1227.8L1388.9,1227.8L1390.8,1227.8L1392.6,1227.8L1394.4,1227.8L1396.3,1227.8L1398.1,1227.8L1399.9,1227.8L1401.8,1227.8L1403.6,1227.8L1405.5,1227.8L1407.3,1227.8L1409.1,1227.8L1411.0,1227.8L1412.8,1227.8L1414.7,1227.8L1416.5,1227.8L1418.3,1227.8L1420.2,1227.8L1422.0,1227.8L1423.8,1227.8L1425.7,1227.8L1427.5,1227.8L1429.4,1227.8L1431.2,1227.8" fill="none" stroke="#c03a88" stroke-width="0.8" stroke-linejoin="round" />
<path d="M146.2,1227.8L1431.2,1013.2" fill="none" stroke="#c9bc45" stroke-width="2.8" stroke-linejoin="round" />
<path d="M146.2,989.3L148.0,990.1L149.9,991.2L151.7,992.2L153.6,993.3L155.4,994.4L157.2,995.4L159.1,996.5L160.9,997.7L162.7,998.8L164.6,999.9L166.4,1001.1L168.3,1002.2L170.1,1003.4L171.9,1004.6L173.8,1005.8L175.6,1007.0L177.5,1008.2L179.3,1009.4L181.1,1010.7L183.0,1011.9L184.8,1013.2L186.6,1014.4L188.5,1015.7L190.3,1017.0L192.2,1018.3L194.0,1019.6L195.8,1020.9L197.7,1022.2L199.5,1023.5L201.4,1024.9L203.2,1026.2L205.0,1027.5L206.9,1028.9L208.7,1030.2L210.5,1031.6L212.4,1033.0L214.2,1034.3L216.1,1035.7L217.9,1037.1L219.7,1038.5L221.6,1039.9L223.4,1041.3L225.2,1042.7L227.1,1044.1L228.9,1045.5L230.8,1047.0L232.6,1048.4L234.4,1049.8L236.3,1051.3L238.1,1052.7L240.0,1054.1L241.8,1055.6L243.6,1057.0L245.5,1058.5L247.3,1059.9L249.1,1061.4L251.0,1062.8L252.8,1064.3L254.7,1065.7L256.5,1067.2L258.3,1068.6L260.2,1070.1L262.0,1071.6L263.9,1073.0L265.7,1074.5L267.5,1075.9L269.4,1077.4L271.2,1078.8L273.0,1080.3L274.9,1081.8L276.7,1083.2L278.6,1084.7L280.4,1086.1L282.2,1087.6L284.1,1089.0L285.9,1090.5L287.8,1091.9L289.6,1093.4L291.4,1094.8L293.3,1096.2L295.1,1097.7L296.9,1099.1L298.8,1100.5L300.6,1102.0L302.5,1103.4L304.3,1104.8L306.1,1106.2L308.0,1107.6L309.8,1109.0L311.7,1110.4L313.5,1111.8L315.3,1113.2L317.2,1114.6L319.0,1116.0L320.8,1117.4L322.7,1118.7L324.5,1120.1L326.4,1121.5L328.2,1122.8L330.0,1124.2L331.9,1125.5L333.7,1126.8L335.5,1128.2L337.4,1129.5L339.2,1130.8L341.1,1132.1L342.9,1133.4L344.7,1134.7L346.6,1136.0L348.4,1137.3L350.3,1138.6L352.1,1139.9L353.9,1141.1L355.8,1142.4L357.6,1143.6L359.4,1144.9L361.3,1146.1L363.1,1147.3L365.0,1148.5L366.8,1149.7L368.6,1150.9L370.5,1152.1L372.3,1153.3L374.2,1154.5L376.0,1155.6L377.8,1156.8L379.7,1157.9L381.5,1159.1L383.3,1160.2L385.2,1161.3L387.0,1162.4L388.9,1163.5L390.7,1164.6L392.5,1165.7L394.4,1166.8L396.2,1167.8L398.1,1168.9L399.9,1170.0L401.7,1171.0L403.6,1172.0L405.4,1173.0L407.2,1174.0L409.1,1175.0L410.9,1176.0L412.8,1177.0L414.6,1178.0L416.4,1178.9L418.3,1179.9L420.1,1180.8L422.0,1181.8L423.8,1182.7L425.6,1183.6L427.5,1184.5L429.3,1185.4L431.1,1186.3L433.0,1187.2L434.8,1188.0L436.7,1188.9L438.5,1189.7L440.3,1190.6L442.2,1191.4L444.0,1192.2L445.8,1193.0L447.7,1193.8L449.5,1194.6L451.4,1195.4L453.2,1196.1L455.0,1196.9L456.9,1197.6L458.7,1198.4L460.6,1199.1L462.4,1199.8L464.2,1200.5L466.1,1201.2L467.9,1201.9L469.7,1202.6L471.6,1203.2L473.4,1203.9L475.3,1204.6L477.1,1205.2L478.9,1205.8L480.8,1206.5L482.6,1207.1L484.5,1207.7L486.3,1208.3L488.1,1208.9L490.0,1209.4L491.8,1210.0L493.6,1210.6L495.5,1211.1L497.3,1211.6L499.2,1212.2L501.0,1212.7L502.8,1213.2L504.7,1213.7L506.5,1214.2L508.4,1214.7L510.2,1215.2L512.0,1215.7L513.9,1216.1L515.7,1216.6L517.5,1217.0L519.4,1217.5L521.2,1217.9L523.1,1218.3L524.9,1218.7L526.7,1219.1L528.6,1219.5L530.4,1219.9L532.3,1220.3L534.1,1220.6L535.9,1221.0L537.8,1221.4L539.6,1221.7L541.4,1222.0L543.3,1222.4L545.1,1222.7L547.0,1223.0L548.8,1223.3L550.6,1223.6L552.5,1223.9L554.3,1224.1L556.1,1224.4L558.0,1224.7L559.8,1224.9L561.7,1225.2L563.5,1225.4L565.3,1225.6L567.2,1225.8L569.0,1226.0L570.9,1226.2L572.7,1226.4L574.5,1226.5L576.4,1226.7L578.2,1226.8L580.0,1227.0L581.9,1227.1L583.7,1227.2L585.6,1227.3L587.4,1227.4L589.2,1227.5L591.1,1227.5L592.9,1227.6L594.8,1227.6L596.6,1227.7L598.4,1227.7L600.3,1227.7L602.1,1227.7L603.9,1227.8L605.8,1227.8L607.6,1227.8L609.5,1227.8L611.3,1227.8L613.1,1227.8L615.0,1227.8L616.8,1227.8L618.7,1227.8L620.5,1227.8L622.3,1227.8L624.2,1227.8L626.0,1227.8L627.8,1227.8L629.7,1227.8L631.5,1227.8L633.4,1227.8L635.2,1227.8L637.0,1227.8L638.9,1227.8L640.7,1227.8L642.6,1227.8L644.4,1227.8L646.2,1227.8L648.1,1227.8L649.9,1227.8L651.7,1227.8L653.6,1227.8L655.4,1227.8L657.3,1227.8L659.1,1227.8L660.9,1227.8L662.8,1227.8L664.6,1227.8L666.5,1227.8L668.3,1227.8L670.1,1227.8L672.0,1227.8L673.8,1227.8L675.6,1227.8L677.5,1227.8L679.3,1227.8L681.2,1227.8L683.0,1227.8L684.8,1227.8L686.7,1227.8L688.5,1227.8L690.3,1227.8L692.2,1227.8L694.0,1227.8L695.9,1227.8L697.7,1227.8L699.5,1227.8L701.4,1227.8L703.2,1227.8L705.1,1227.8L706.9,1227.8L708.7,1227.8L710.6,1227.8L712.4,1227.8L714.2,1227.8L716.1,1227.8L717.9,1227.8L719.8,1227.8L721.6,1227.8L723.4,1227.8L725.3,1227.8L727.1,1227.8L729.0,1227.8L730.8,1227.8L732.6,1227.8L734.5,1227.8L736.3,1227.8L738.1,1227.8L740.0,1227.8L741.8,1227.8L743.7,1227.8L745.5,1227.8L747.3,1227.8L749.2,1227.8L751.0,1227.8L752.9,1227.8L754.7,1227.8L756.5,1227.8L758.4,1227.8L760.2,1227.8L762.0,1227.8L763.9,1227.8L765.7,1227.8L767.6,1227.8L769.4,1227.8L771.2,1227.8L773.1,1227.8L774.9,1227.8L776.8,1227.8L778.6,1227.8L780.4,1227.8L782.3,1227.8L784.1,1227.8L785.9,1227.8L787.8,1227.8L789.6,1227.8L791.5,1227.8L793.3,1227.8L795.1,1227.8L797.0,1227.8L798.8,1227.8L800.6,1227.8L802.5,1227.8L804.3,1227.8L806.2,1227.8L808.0,1227.8L809.8,1227.8L811.7,1227.8L813.5,1227.8L815.4,1227.8L817.2,1227.8L819.0,1227.8L820.9,1227.8L822.7,1227.8L824.5,1227.8L826.4,1227.8L828.2,1227.8L830.1,1227.8L831.9,1227.8L833.7,1227.8L835.6,1227.8L837.4,1227.8L839.3,1227.8L841.1,1227.8L842.9,1227.8L844.8,1227.8L846.6,1227.8L848.4,1227.8L850.3,1227.8L852.1,1227.8L854.0,1227.8L855.8,1227.8L857.6,1227.8L859.5,1227.8L861.3,1227.8L863.2,1227.8L865.0,1227.8L866.8,1227.8L868.7,1227.8L870.5,1227.8L872.3,1227.8L874.2,1227.8L876.0,1227.8L877.9,1227.8L879.7,1227.8L881.5,1227.8L883.4,1227.8L885.2,1227.8L887.1,1227.8L888.9,1227.8L890.7,1227.8L892.6,1227.8L894.4,1227.8L896.2,1227.8L898.1,1227.8L899.9,1227.8L901.8,1227.8L903.6,1227.8L905.4,1227.8L907.3,1227.8L909.1,1227.8L910.9,1227.8L912.8,1227.8L914.6,1227.8L916.5,1227.8L918.3,1227.8L920.1,1227.8L922.0,1227.8L923.8,1227.8L925.7,1227.8L927.5,1227.8L929.3,1227.8L931.2,1227.8L933.0,1227.8L934.8,1227.8L936.7,1227.8L938.5,1227.8L940.4,1227.8L942.2,1227.8L944.0,1227.8L945.9,1227.8L947.7,1227.8L949.6,1227.8L951.4,1227.8L953.2,1227.8L955.1,1227.8L956.9,1227.8L958.7,1227.8L960.6,1227.8L962.4,1227.8L964.3,1227.8L966.1,1227.8L967.9,1227.8L969.8,1227.8L971.6,1227.8L973.5,1227.8L975.3,1227.8L977.1,1227.8L979.0,1227.8L980.8,1227.8L982.6,1227.8L984.5,1227.8L986.3,1227.8L988.2,1227.8L990.0,1227.8L991.8,1227.8L993.7,1227.8L995.5,1227.8L997.4,1227.8L999.2,1227.8L1001.0,1227.8L1002.9,1227.8L1004.7,1227.8L1006.5,1227.8L1008.4,1227.8L1010.2,1227.8L1012.1,1227.8L1013.9,1227.8L1015.7,1227.8L1017.6,1227.8L1019.4,1227.8L1021.3,1227.8L1023.1,1227.8L1024.9,1227.8L1026.8,1227.8L1028.6,1227.8L1030.4,1227.8L1032.3,1227.8L1034.1,1227.8L1036.0,1227.8L1037.8,1227.8L1039.6,1227.8L1041.5,1227.8L1043.3,1227.8L1045.1,1227.8L1047.0,1227.8L1048.8,1227.8L1050.7,1227.8L1052.5,1227.8L1054.3,1227.8L1056.2,1227.8L1058.0,1227.8L1059.9,1227.8L1061.7,1227.8L1063.5,1227.8L1065.4,1227.8L1067.2,1227.8L1069.0,1227.8L1070.9,1227.8L1072.7,1227.8L1074.6,1227.8L1076.4,1227.8L1078.2,1227.8L1080.1,1227.8L1081.9,1227.8L1083.8,1227.8L1085.6,1227.8L1087.4,1227.8L1089.3,1227.8L1091.1,1227.8L1092.9,1227.8L1094.8,1227.8L1096.6,1227.8L1098.5,1227.8L1100.3,1227.8L1102.1,1227.8L1104.0,1227.8L1105.8,1227.8L1107.7,1227.8L1109.5,1227.8L1111.3,1227.8L1113.2,1227.8L1115.0,1227.8L1116.8,1227.8L1118.7,1227.8L1120.5,1227.8L1122.4,1227.8L1124.2,1227.8L1126.0,1227.8L1127.9,1227.8L1129.7,1227.8L1131.6,1227.8L1133.4,1227.8L1135.2,1227.8L1137.1,1227.8L1138.9,1227.8L1140.7,1227.8L1142.6,1227.8L1144.4,1227.8L1146.3,1227.8L1148.1,1227.8L1149.9,1227.8L1151.8,1227.8L1153.6,1227.8L1155.4,1227.8L1157.3,1227.8L1159.1,1227.8L1161.0,1227.8L1162.8,1227.8L1164.6,1227.8L1166.5,1227.8L1168.3,1227.8L1170.2,1227.8L1172.0,1227.8L1173.8,1227.8L1175.7,1227.8L1177.5,1227.8L1179.3,1227.8L1181.2,1227.8L1183.0,1227.8L1184.9,1227.8L1186.7,1227.8L1188.5,1227.8L1190.4,1227.8L1192.2,1227.8L1194.1,1227.8L1195.9,1227.8L1197.7,1227.8L1199.6,1227.8L1201.4,1227.8L1203.2,1227.8L1205.1,1227.8L1206.9,1227.8L1208.8,1227.8L1210.6,1227.8L1212.4,1227.8L1214.3,1227.8L1216.1,1227.8L1218.0,1227.8L1219.8,1227.8L1221.6,1227.8L1223.5,1227.8L1225.3,1227.8L1227.1,1227.8L1229.0,1227.8L1230.8,1227.8L1232.7,1227.8L1234.5,1227.8L1236.3,1227.8L1238.2,1227.8L1240.0,1227.8L1241.9,1227.8L1243.7,1227.8L1245.5,1227.8L1247.4,1227.8L1249.2,1227.8L1251.0,1227.8L1252.9,1227.8L1254.7,1227.8L1256.6,1227.8L1258.4,1227.8L1260.2,1227.8L1262.1,1227.8L1263.9,1227.8L1265.7,1227.8L1267.6,1227.8L1269.4,1227.8L1271.3,1227.8L1273.1,1227.8L1274.9,1227.8L1276.8,1227.8L1278.6,1227.8L1280.5,1227.8L1282.3,1227.8L1284.1,1227.8L1286.0,1227.8L1287.8,1227.8L1289.6,1227.8L1291.5,1227.8L1293.3,1227.8L1295.2,1227.8L1297.0,1227.8L1298.8,1227.8L1300.7,1227.8L1302.5,1227.8L1304.4,1227.8L1306.2,1227.8L1308.0,1227.8L1309.9,1227.8L1311.7,1227.8L1313.5,1227.8L1315.4,1227.8L1317.2,1227.8L1319.1,1227.8L1320.9,1227.8L1322.7,1227.8L1324.6,1227.8L1326.4,1227.8L1328.3,1227.8L1330.1,1227.8L1331.9,1227.8L1333.8,1227.8L1335.6,1227.8L1337.4,1227.8L1339.3,1227.8L1341.1,1227.8L1343.0,1227.8L1344.8,1227.8L1346.6,1227.8L1348.5,1227.8L1350.3,1227.8L1352.2,1227.8L1354.0,1227.8L1355.8,1227.8L1357.7,1227.8L1359.5,1227.8L1361.3,1227.8L1363.2,1227.8L1365.0,1227.8L1366.9,1227.8L1368.7,1227.8L1370.5,1227.8L1372.4,1227.8L1374.2,1227.8L1376.0,1227.8L1377.9,1227.8L1379.7,1227.8L1381.6,1227.8L1383.4,1227.8L1385.2,1227.8L1387.1,1227.8L1388.9,1227.8L1390.8,1227.8L1392.6,1227.8L1394.4,1227.8L1396.3,1227.8L1398.1,1227.8L1399.9,1227.8L1401.8,1227.8L1403.6,1227.8L1405.5,1227.8L1407.3,1227.8L1409.1,1227.8L1411.0,1227.8L1412.8,1227.8L1414.7,1227.8L1416.5,1227.8L1418.3,1227.8L1420.2,1227.8L1422.0,1227.8L1423.8,1227.8L1425.7,1227.8L1427.5,1227.8L1429.4,1227.8L1431.2,1227.8" fill="none" stroke="#e9141d" stroke-width="2.8" stroke-linejoin="round" />
<path d="M146.2,1227.8L148.0,1227.8L149.9,1227.8L151.7,1227.8L153.6,1227.8L155.4,1227.8L157.2,1227.8L159.1,1227.8L160.9,1227.8L162.7,1227.8L164.6,1227.8L166.4,1227.8L168.3,1227.8L170.1,1227.8L171.9,1227.8L173.8,1227.8L175.6,1227.8L177.5,1227.8L179.3,1227.8L181.1,1227.8L183.0,1227.8L184.8,1227.8L186.6,1227.8L188.5,1227.8L190.3,1227.8L192.2,1227.8L194.0,1227.8L195.8,1227.8L197.7,1227.8L199.5,1227.7L201.4,1227.7L203.2,1227.7L205.0,1227.7L206.9,1227.7L208.7,1227.7L210.5,1227.7L212.4,1227.7L214.2,1227.7L216.1,1227.6L217.9,1227.6L219.7,1227.6L221.6,1227.6L223.4,1227.6L225.2,1227.6L227.1,1227.5L228.9,1227.5L230.8,1227.5L232.6,1227.5L234.4,1227.4L236.3,1227.4L238.1,1227.4L240.0,1227.4L241.8,1227.3L243.6,1227.3L245.5,1227.3L247.3,1227.2L249.1,1227.2L251.0,1227.1L252.8,1227.1L254.7,1227.1L256.5,1227.0L258.3,1227.0L260.2,1226.9L262.0,1226.9L263.9,1226.8L265.7,1226.8L267.5,1226.7L269.4,1226.6L271.2,1226.6L273.0,1226.5L274.9,1226.5L276.7,1226.4L278.6,1226.3L280.4,1226.3L282.2,1226.2L284.1,1226.1L285.9,1226.1L287.8,1226.0L289.6,1225.9L291.4,1225.8L293.3,1225.7L295.1,1225.7L296.9,1225.6L298.8,1225.5L300.6,1225.4L302.5,1225.3L304.3,1225.2L306.1,1225.1L308.0,1225.1L309.8,1225.0L311.7,1224.9L313.5,1224.8L315.3,1224.7L317.2,1224.6L319.0,1224.5L320.8,1224.4L322.7,1224.3L324.5,1224.2L326.4,1224.1L328.2,1224.0L330.0,1223.9L331.9,1223.7L333.7,1223.6L335.5,1223.5L337.4,1223.4L339.2,1223.3L341.1,1223.2L342.9,1223.1L344.7,1223.0L346.6,1222.9L348.4,1222.8L350.3,1222.6L352.1,1222.5L353.9,1222.4L355.8,1222.3L357.6,1222.2L359.4,1222.1L361.3,1222.0L363.1,1221.9L365.0,1221.7L366.8,1221.6L368.6,1221.5L370.5,1221.4L372.3,1221.3L374.2,1221.2L376.0,1221.1L377.8,1221.0L379.7,1220.9L381.5,1220.8L383.3,1220.7L385.2,1220.6L387.0,1220.5L388.9,1220.4L390.7,1220.3L392.5,1220.2L394.4,1220.1L396.2,1220.0L398.1,1219.9L399.9,1219.8L401.7,1219.7L403.6,1219.6L405.4,1219.6L407.2,1219.5L409.1,1219.4L410.9,1219.3L412.8,1219.3L414.6,1219.2L416.4,1219.1L418.3,1219.1L420.1,1219.0L422.0,1218.9L423.8,1218.9L425.6,1218.8L427.5,1218.8L429.3,1218.7L431.1,1218.7L433.0,1218.6L434.8,1218.6L436.7,1218.6L438.5,1218.5L440.3,1218.5L442.2,1218.5L444.0,1218.5L445.8,1218.4L447.7,1218.4L449.5,1218.4L451.4,1218.4L453.2,1218.4L455.0,1218.4L456.9,1218.4L458.7,1218.4L460.6,1218.5L462.4,1218.5L464.2,1218.5L466.1,1218.5L467.9,1218.6L469.7,1218.6L471.6,1218.6L473.4,1218.7L475.3,1218.7L477.1,1218.8L478.9,1218.8L480.8,1218.9L482.6,1218.9L484.5,1219.0L486.3,1219.1L488.1,1219.2L490.0,1219.2L491.8,1219.3L493.6,1219.4L495.5,1219.5L497.3,1219.6L499.2,1219.7L501.0,1219.8L502.8,1219.9L504.7,1220.1L506.5,1220.2L508.4,1220.3L510.2,1220.4L512.0,1220.6L513.9,1220.7L515.7,1220.8L517.5,1221.0L519.4,1221.1L521.2,1221.3L523.1,1221.4L524.9,1221.6L526.7,1221.7L528.6,1221.9L530.4,1222.1L532.3,1222.2L534.1,1222.4L535.9,1222.6L537.8,1222.7L539.6,1222.9L541.4,1223.1L543.3,1223.3L545.1,1223.5L547.0,1223.7L548.8,1223.9L550.6,1224.0L552.5,1224.2L554.3,1224.4L556.1,1224.6L558.0,1224.8L559.8,1225.0L561.7,1225.2L563.5,1225.4L565.3,1225.5L567.2,1225.7L569.0,1225.9L570.9,1226.1L572.7,1226.2L574.5,1226.4L576.4,1226.5L578.2,1226.7L580.0,1226.8L581.9,1226.9L583.7,1227.1L585.6,1227.2L587.4,1227.3L589.2,1227.4L591.1,1227.4L592.9,1227.5L594.8,1227.6L596.6,1227.6L598.4,1227.7L600.3,1227.7L602.1,1227.7L603.9,1227.7L605.8,1227.8L607.6,1227.8L609.5,1227.8L611.3,1227.8L613.1,1227.8L615.0,1227.8L616.8,1227.8L618.7,1227.8L620.5,1227.8L622.3,1227.8L624.2,1227.8L626.0,1227.8L627.8,1227.8L629.7,1227.8L631.5,1227.8L633.4,1227.8L635.2,1227.8L637.0,1227.8L638.9,1227.8L640.7,1227.8L642.6,1227.8L644.4,1227.8L646.2,1227.8L648.1,1227.8L649.9,1227.8L651.7,1227.8L653.6,1227.8L655.4,1227.8L657.3,1227.8L659.1,1227.8L660.9,1227.8L662.8,1227.8L664.6,1227.8L666.5,1227.8L668.3,1227.8L670.1,1227.8L672.0,1227.8L673.8,1227.8L675.6,1227.8L677.5,1227.8L679.3,1227.8L681.2,1227.8L683.0,1227.8L684.8,1227.8L686.7,1227.8L688.5,1227.8L690.3,1227.8L692.2,1227.8L694.0,1227.8L695.9,1227.8L697.7,1227.8L699.5,1227.8L701.4,1227.8L703.2,1227.8L705.1,1227.8L706.9,1227.8L708.7,1227.8L710.6,1227.8L712.4,1227.8L714.2,1227.8L716.1,1227.8L717.9,1227.8L719.8,1227.8L721.6,1227.8L723.4,1227.8L725.3,1227.8L727.1,1227.8L729.0,1227.8L730.8,1227.8L732.6,1227.8L734.5,1227.8L736.3,1227.8L738.1,1227.8L740.0,1227.8L741.8,1227.8L743.7,1227.8L745.5,1227.8L747.3,1227.8L749.2,1227.8L751.0,1227.8L752.9,1227.8L754.7,1227.8L756.5,1227.8L758.4,1227.8L760.2,1227.8L762.0,1227.8L763.9,1227.8L765.7,1227.8L767.6,1227.8L769.4,1227.8L771.2,1227.8L773.1,1227.8L774.9,1227.8L776.8,1227.8L778.6,1227.8L780.4,1227.8L782.3,1227.8L784.1,1227.8L785.9,1227.8L787.8,1227.8L789.6,1227.8L791.5,1227.8L793.3,1227.8L795.1,1227.8L797.0,1227.8L798.8,1227.8L800.6,1227.8L802.5,1227.8L804.3,1227.8L806.2,1227.8L808.0,1227.8L809.8,1227.8L811.7,1227.8L813.5,1227.8L815.4,1227.8L817.2,1227.8L819.0,1227.8L820.9,1227.8L822.7,1227.8L824.5,1227.8L826.4,1227.8L828.2,1227.8L830.1,1227.8L831.9,1227.8L833.7,1227.8L835.6,1227.8L837.4,1227.8L839.3,1227.8L841.1,1227.8L842.9,1227.8L844.8,1227.8L846.6,1227.8L848.4,1227.8L850.3,1227.8L852.1,1227.8L854.0,1227.8L855.8,1227.8L857.6,1227.8L859.5,1227.8L861.3,1227.8L863.2,1227.8L865.0,1227.8L866.8,1227.8L868.7,1227.8L870.5,1227.8L872.3,1227.8L874.2,1227.8L876.0,1227.8L877.9,1227.8L879.7,1227.8L881.5,1227.8L883.4,1227.8L885.2,1227.8L887.1,1227.8L888.9,1227.8L890.7,1227.8L892.6,1227.8L894.4,1227.8L896.2,1227.8L898.1,1227.8L899.9,1227.8L901.8,1227.8L903.6,1227.8L905.4,1227.8L907.3,1227.8L909.1,1227.8L910.9,1227.8L912.8,1227.8L914.6,1227.8L916.5,1227.8L918.3,1227.8L920.1,1227.8L922.0,1227.8L923.8,1227.8L925.7,1227.8L927.5,1227.8L929.3,1227.8L931.2,1227.8L933.0,1227.8L934.8,1227.8L936.7,1227.8L938.5,1227.8L940.4,1227.8L942.2,1227.8L944.0,1227.8L945.9,1227.8L947.7,1227.8L949.6,1227.8L951.4,1227.8L953.2,1227.8L955.1,1227.8L956.9,1227.8L958.7,1227.8L960.6,1227.8L962.4,1227.8L964.3,1227.8L966.1,1227.8L967.9,1227.8L969.8,1227.8L971.6,1227.8L973.5,1227.8L975.3,1227.8L977.1,1227.8L979.0,1227.8L980.8,1227.8L982.6,1227.8L984.5,1227.8L986.3,1227.8L988.2,1227.8L990.0,1227.8L991.8,1227.8L993.7,1227.8L995.5,1227.8L997.4,1227.8L999.2,1227.8L1001.0,1227.8L1002.9,1227.8L1004.7,1227.8L1006.5,1227.8L1008.4,1227.8L1010.2,1227.8L1012.1,1227.8L1013.9,1227.8L1015.7,1227.8L1017.6,1227.8L1019.4,1227.8L1021.3,1227.8L1023.1,1227.8L1024.9,1227.8L1026.8,1227.8L1028.6,1227.8L1030.4,1227.8L1032.3,1227.8L1034.1,1227.8L1036.0,1227.8L1037.8,1227.8L1039.6,1227.8L1041.5,1227.8L1043.3,1227.8L1045.1,1227.8L1047.0,1227.8L1048.8,1227.8L1050.7,1227.8L1052.5,1227.8L1054.3,1227.8L1056.2,1227.8L1058.0,1227.8L1059.9,1227.8L1061.7,1227.8L1063.5,1227.8L1065.4,1227.8L1067.2,1227.8L1069.0,1227.8L1070.9,1227.8L1072.7,1227.8L1074.6,1227.8L1076.4,1227.8L1078.2,1227.8L1080.1,1227.8L1081.9,1227.8L1083.8,1227.8L1085.6,1227.8L1087.4,1227.8L1089.3,1227.8L1091.1,1227.8L1092.9,1227.8L1094.8,1227.8L1096.6,1227.8L1098.5,1227.8L1100.3,1227.8L1102.1,1227.8L1104.0,1227.8L1105.8,1227.8L1107.7,1227.8L1109.5,1227.8L1111.3,1227.8L1113.2,1227.8L1115.0,1227.8L1116.8,1227.8L1118.7,1227.8L1120.5,1227.8L1122.4,1227.8L1124.2,1227.8L1126.0,1227.8L1127.9,1227.8L1129.7,1227.8L1131.6,1227.8L1133.4,1227.8L1135.2,1227.8L1137.1,1227.8L1138.9,1227.8L1140.7,1227.8L1142.6,1227.8L1144.4,1227.8L1146.3,1227.8L1148.1,1227.8L1149.9,1227.8L1151.8,1227.8L1153.6,1227.8L1155.4,1227.8L1157.3,1227.8L1159.1,1227.8L1161.0,1227.8L1162.8,1227.8L1164.6,1227.8L1166.5,1227.8L1168.3,1227.8L1170.2,1227.8L1172.0,1227.8L1173.8,1227.8L1175.7,1227.8L1177.5,1227.8L1179.3,1227.8L1181.2,1227.8L1183.0,1227.8L1184.9,1227.8L1186.7,1227.8L1188.5,1227.8L1190.4,1227.8L1192.2,1227.8L1194.1,1227.8L1195.9,1227.8L1197.7,1227.8L1199.6,1227.8L1201.4,1227.8L1203.2,1227.8L1205.1,1227.8L1206.9,1227.8L1208.8,1227.8L1210.6,1227.8L1212.4,1227.8L1214.3,1227.8L1216.1,1227.8L1218.0,1227.8L1219.8,1227.8L1221.6,1227.8L1223.5,1227.8L1225.3,1227.8L1227.1,1227.8L1229.0,1227.8L1230.8,1227.8L1232.7,1227.8L1234.5,1227.8L1236.3,1227.8L1238.2,1227.8L1240.0,1227.8L1241.9,1227.8L1243.7,1227.8L1245.5,1227.8L1247.4,1227.8L1249.2,1227.8L1251.0,1227.8L1252.9,1227.8L1254.7,1227.8L1256.6,1227.8L1258.4,1227.8L1260.2,1227.8L1262.1,1227.8L1263.9,1227.8L1265.7,1227.8L1267.6,1227.8L1269.4,1227.8L1271.3,1227.8L1273.1,1227.8L1274.9,1227.8L1276.8,1227.8L1278.6,1227.8L1280.5,1227.8L1282.3,1227.8L1284.1,1227.8L1286.0,1227.8L1287.8,1227.8L1289.6,1227.8L1291.5,1227.8L1293.3,1227.8L1295.2,1227.8L1297.0,1227.8L1298.8,1227.8L1300.7,1227.8L1302.5,1227.8L1304.4,1227.8L1306.2,1227.8L1308.0,1227.8L1309.9,1227.8L1311.7,1227.8L1313.5,1227.8L1315.4,1227.8L1317.2,1227.8L1319.1,1227.8L1320.9,1227.8L1322.7,1227.8L1324.6,1227.8L1326.4,1227.8L1328.3,1227.8L1330.1,1227.8L1331.9,1227.8L1333.8,1227.8L1335.6,1227.8L1337.4,1227.8L1339.3,1227.8L1341.1,1227.8L1343.0,1227.8L1344.8,1227.8L1346.6,1227.8L1348.5,1227.8L1350.3,1227.8L1352.2,1227.8L1354.0,1227.8L1355.8,1227.8L1357.7,1227.8L1359.5,1227.8L1361.3,1227.8L1363.2,1227.8L1365.0,1227.8L1366.9,1227.8L1368.7,1227.8L1370.5,1227.8L1372.4,1227.8L1374.2,1227.8L1376.0,1227.8L1377.9,1227.8L1379.7,1227.8L1381.6,1227.8L1383.4,1227.8L1385.2,1227.8L1387.1,1227.8L1388.9,1227.8L1390.8,1227.8L1392.6,1227.8L1394.4,1227.8L1396.3,1227.8L1398.1,1227.8L1399.9,1227.8L1401.8,1227.8L1403.6,1227.8L1405.5,1227.8L1407.3,1227.8L1409.1,1227.8L1411.0,1227.8L1412.8,1227.8L1414.7,1227.8L1416.5,1227.8L1418.3,1227.8L1420.2,1227.8L1422.0,1227.8L1423.8,1227.8L1425.7,1227.8L1427.5,1227.8L1429.4,1227.8L1431.2,1227.8" fill="none" stroke="#ee2a30" stroke-width="0.8" stroke-linejoin="round" />
<path d="M146.2,1227.8L148.0,1227.8L149.9,1227.8L151.7,1227.8L153.6,1227.8L155.4,1227.8L157.2,1227.8L159.1,1227.8L160.9,1227.8L162.7,1227.8L164.6,1227.8L166.4,1227.8L168.3,1227.8L170.1,1227.8L171.9,1227.8L173.8,1227.8L175.6,1227.8L177.5,1227.8L179.3,1227.8L181.1,1227.8L183.0,1227.8L184.8,1227.8L186.6,1227.8L188.5,1227.8L190.3,1227.8L192.2,1227.8L194.0,1227.8L195.8,1227.8L197.7,1227.8L199.5,1227.8L201.4,1227.8L203.2,1227.8L205.0,1227.8L206.9,1227.8L208.7,1227.8L210.5,1227.8L212.4,1227.8L214.2,1227.8L216.1,1227.8L217.9,1227.8L219.7,1227.8L221.6,1227.8L223.4,1227.8L225.2,1227.8L227.1,1227.8L228.9,1227.8L230.8,1227.8L232.6,1227.8L234.4,1227.8L236.3,1227.8L238.1,1227.8L240.0,1227.8L241.8,1227.8L243.6,1227.8L245.5,1227.8L247.3,1227.8L249.1,1227.8L251.0,1227.8L252.8,1227.8L254.7,1227.8L256.5,1227.8L258.3,1227.8L260.2,1227.8L262.0,1227.8L263.9,1227.8L265.7,1227.8L267.5,1227.8L269.4,1227.8L271.2,1227.8L273.0,1227.8L274.9,1227.8L276.7,1227.8L278.6,1227.8L280.4,1227.8L282.2,1227.8L284.1,1227.8L285.9,1227.8L287.8,1227.8L289.6,1227.8L291.4,1227.8L293.3,1227.8L295.1,1227.8L296.9,1227.8L298.8,1227.8L300.6,1227.8L302.5,1227.8L304.3,1227.8L306.1,1227.8L308.0,1227.8L309.8,1227.8L311.7,1227.8L313.5,1227.8L315.3,1227.8L317.2,1227.8L319.0,1227.8L320.8,1227.8L322.7,1227.8L324.5,1227.8L326.4,1227.8L328.2,1227.8L330.0,1227.8L331.9,1227.8L333.7,1227.8L335.5,1227.8L337.4,1227.8L339.2,1227.8L341.1,1227.8L342.9,1227.8L344.7,1227.8L346.6,1227.8L348.4,1227.8L350.3,1227.8L352.1,1227.8L353.9,1227.8L355.8,1227.8L357.6,1227.8L359.4,1227.8L361.3,1227.8L363.1,1227.8L365.0,1227.8L366.8,1227.8L368.6,1227.8L370.5,1227.8L372.3,1227.8L374.2,1227.8L376.0,1227.8L377.8,1227.8L379.7,1227.8L381.5,1227.8L383.3,1227.8L385.2,1227.8L387.0,1227.8L388.9,1227.8L390.7,1227.8L392.5,1227.8L394.4,1227.8L396.2,1227.8L398.1,1227.8L399.9,1227.8L401.7,1227.8L403.6,1227.8L405.4,1227.8L407.2,1227.8L409.1,1227.8L410.9,1227.8L412.8,1227.8L414.6,1227.8L416.4,1227.8L418.3,1227.8L420.1,1227.8L422.0,1227.8L423.8,1227.8L425.6,1227.8L427.5,1227.8L429.3,1227.8L431.1,1227.8L433.0,1227.8L434.8,1227.8L436.7,1227.7L438.5,1227.7L440.3,1227.7L442.2,1227.7L444.0,1227.7L445.8,1227.7L447.7,1227.7L449.5,1227.7L451.4,1227.7L453.2,1227.7L455.0,1227.7L456.9,1227.7L458.7,1227.7L460.6,1227.7L462.4,1227.7L464.2,1227.7L466.1,1227.7L467.9,1227.7L469.7,1227.7L471.6,1227.7L473.4,1227.7L475.3,1227.7L477.1,1227.7L478.9,1227.7L480.8,1227.7L482.6,1227.7L484.5,1227.7L486.3,1227.7L488.1,1227.7L490.0,1227.7L491.8,1227.7L493.6,1227.7L495.5,1227.7L497.3,1227.7L499.2,1227.7L501.0,1227.7L502.8,1227.7L504.7,1227.7L506.5,1227.6L508.4,1227.6L510.2,1227.6L512.0,1227.6L513.9,1227.6L515.7,1227.6L517.5,1227.6L519.4,1227.6L521.2,1227.6L523.1,1227.6L524.9,1227.6L526.7,1227.6L528.6,1227.6L530.4,1227.6L532.3,1227.6L534.1,1227.6L535.9,1227.6L537.8,1227.6L539.6,1227.6L541.4,1227.6L543.3,1227.6L545.1,1227.6L547.0,1227.6L548.8,1227.6L550.6,1227.7L552.5,1227.7L554.3,1227.7L556.1,1227.7L558.0,1227.7L559.8,1227.7L561.7,1227.7L563.5,1227.7L565.3,1227.7L567.2,1227.7L569.0,1227.7L570.9,1227.7L572.7,1227.7L574.5,1227.7L576.4,1227.7L578.2,1227.7L580.0,1227.7L581.9,1227.7L583.7,1227.8L585.6,1227.8L587.4,1227.8L589.2,1227.8L591.1,1227.8L592.9,1227.8L594.8,1227.8L596.6,1227.8L598.4,1227.8L600.3,1227.8L602.1,1227.8L603.9,1227.8L605.8,1227.8L607.6,1227.8L609.5,1227.8L611.3,1227.8L613.1,1227.8L615.0,1227.8L616.8,1227.8L618.7,1227.8L620.5,1227.8L622.3,1227.8L624.2,1227.8L626.0,1227.8L627.8,1227.8L629.7,1227.8L631.5,1227.8L633.4,1227.8L635.2,1227.8L637.0,1227.8L638.9,1227.8L640.7,1227.8L642.6,1227.8L644.4,1227.8L646.2,1227.8L648.1,1227.8L649.9,1227.8L651.7,1227.8L653.6,1227.8L655.4,1227.8L657.3,1227.8L659.1,1227.8L660.9,1227.8L662.8,1227.8L664.6,1227.8L666.5,1227.8L668.3,1227.8L670.1,1227.8L672.0,1227.8L673.8,1227.8L675.6,1227.8L677.5,1227.8L679.3,1227.8L681.2,1227.8L683.0,1227.8L684.8,1227.8L686.7,1227.8L688.5,1227.8L690.3,1227.8L692.2,1227.8L694.0,1227.8L695.9,1227.8L697.7,1227.8L699.5,1227.8L701.4,1227.8L703.2,1227.8L705.1,1227.8L706.9,1227.8L708.7,1227.8L710.6,1227.8L712.4,1227.8L714.2,1227.8L716.1,1227.8L717.9,1227.8L719.8,1227.8L721.6,1227.8L723.4,1227.8L725.3,1227.8L727.1,1227.8L729.0,1227.8L730.8,1227.8L732.6,1227.8L734.5,1227.8L736.3,1227.8L738.1,1227.8L740.0,1227.8L741.8,1227.8L743.7,1227.8L745.5,1227.8L747.3,1227.8L749.2,1227.8L751.0,1227.8L752.9,1227.8L754.7,1227.8L756.5,1227.8L758.4,1227.8L760.2,1227.8L762.0,1227.8L763.9,1227.8L765.7,1227.8L767.6,1227.8L769.4,1227.8L771.2,1227.8L773.1,1227.8L774.9,1227.8L776.8,1227.8L778.6,1227.8L780.4,1227.8L782.3,1227.8L784.1,1227.8L785.9,1227.8L787.8,1227.8L789.6,1227.8L791.5,1227.8L793.3,1227.8L795.1,1227.8L797.0,1227.8L798.8,1227.8L800.6,1227.8L802.5,1227.8L804.3,1227.8L806.2,1227.8L808.0,1227.8L809.8,1227.8L811.7,1227.8L813.5,1227.8L815.4,1227.8L817.2,1227.8L819.0,1227.8L820.9,1227.8L822.7,1227.8L824.5,1227.8L826.4,1227.8L828.2,1227.8L830.1,1227.8L831.9,1227.8L833.7,1227.8L835.6,1227.8L837.4,1227.8L839.3,1227.8L841.1,1227.8L842.9,1227.8L844.8,1227.8L846.6,1227.8L848.4,1227.8L850.3,1227.8L852.1,1227.8L854.0,1227.8L855.8,1227.8L857.6,1227.8L859.5,1227.8L861.3,1227.8L863.2,1227.8L865.0,1227.8L866.8,1227.8L868.7,1227.8L870.5,1227.8L872.3,1227.8L874.2,1227.8L876.0,1227.8L877.9,1227.8L879.7,1227.8L881.5,1227.8L883.4,1227.8L885.2,1227.8L887.1,1227.8L888.9,1227.8L890.7,1227.8L892.6,1227.8L894.4,1227.8L896.2,1227.8L898.1,1227.8L899.9,1227.8L901.8,1227.8L903.6,1227.8L905.4,1227.8L907.3,1227.8L909.1,1227.8L910.9,1227.8L912.8,1227.8L914.6,1227.8L916.5,1227.8L918.3,1227.8L920.1,1227.8L922.0,1227.8L923.8,1227.8L925.7,1227.8L927.5,1227.8L929.3,1227.8L931.2,1227.8L933.0,1227.8L934.8,1227.8L936.7,1227.8L938.5,1227.8L940.4,1227.8L942.2,1227.8L944.0,1227.8L945.9,1227.8L947.7,1227.8L949.6,1227.8L951.4,1227.8L953.2,1227.8L955.1,1227.8L956.9,1227.8L958.7,1227.8L960.6,1227.8L962.4,1227.8L964.3,1227.8L966.1,1227.8L967.9,1227.8L969.8,1227.8L971.6,1227.8L973.5,1227.8L975.3,1227.8L977.1,1227.8L979.0,1227.8L980.8,1227.8L982.6,1227.8L984.5,1227.8L986.3,1227.8L988.2,1227.8L990.0,1227.8L991.8,1227.8L993.7,1227.8L995.5,1227.8L997.4,1227.8L999.2,1227.8L1001.0,1227.8L1002.9,1227.8L1004.7,1227.8L1006.5,1227.8L1008.4,1227.8L1010.2,1227.8L1012.1,1227.8L1013.9,1227.8L1015.7,1227.8L1017.6,1227.8L1019.4,1227.8L1021.3,1227.8L1023.1,1227.8L1024.9,1227.8L1026.8,1227.8L1028.6,1227.8L1030.4,1227.8L1032.3,1227.8L1034.1,1227.8L1036.0,1227.8L1037.8,1227.8L1039.6,1227.8L1041.5,1227.8L1043.3,1227.8L1045.1,1227.8L1047.0,1227.8L1048.8,1227.8L1050.7,1227.8L1052.5,1227.8L1054.3,1227.8L1056.2,1227.8L1058.0,1227.8L1059.9,1227.8L1061.7,1227.8L1063.5,1227.8L1065.4,1227.8L1067.2,1227.8L1069.0,1227.8L1070.9,1227.8L1072.7,1227.8L1074.6,1227.8L1076.4,1227.8L1078.2,1227.8L1080.1,1227.8L1081.9,1227.8L1083.8,1227.8L1085.6,1227.8L1087.4,1227.8L1089.3,1227.8L1091.1,1227.8L1092.9,1227.8L1094.8,1227.8L1096.6,1227.8L1098.5,1227.8L1100.3,1227.8L1102.1,1227.8L1104.0,1227.8L1105.8,1227.8L1107.7,1227.8L1109.5,1227.8L1111.3,1227.8L1113.2,1227.8L1115.0,1227.8L1116.8,1227.8L1118.7,1227.8L1120.5,1227.8L1122.4,1227.8L1124.2,1227.8L1126.0,1227.8L1127.9,1227.8L1129.7,1227.8L1131.6,1227.8L1133.4,1227.8L1135.2,1227.8L1137.1,1227.8L1138.9,1227.8L1140.7,1227.8L1142.6,1227.8L1144.4,1227.8L1146.3,1227.8L1148.1,1227.8L1149.9,1227.8L1151.8,1227.8L1153.6,1227.8L1155.4,1227.8L1157.3,1227.8L1159.1,1227.8L1161.0,1227.8L1162.8,1227.8L1164.6,1227.8L1166.5,1227.8L1168.3,1227.8L1170.2,1227.8L1172.0,1227.8L1173.8,1227.8L1175.7,1227.8L1177.5,1227.8L1179.3,1227.8L1181.2,1227.8L1183.0,1227.8L1184.9,1227.8L1186.7,1227.8L1188.5,1227.8L1190.4,1227.8L1192.2,1227.8L1194.1,1227.8L1195.9,1227.8L1197.7,1227.8L1199.6,1227.8L1201.4,1227.8L1203.2,1227.8L1205.1,1227.8L1206.9,1227.8L1208.8,1227.8L1210.6,1227.8L1212.4,1227.8L1214.3,1227.8L1216.1,1227.8L1218.0,1227.8L1219.8,1227.8L1221.6,1227.8L1223.5,1227.8L1225.3,1227.8L1227.1,1227.8L1229.0,1227.8L1230.8,1227.8L1232.7,1227.8L1234.5,1227.8L1236.3,1227.8L1238.2,1227.8L1240.0,1227.8L1241.9,1227.8L1243.7,1227.8L1245.5,1227.8L1247.4,1227.8L1249.2,1227.8L1251.0,1227.8L1252.9,1227.8L1254.7,1227.8L1256.6,1227.8L1258.4,1227.8L1260.2,1227.8L1262.1,1227.8L1263.9,1227.8L1265.7,1227.8L1267.6,1227.8L1269.4,1227.8L1271.3,1227.8L1273.1,1227.8L1274.9,1227.8L1276.8,1227.8L1278.6,1227.8L1280.5,1227.8L1282.3,1227.8L1284.1,1227.8L1286.0,1227.8L1287.8,1227.8L1289.6,1227.8L1291.5,1227.8L1293.3,1227.8L1295.2,1227.8L1297.0,1227.8L1298.8,1227.8L1300.7,1227.8L1302.5,1227.8L1304.4,1227.8L1306.2,1227.8L1308.0,1227.8L1309.9,1227.8L1311.7,1227.8L1313.5,1227.8L1315.4,1227.8L1317.2,1227.8L1319.1,1227.8L1320.9,1227.8L1322.7,1227.8L1324.6,1227.8L1326.4,1227.8L1328.3,1227.8L1330.1,1227.8L1331.9,1227.8L1333.8,1227.8L1335.6,1227.8L1337.4,1227.8L1339.3,1227.8L1341.1,1227.8L1343.0,1227.8L1344.8,1227.8L1346.6,1227.8L1348.5,1227.8L1350.3,1227.8L1352.2,1227.8L1354.0,1227.8L1355.8,1227.8L1357.7,1227.8L1359.5,1227.8L1361.3,1227.8L1363.2,1227.8L1365.0,1227.8L1366.9,1227.8L1368.7,1227.8L1370.5,1227.8L1372.4,1227.8L1374.2,1227.8L1376.0,1227.8L1377.9,1227.8L1379.7,1227.8L1381.6,1227.8L1383.4,1227.8L1385.2,1227.8L1387.1,1227.8L1388.9,1227.8L1390.8,1227.8L1392.6,1227.8L1394.4,1227.8L1396.3,1227.8L1398.1,1227.8L1399.9,1227.8L1401.8,1227.8L1403.6,1227.8L1405.5,1227.8L1407.3,1227.8L1409.1,1227.8L1411.0,1227.8L1412.8,1227.8L1414.7,1227.8L1416.5,1227.8L1418.3,1227.8L1420.2,1227.8L1422.0,1227.8L1423.8,1227.8L1425.7,1227.8L1427.5,1227.8L1429.4,1227.8L1431.2,1227.8" fill="none" stroke="#d6cc62" stroke-width="0.8" stroke-linejoin="round" />
<path d="M146.2,1227.8L1431.2,512.4" fill="none" stroke="#a38dc5" stroke-width="3.6" stroke-linejoin="round" />
<path d="M146.2,989.3L148.0,989.3L149.9,989.3L151.7,989.3L153.6,989.3L155.4,989.3L157.2,989.3L159.1,989.3L160.9,989.3L162.7,989.3L164.6,989.3L166.4,989.3L168.3,989.3L170.1,989.3L171.9,989.3L173.8,989.3L175.6,989.3L177.5,989.3L179.3,989.3L181.1,989.3L183.0,989.3L184.8,989.3L186.6,989.3L188.5,989.3L190.3,989.3L192.2,989.3L194.0,989.3L195.8,989.3L197.7,989.3L199.5,989.3L201.4,989.3L203.2,989.3L205.0,989.3L206.9,989.3L208.7,989.3L210.5,989.3L212.4,989.3L214.2,989.3L216.1,989.3L217.9,989.3L219.7,989.3L221.6,989.3L223.4,989.3L225.2,989.3L227.1,989.3L228.9,989.3L230.8,989.3L232.6,989.3L234.4,989.3L236.3,989.3L238.1,989.3L240.0,989.3L241.8,989.3L243.6,989.3L245.5,989.3L247.3,989.3L249.1,989.3L251.0,989.3L252.8,989.3L254.7,989.3L256.5,989.3L258.3,989.3L260.2,989.3L262.0,989.3L263.9,989.3L265.7,989.3L267.5,989.3L269.4,989.3L271.2,989.3L273.0,989.3L274.9,989.3L276.7,989.3L278.6,989.3L280.4,989.3L282.2,989.3L284.1,989.3L285.9,989.3L287.8,989.3L289.6,989.3L291.4,989.3L293.3,989.3L295.1,989.3L296.9,989.3L298.8,989.3L300.6,989.3L302.5,989.3L304.3,989.3L306.1,989.3L308.0,989.3L309.8,989.3L311.7,989.3L313.5,989.3L315.3,989.3L317.2,989.3L319.0,989.3L320.8,989.3L322.7,989.3L324.5,989.3L326.4,989.3L328.2,989.3L330.0,989.3L331.9,989.3L333.7,989.3L335.5,989.3L337.4,989.3L339.2,989.3L341.1,989.3L342.9,989.3L344.7,989.3L346.6,989.3L348.4,989.3L350.3,989.3L352.1,989.3L353.9,989.3L355.8,989.3L357.6,989.3L359.4,989.3L361.3,989.3L363.1,989.3L365.0,989.3L366.8,989.3L368.6,989.3L370.5,989.3L372.3,989.3L374.2,989.3L376.0,989.3L377.8,989.3L379.7,989.3L381.5,989.3L383.3,989.3L385.2,989.3L387.0,989.3L388.9,989.3L390.7,989.3L392.5,989.3L394.4,989.3L396.2,989.3L398.1,989.3L399.9,989.3L401.7,989.3L403.6,989.3L405.4,989.3L407.2,989.3L409.1,989.3L410.9,989.3L412.8,989.3L414.6,989.3L416.4,989.3L418.3,989.3L420.1,989.3L422.0,989.3L423.8,989.3L425.6,989.3L427.5,989.3L429.3,989.3L431.1,989.3L433.0,989.3L434.8,989.3L436.7,989.3L438.5,989.4L440.3,989.4L442.2,989.4L444.0,989.4L445.8,989.4L447.7,989.4L449.5,989.4L451.4,989.4L453.2,989.4L455.0,989.4L456.9,989.4L458.7,989.4L460.6,989.4L462.4,989.4L464.2,989.4L466.1,989.4L467.9,989.4L469.7,989.4L471.6,989.4L473.4,989.4L475.3,989.4L477.1,989.4L478.9,989.4L480.8,989.4L482.6,989.4L484.5,989.4L486.3,989.4L488.1,989.4L490.0,989.4L491.8,989.5L493.6,989.5L495.5,989.5L497.3,989.5L499.2,989.5L501.0,989.5L502.8,989.5L504.7,989.5L506.5,989.5L508.4,989.5L510.2,989.5L512.0,989.6L513.9,989.6L515.7,989.6L517.5,989.6L519.4,989.6L521.2,989.6L523.1,989.6L524.9,989.6L526.7,989.7L528.6,989.7L530.4,989.7L532.3,989.7L534.1,989.7L535.9,989.8L537.8,989.8L539.6,989.8L541.4,989.8L543.3,989.8L545.1,989.9L547.0,989.9L548.8,989.9L550.6,989.9L552.5,990.0L554.3,990.0L556.1,990.0L558.0,990.1L559.8,990.1L561.7,990.1L563.5,990.2L565.3,990.2L567.2,990.2L569.0,990.3L570.9,990.3L572.7,990.3L574.5,990.4L576.4,990.4L578.2,990.5L580.0,990.5L581.9,990.6L583.7,990.6L585.6,990.7L587.4,990.7L589.2,990.8L591.1,990.8L592.9,990.9L594.8,991.0L596.6,991.0L598.4,991.1L600.3,991.2L602.1,991.2L603.9,991.3L605.8,991.4L607.6,991.4L609.5,991.5L611.3,991.6L613.1,991.7L615.0,991.8L616.8,991.9L618.7,991.9L620.5,992.0L622.3,992.1L624.2,992.2L626.0,992.3L627.8,992.4L629.7,992.5L631.5,992.7L633.4,992.8L635.2,992.9L637.0,993.0L638.9,993.1L640.7,993.3L642.6,993.4L644.4,993.5L646.2,993.6L648.1,993.8L649.9,993.9L651.7,994.1L653.6,994.2L655.4,994.4L657.3,994.5L659.1,994.7L660.9,994.9L662.8,995.0L664.6,995.2L666.5,995.4L668.3,995.6L670.1,995.8L672.0,995.9L673.8,996.1L675.6,996.3L677.5,996.5L679.3,996.7L681.2,997.0L683.0,997.2L684.8,997.4L686.7,997.6L688.5,997.9L690.3,998.1L692.2,998.3L694.0,998.6L695.9,998.8L697.7,999.1L699.5,999.4L701.4,999.6L703.2,999.9L705.1,1000.2L706.9,1000.5L708.7,1000.7L710.6,1001.0L712.4,1001.3L714.2,1001.6L716.1,1002.0L717.9,1002.3L719.8,1002.6L721.6,1002.9L723.4,1003.3L725.3,1003.6L727.1,1003.9L729.0,1004.3L730.8,1004.7L732.6,1005.0L734.5,1005.4L736.3,1005.8L738.1,1006.2L740.0,1006.5L741.8,1006.9L743.7,1007.3L745.5,1007.8L747.3,1008.2L749.2,1008.6L751.0,1009.0L752.9,1009.5L754.7,1009.9L756.5,1010.4L758.4,1010.8L760.2,1011.3L762.0,1011.7L763.9,1012.2L765.7,1012.7L767.6,1013.2L769.4,1013.7L771.2,1014.2L773.1,1014.7L774.9,1015.2L776.8,1015.7L778.6,1016.3L780.4,1016.8L782.3,1017.4L784.1,1017.9L785.9,1018.5L787.8,1019.0L789.6,1019.6L791.5,1020.2L793.3,1020.8L795.1,1021.4L797.0,1022.0L798.8,1022.6L800.6,1023.2L802.5,1023.8L804.3,1024.4L806.2,1025.1L808.0,1025.7L809.8,1026.4L811.7,1027.0L813.5,1027.7L815.4,1028.4L817.2,1029.0L819.0,1029.7L820.9,1030.4L822.7,1031.1L824.5,1031.8L826.4,1032.5L828.2,1033.3L830.1,1034.0L831.9,1034.7L833.7,1035.5L835.6,1036.2L837.4,1037.0L839.3,1037.7L841.1,1038.5L842.9,1039.3L844.8,1040.0L846.6,1040.8L848.4,1041.6L850.3,1042.4L852.1,1043.2L854.0,1044.0L855.8,1044.8L857.6,1045.6L859.5,1046.5L861.3,1047.3L863.2,1048.1L865.0,1049.0L866.8,1049.8L868.7,1050.7L870.5,1051.6L872.3,1052.4L874.2,1053.3L876.0,1054.2L877.9,1055.1L879.7,1055.9L881.5,1056.8L883.4,1057.7L885.2,1058.6L887.1,1059.5L888.9,1060.5L890.7,1061.4L892.6,1062.3L894.4,1063.2L896.2,1064.1L898.1,1065.1L899.9,1066.0L901.8,1067.0L903.6,1067.9L905.4,1068.9L907.3,1069.8L909.1,1070.8L910.9,1071.7L912.8,1072.7L914.6,1073.7L916.5,1074.6L918.3,1075.6L920.1,1076.6L922.0,1077.6L923.8,1078.5L925.7,1079.5L927.5,1080.5L929.3,1081.5L931.2,1082.5L933.0,1083.5L934.8,1084.5L936.7,1085.5L938.5,1086.5L940.4,1087.5L942.2,1088.5L944.0,1089.5L945.9,1090.5L947.7,1091.5L949.6,1092.5L951.4,1093.5L953.2,1094.5L955.1,1095.5L956.9,1096.6L958.7,1097.6L960.6,1098.6L962.4,1099.6L964.3,1100.6L966.1,1101.6L967.9,1102.6L969.8,1103.7L971.6,1104.7L973.5,1105.7L975.3,1106.7L977.1,1107.7L979.0,1108.7L980.8,1109.7L982.6,1110.7L984.5,1111.8L986.3,1112.8L988.2,1113.8L990.0,1114.8L991.8,1115.8L993.7,1116.8L995.5,1117.8L997.4,1118.8L999.2,1119.8L1001.0,1120.8L1002.9,1121.8L1004.7,1122.8L1006.5,1123.8L1008.4,1124.8L1010.2,1125.7L1012.1,1126.7L1013.9,1127.7L1015.7,1128.7L1017.6,1129.7L1019.4,1130.6L1021.3,1131.6L1023.1,1132.6L1024.9,1133.5L1026.8,1134.5L1028.6,1135.4L1030.4,1136.4L1032.3,1137.3L1034.1,1138.3L1036.0,1139.2L1037.8,1140.2L1039.6,1141.1L1041.5,1142.0L1043.3,1143.0L1045.1,1143.9L1047.0,1144.8L1048.8,1145.7L1050.7,1146.6L1052.5,1147.5L1054.3,1148.4L1056.2,1149.3L1058.0,1150.2L1059.9,1151.1L1061.7,1152.0L1063.5,1152.9L1065.4,1153.7L1067.2,1154.6L1069.0,1155.5L1070.9,1156.3L1072.7,1157.2L1074.6,1158.0L1076.4,1158.9L1078.2,1159.7L1080.1,1160.5L1081.9,1161.3L1083.8,1162.2L1085.6,1163.0L1087.4,1163.8L1089.3,1164.6L1091.1,1165.4L1092.9,1166.2L1094.8,1167.0L1096.6,1167.7L1098.5,1168.5L1100.3,1169.3L1102.1,1170.0L1104.0,1170.8L1105.8,1171.6L1107.7,1172.3L1109.5,1173.0L1111.3,1173.8L1113.2,1174.5L1115.0,1175.2L1116.8,1175.9L1118.7,1176.6L1120.5,1177.4L1122.4,1178.0L1124.2,1178.7L1126.0,1179.4L1127.9,1180.1L1129.7,1180.8L1131.6,1181.4L1133.4,1182.1L1135.2,1182.8L1137.1,1183.4L1138.9,1184.0L1140.7,1184.7L1142.6,1185.3L1144.4,1185.9L1146.3,1186.6L1148.1,1187.2L1149.9,1187.8L1151.8,1188.4L1153.6,1189.0L1155.4,1189.6L1157.3,1190.1L1159.1,1190.7L1161.0,1191.3L1162.8,1191.8L1164.6,1192.4L1166.5,1192.9L1168.3,1193.5L1170.2,1194.0L1172.0,1194.6L1173.8,1195.1L1175.7,1195.6L1177.5,1196.1L1179.3,1196.6L1181.2,1197.1L1183.0,1197.6L1184.9,1198.1L1186.7,1198.6L1188.5,1199.1L1190.4,1199.6L1192.2,1200.0L1194.1,1200.5L1195.9,1200.9L1197.7,1201.4L1199.6,1201.8L1201.4,1202.3L1203.2,1202.7L1205.1,1203.1L1206.9,1203.6L1208.8,1204.0L1210.6,1204.4L1212.4,1204.8L1214.3,1205.2L1216.1,1205.6L1218.0,1206.0L1219.8,1206.4L1221.6,1206.7L1223.5,1207.1L1225.3,1207.5L1227.1,1207.8L1229.0,1208.2L1230.8,1208.6L1232.7,1208.9L1234.5,1209.3L1236.3,1209.6L1238.2,1209.9L1240.0,1210.3L1241.9,1210.6L1243.7,1210.9L1245.5,1211.2L1247.4,1211.5L1249.2,1211.8L1251.0,1212.1L1252.9,1212.4L1254.7,1212.7L1256.6,1213.0L1258.4,1213.3L1260.2,1213.6L1262.1,1213.8L1263.9,1214.1L1265.7,1214.4L1267.6,1214.6L1269.4,1214.9L1271.3,1215.1L1273.1,1215.4L1274.9,1215.6L1276.8,1215.9L1278.6,1216.1L1280.5,1216.4L1282.3,1216.6L1284.1,1216.8L1286.0,1217.0L1287.8,1217.3L1289.6,1217.5L1291.5,1217.7L1293.3,1217.9L1295.2,1218.1L1297.0,1218.3L1298.8,1218.5L1300.7,1218.7L1302.5,1218.9L1304.4,1219.1L1306.2,1219.2L1308.0,1219.4L1309.9,1219.6L1311.7,1219.8L1313.5,1219.9L1315.4,1220.1L1317.2,1220.3L1319.1,1220.4L1320.9,1220.6L1322.7,1220.8L1324.6,1220.9L1326.4,1221.1L1328.3,1221.2L1330.1,1221.3L1331.9,1221.5L1333.8,1221.6L1335.6,1221.8L1337.4,1221.9L1339.3,1222.0L1341.1,1222.2L1343.0,1222.3L1344.8,1222.4L1346.6,1222.5L1348.5,1222.7L1350.3,1222.8L1352.2,1222.9L1354.0,1223.0L1355.8,1223.1L1357.7,1223.2L1359.5,1223.3L1361.3,1223.4L1363.2,1223.5L1365.0,1223.6L1366.9,1223.7L1368.7,1223.8L1370.5,1223.9L1372.4,1224.0L1374.2,1224.1L1376.0,1224.2L1377.9,1224.3L1379.7,1224.3L1381.6,1224.4L1383.4,1224.5L1385.2,1224.6L1387.1,1224.7L1388.9,1224.7L1390.8,1224.8L1392.6,1224.9L1394.4,1225.0L1396.3,1225.0L1398.1,1225.1L1399.9,1225.2L1401.8,1225.2L1403.6,1225.3L1405.5,1225.4L1407.3,1225.4L1409.1,1225.5L1411.0,1225.5L1412.8,1225.6L1414.7,1225.6L1416.5,1225.7L1418.3,1225.8L1420.2,1225.8L1422.0,1225.9L1423.8,1225.9L1425.7,1226.0L1427.5,1226.0L1429.4,1226.0L1431.2,1226.1" fill="none" stroke="#bc4f86" stroke-width="8.1" stroke-linejoin="round" />
<path d="M146.2,1227.8L148.0,1227.6L149.9,1227.5L151.7,1227.5L153.6,1227.5L155.4,1227.5L157.2,1227.5L159.1,1227.5L160.9,1227.5L162.7,1227.5L164.6,1227.5L166.4,1227.5L168.3,1227.5L170.1,1227.5L171.9,1227.5L173.8,1227.5L175.6,1227.5L177.5,1227.5L179.3,1227.5L181.1,1227.5L183.0,1227.5L184.8,1227.5L186.6,1227.5L188.5,1227.5L190.3,1227.5L192.2,1227.5L194.0,1227.5L195.8,1227.5L197.7,1227.5L199.5,1227.5L201.4,1227.5L203.2,1227.5L205.0,1227.5L206.9,1227.5L208.7,1227.5L210.5,1227.5L212.4,1227.5L214.2,1227.5L216.1,1227.5L217.9,1227.5L219.7,1227.5L221.6,1227.5L223.4,1227.5L225.2,1227.5L227.1,1227.5L228.9,1227.5L230.8,1227.5L232.6,1227.5L234.4,1227.5L236.3,1227.5L238.1,1227.5L240.0,1227.5L241.8,1227.5L243.6,1227.5L245.5,1227.5L247.3,1227.5L249.1,1227.5L251.0,1227.5L252.8,1227.5L254.7,1227.5L256.5,1227.5L258.3,1227.5L260.2,1227.5L262.0,1227.5L263.9,1227.5L265.7,1227.5L267.5,1227.5L269.4,1227.4L271.2,1227.4L273.0,1227.4L274.9,1227.4L276.7,1227.4L278.6,1227.4L280.4,1227.4L282.2,1227.4L284.1,1227.4L285.9,1227.4L287.8,1227.4L289.6,1227.4L291.4,1227.4L293.3,1227.4L295.1,1227.4L296.9,1227.4L298.8,1227.4L300.6,1227.4L302.5,1227.4L304.3,1227.4L306.1,1227.4L308.0,1227.4L309.8,1227.4L311.7,1227.4L313.5,1227.4L315.3,1227.4L317.2,1227.4L319.0,1227.4L320.8,1227.4L322.7,1227.4L324.5,1227.4L326.4,1227.4L328.2,1227.4L330.0,1227.4L331.9,1227.4L333.7,1227.4L335.5,1227.4L337.4,1227.3L339.2,1227.3L341.1,1227.3L342.9,1227.3L344.7,1227.3L346.6,1227.3L348.4,1227.3L350.3,1227.3L352.1,1227.3L353.9,1227.3L355.8,1227.3L357.6,1227.3L359.4,1227.3L361.3,1227.3L363.1,1227.3L365.0,1227.3L366.8,1227.3L368.6,1227.3L370.5,1227.3L372.3,1227.3L374.2,1227.3L376.0,1227.3L377.8,1227.3L379.7,1227.3L381.5,1227.2L383.3,1227.2L385.2,1227.2L387.0,1227.2L388.9,1227.2L390.7,1227.2L392.5,1227.2L394.4,1227.2L396.2,1227.2L398.1,1227.2L399.9,1227.2L401.7,1227.2L403.6,1227.2L405.4,1227.2L407.2,1227.2L409.1,1227.2L410.9,1227.2L412.8,1227.1L414.6,1227.1L416.4,1227.1L418.3,1227.1L420.1,1227.1L422.0,1227.1L423.8,1227.1L425.6,1227.1L427.5,1227.1L429.3,1227.1L431.1,1227.1L433.0,1227.1L434.8,1227.0L436.7,1227.0L438.5,1227.0L440.3,1227.0L442.2,1227.0L444.0,1227.0L445.8,1227.0L447.7,1227.0L449.5,1227.0L451.4,1226.9L453.2,1226.9L455.0,1226.9L456.9,1226.9L458.7,1226.9L460.6,1226.9L462.4,1226.9L464.2,1226.9L466.1,1226.8L467.9,1226.8L469.7,1226.8L471.6,1226.8L473.4,1226.8L475.3,1226.8L477.1,1226.7L478.9,1226.7L480.8,1226.7L482.6,1226.7L484.5,1226.7L486.3,1226.6L488.1,1226.6L490.0,1226.6L491.8,1226.6L493.6,1226.5L495.5,1226.5L497.3,1226.5L499.2,1226.4L501.0,1226.4L502.8,1226.4L504.7,1226.3L506.5,1226.3L508.4,1226.3L510.2,1226.2L512.0,1226.2L513.9,1226.2L515.7,1226.1L517.5,1226.1L519.4,1226.0L521.2,1226.0L523.1,1225.9L524.9,1225.8L526.7,1225.8L528.6,1225.7L530.4,1225.7L532.3,1225.6L534.1,1225.5L535.9,1225.4L537.8,1225.3L539.6,1225.2L541.4,1225.1L543.3,1225.0L545.1,1224.9L547.0,1224.8L548.8,1224.7L550.6,1224.5L552.5,1224.4L554.3,1224.2L556.1,1224.0L558.0,1223.8L559.8,1223.6L561.7,1223.4L563.5,1223.1L565.3,1222.9L567.2,1222.6L569.0,1222.2L570.9,1221.9L572.7,1221.5L574.5,1221.1L576.4,1220.7L578.2,1220.2L580.0,1219.7L581.9,1219.1L583.7,1218.5L585.6,1217.9L587.4,1217.2L589.2,1216.5L591.1,1215.7L592.9,1214.9L594.8,1214.0L596.6,1213.1L598.4,1212.2L600.3,1211.2L602.1,1210.3L603.9,1209.2L605.8,1208.2L607.6,1207.2L609.5,1206.1L611.3,1205.0L613.1,1203.9L615.0,1202.8L616.8,1201.7L618.7,1200.6L620.5,1199.5L622.3,1198.4L624.2,1197.3L626.0,1196.1L627.8,1195.0L629.7,1193.9L631.5,1192.7L633.4,1191.6L635.2,1190.5L637.0,1189.3L638.9,1188.2L640.7,1187.0L642.6,1185.9L644.4,1184.7L646.2,1183.6L648.1,1182.4L649.9,1181.2L651.7,1180.1L653.6,1178.9L655.4,1177.7L657.3,1176.5L659.1,1175.4L660.9,1174.2L662.8,1173.0L664.6,1171.8L666.5,1170.6L668.3,1169.4L670.1,1168.2L672.0,1166.9L673.8,1165.7L675.6,1164.5L677.5,1163.3L679.3,1162.0L681.2,1160.8L683.0,1159.6L684.8,1158.3L686.7,1157.1L688.5,1155.8L690.3,1154.6L692.2,1153.3L694.0,1152.0L695.9,1150.7L697.7,1149.5L699.5,1148.2L701.4,1146.9L703.2,1145.6L705.1,1144.3L706.9,1143.0L708.7,1141.7L710.6,1140.4L712.4,1139.0L714.2,1137.7L716.1,1136.4L717.9,1135.0L719.8,1133.7L721.6,1132.3L723.4,1131.0L725.3,1129.6L727.1,1128.2L729.0,1126.9L730.8,1125.5L732.6,1124.1L734.5,1122.7L736.3,1121.3L738.1,1119.9L740.0,1118.5L741.8,1117.1L743.7,1115.6L745.5,1114.2L747.3,1112.8L749.2,1111.3L751.0,1109.9L752.9,1108.4L754.7,1106.9L756.5,1105.5L758.4,1104.0L760.2,1102.5L762.0,1101.0L763.9,1099.5L765.7,1098.0L767.6,1096.5L769.4,1095.0L771.2,1093.4L773.1,1091.9L774.9,1090.4L776.8,1088.8L778.6,1087.3L780.4,1085.7L782.3,1084.1L784.1,1082.5L785.9,1081.0L787.8,1079.4L789.6,1077.8L791.5,1076.2L793.3,1074.6L795.1,1072.9L797.0,1071.3L798.8,1069.7L800.6,1068.0L802.5,1066.4L804.3,1064.8L806.2,1063.1L808.0,1061.4L809.8,1059.7L811.7,1058.1L813.5,1056.4L815.4,1054.7L817.2,1053.0L819.0,1051.3L820.9,1049.6L822.7,1047.8L824.5,1046.1L826.4,1044.4L828.2,1042.6L830.1,1040.9L831.9,1039.1L833.7,1037.4L835.6,1035.6L837.4,1033.8L839.3,1032.0L841.1,1030.2L842.9,1028.5L844.8,1026.6L846.6,1024.8L848.4,1023.0L850.3,1021.2L852.1,1019.4L854.0,1017.5L855.8,1015.7L857.6,1013.9L859.5,1012.0L861.3,1010.2L863.2,1008.3L865.0,1006.4L866.8,1004.6L868.7,1002.7L870.5,1000.8L872.3,998.9L874.2,997.0L876.0,995.1L877.9,993.2L879.7,991.3L881.5,989.4L883.4,987.5L885.2,985.5L887.1,983.6L888.9,981.7L890.7,979.7L892.6,977.8L894.4,975.8L896.2,973.9L898.1,971.9L899.9,970.0L901.8,968.0L903.6,966.0L905.4,964.1L907.3,962.1L909.1,960.1L910.9,958.1L912.8,956.1L914.6,954.1L916.5,952.1L918.3,950.1L920.1,948.1L922.0,946.1L923.8,944.1L925.7,942.1L927.5,940.1L929.3,938.1L931.2,936.1L933.0,934.1L934.8,932.1L936.7,930.0L938.5,928.0L940.4,926.0L942.2,924.0L944.0,921.9L945.9,919.9L947.7,917.9L949.6,915.8L951.4,913.8L953.2,911.8L955.1,909.7L956.9,907.7L958.7,905.7L960.6,903.6L962.4,901.6L964.3,899.5L966.1,897.5L967.9,895.5L969.8,893.4L971.6,891.4L973.5,889.3L975.3,887.3L977.1,885.3L979.0,883.2L980.8,881.2L982.6,879.2L984.5,877.1L986.3,875.1L988.2,873.1L990.0,871.0L991.8,869.0L993.7,867.0L995.5,865.0L997.4,862.9L999.2,860.9L1001.0,858.9L1002.9,856.9L1004.7,854.9L1006.5,852.8L1008.4,850.8L1010.2,848.8L1012.1,846.8L1013.9,844.8L1015.7,842.8L1017.6,840.8L1019.4,838.8L1021.3,836.8L1023.1,834.8L1024.9,832.8L1026.8,830.9L1028.6,828.9L1030.4,826.9L1032.3,824.9L1034.1,823.0L1036.0,821.0L1037.8,819.0L1039.6,817.1L1041.5,815.1L1043.3,813.2L1045.1,811.2L1047.0,809.3L1048.8,807.4L1050.7,805.4L1052.5,803.5L1054.3,801.6L1056.2,799.7L1058.0,797.7L1059.9,795.8L1061.7,793.9L1063.5,792.0L1065.4,790.1L1067.2,788.2L1069.0,786.4L1070.9,784.5L1072.7,782.6L1074.6,780.7L1076.4,778.9L1078.2,777.0L1080.1,775.2L1081.9,773.3L1083.8,771.5L1085.6,769.6L1087.4,767.8L1089.3,766.0L1091.1,764.1L1092.9,762.3L1094.8,760.5L1096.6,758.7L1098.5,756.9L1100.3,755.1L1102.1,753.3L1104.0,751.6L1105.8,749.8L1107.7,748.0L1109.5,746.3L1111.3,744.5L1113.2,742.7L1115.0,741.0L1116.8,739.3L1118.7,738.9L1120.5,738.9L1122.4,738.9L1124.2,738.9L1126.0,738.9L1127.9,738.9L1129.7,738.9L1131.6,738.9L1133.4,738.9L1135.2,738.9L1137.1,738.9L1138.9,738.9L1140.7,738.9L1142.6,738.9L1144.4,738.9L1146.3,738.9L1148.1,738.9L1149.9,738.9L1151.8,738.9L1153.6,738.9L1155.4,738.9L1157.3,738.9L1159.1,738.9L1161.0,738.9L1162.8,738.9L1164.6,738.9L1166.5,738.9L1168.3,738.9L1170.2,738.9L1172.0,738.9L1173.8,738.9L1175.7,738.9L1177.5,738.9L1179.3,738.9L1181.2,738.9L1183.0,738.9L1184.9,738.9L1186.7,738.9L1188.5,738.9L1190.4,738.9L1192.2,738.9L1194.1,738.9L1195.9,738.9L1197.7,738.9L1199.6,738.9L1201.4,738.9L1203.2,738.9L1205.1,738.9L1206.9,738.9L1208.8,738.9L1210.6,738.9L1212.4,738.9L1214.3,738.9L1216.1,738.9L1218.0,738.9L1219.8,738.9L1221.6,738.9L1223.5,738.9L1225.3,738.9L1227.1,738.9L1229.0,738.9L1230.8,738.9L1232.7,738.9L1234.5,738.9L1236.3,738.9L1238.2,738.9L1240.0,738.9L1241.9,738.9L1243.7,738.9L1245.5,738.9L1247.4,738.9L1249.2,738.9L1251.0,738.9L1252.9,738.9L1254.7,738.9L1256.6,738.9L1258.4,738.9L1260.2,738.9L1262.1,738.9L1263.9,738.9L1265.7,738.9L1267.6,738.9L1269.4,738.9L1271.3,738.9L1273.1,738.9L1274.9,738.9L1276.8,738.9L1278.6,738.9L1280.5,738.9L1282.3,738.9L1284.1,738.9L1286.0,738.9L1287.8,738.9L1289.6,738.9L1291.5,738.9L1293.3,738.9L1295.2,738.9L1297.0,738.9L1298.8,738.9L1300.7,738.9L1302.5,738.9L1304.4,738.9L1306.2,738.9L1308.0,738.9L1309.9,738.9L1311.7,738.9L1313.5,738.9L1315.4,738.9L1317.2,738.9L1319.1,738.9L1320.9,738.9L1322.7,738.9L1324.6,738.9L1326.4,738.9L1328.3,738.9L1330.1,738.9L1331.9,738.9L1333.8,738.9L1335.6,738.9L1337.4,738.9L1339.3,738.9L1341.1,738.9L1343.0,738.9L1344.8,738.9L1346.6,738.9L1348.5,738.9L1350.3,738.9L1352.2,738.9L1354.0,738.9L1355.8,738.9L1357.7,738.9L1359.5,738.9L1361.3,738.9L1363.2,738.9L1365.0,738.9L1366.9,738.9L1368.7,738.9L1370.5,738.9L1372.4,738.9L1374.2,738.9L1376.0,738.9L1377.9,738.9L1379.7,738.9L1381.6,738.9L1383.4,738.9L1385.2,738.9L1387.1,738.9L1388.9,738.9L1390.8,738.9L1392.6,738.9L1394.4,738.9L1396.3,738.9L1398.1,738.9L1399.9,738.9L1401.8,738.9L1403.6,738.9L1405.5,738.9L1407.3,738.9L1409.1,738.9L1411.0,738.9L1412.8,738.9L1414.7,738.9L1416.5,738.9L1418.3,738.9L1420.2,738.9L1422.0,738.9L1423.8,738.9L1425.7,738.9L1427.5,738.9L1429.4,738.9L1431.2,738.9" fill="none" stroke="#618483" stroke-width="8.1" stroke-linejoin="round" />
</g>
<text x="794.2" y="1353.1" font-size="35.4" text-anchor="middle" textLength="169" lengthAdjust="spacingAndGlyphs">Time (min)</text>
<text transform="translate(32.1,1070.3) rotate(-90)" font-size="36" text-anchor="middle" textLength="307.5" lengthAdjust="spacingAndGlyphs">Concentrations; nM</text>
<path d="M1468.6,681.9h40" stroke="#bc4f86" stroke-width="8" fill="none"/>
<text x="1528.5" y="691.4" font-size="29" textLength="116.6" lengthAdjust="spacingAndGlyphs">Total Sic1</text>
<path d="M1468.6,729.2h40" stroke="#618483" stroke-width="8" fill="none"/>
<text x="1528.5" y="738.7" font-size="29" textLength="188.8" lengthAdjust="spacingAndGlyphs">Free Clb5-Cdk1</text>
<path d="M1468.6,776.5h40" stroke="#e9141d" stroke-width="2.7" fill="none"/>
<text x="1528.5" y="786.0" font-size="29" textLength="108.8" lengthAdjust="spacingAndGlyphs">Free Sic1</text>
<path d="M1468.6,823.8h40" stroke="#a38dc5" stroke-width="2.7" fill="none"/>
<text x="1528.5" y="833.2" font-size="29" textLength="196.4" lengthAdjust="spacingAndGlyphs">Total Clb5-Cdk1</text>
<path d="M1468.6,871.2h40" stroke="#c9bc45" stroke-width="2.7" fill="none"/>
<text x="1528.5" y="880.5" font-size="29" textLength="196.4" lengthAdjust="spacingAndGlyphs">Total Cln2-Cdk1</text>
<path d="M1468.6,918.5h40" stroke="#3b7a59" stroke-width="0.9" fill="none"/>
<text x="1528.5" y="927.8" font-size="29" textLength="149.6" lengthAdjust="spacingAndGlyphs">Free 1P-Sic1</text>
<path d="M1468.6,965.8h40" stroke="#ee2a30" stroke-width="0.9" fill="none"/>
<text x="1528.5" y="975.1" font-size="29" textLength="149.6" lengthAdjust="spacingAndGlyphs">Free 2P-Sic1</text>
<path d="M1468.6,1013.1h40" stroke="#1b9bd1" stroke-width="0.9" fill="none"/>
<text x="1528.5" y="1022.4" font-size="29" textLength="149.6" lengthAdjust="spacingAndGlyphs">Free 3P-Sic1</text>
<path d="M1468.6,1060.4h40" stroke="#c03a88" stroke-width="0.9" fill="none"/>
<text x="1528.5" y="1069.6" font-size="29" textLength="149.6" lengthAdjust="spacingAndGlyphs">Free 4P-Sic1</text>
<path d="M1468.6,1107.7h40" stroke="#d6cc62" stroke-width="0.9" fill="none"/>
<text x="1528.5" y="1116.9" font-size="29" textLength="149.6" lengthAdjust="spacingAndGlyphs">Free 5P-Sic1</text>
<path d="M1468.6,1155.0h40" stroke="#4d4d4f" stroke-width="0.9" fill="none"/>
<text x="1528.5" y="1164.2" font-size="29" textLength="190.3" lengthAdjust="spacingAndGlyphs">Sic1/Clb5-Cdk1</text>
<path d="M1468.6,1202.3h40" stroke="#2e3192" stroke-width="0.9" fill="none"/>
<text x="1528.5" y="1211.5" font-size="29" textLength="229.8" lengthAdjust="spacingAndGlyphs">1P-Sic1/Clb5-Cdk1</text>
<path d="M1468.6,1249.7h40" stroke="#3b7a59" stroke-width="0.9" fill="none"/>
<text x="1528.5" y="1258.8" font-size="29" textLength="229.8" lengthAdjust="spacingAndGlyphs">2P-Sic1/Clb5-Cdk1</text>
<path d="M1468.6,1297.0h40" stroke="#ed1c24" stroke-width="0.9" fill="none"/>
<text x="1528.5" y="1306.0" font-size="29" textLength="229.8" lengthAdjust="spacingAndGlyphs">3P-Sic1/Clb5-Cdk1</text>
<path d="M1468.6,1344.3h40" stroke="#1b9bd1" stroke-width="0.9" fill="none"/>
<text x="1528.5" y="1353.3" font-size="29" textLength="229.8" lengthAdjust="spacingAndGlyphs">4P-Sic1/Clb5-Cdk1</text>
<path d="M1468.6,1391.6h40" stroke="#c03a88" stroke-width="0.9" fill="none"/>
<text x="1528.5" y="1400.6" font-size="29" textLength="229.8" lengthAdjust="spacingAndGlyphs">5P-Sic1/Clb5-Cdk1</text>
</svg>
</body></html>
